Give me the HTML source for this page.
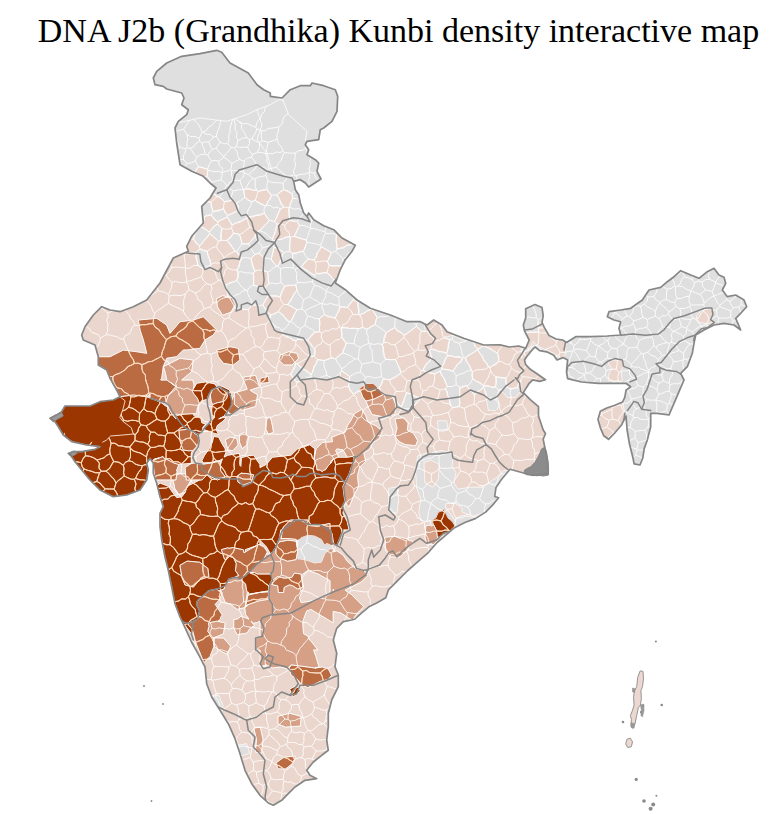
<!DOCTYPE html>
<html><head><meta charset="utf-8"><style>
html,body{margin:0;padding:0;background:#fff;}
body{width:771px;height:814px;overflow:hidden;position:relative;font-family:"Liberation Serif",serif;}
h1{position:absolute;left:13px;top:11px;width:771px;margin:0;font-weight:normal;font-size:34px;line-height:40px;text-align:center;color:#000;white-space:nowrap;}
svg{position:absolute;left:0;top:0}
</style></head><body>
<h1>DNA J2b (Grandhika) Kunbi density interactive map</h1>
<svg width="771" height="814" viewBox="0 0 771 814">
<defs><clipPath id="c"><polygon points="181.7,56.3 200.0,53.7 216.7,50.3 221.7,52.3 230.0,63.0 248.3,73.0 257.0,84.7 263.7,89.7 270.3,93.0 270.3,96.3 282.0,98.0 290.3,89.7 300.3,85.7 310.3,85.7 312.0,83.0 323.7,85.7 335.3,89.7 337.7,96.3 337.0,111.3 332.0,121.3 323.7,128.0 320.3,129.7 318.7,139.7 307.0,141.3 305.3,144.7 308.7,149.7 307.0,154.7 315.3,159.7 318.7,163.0 317.0,171.3 321.0,179.0 308.7,187.0 305.3,183.0 300.3,179.7 293.7,181.3 295.3,189.7 298.7,194.7 300.3,203.0 303.7,213.0 307.0,216.3 308.7,213.0 313.7,219.7 323.7,225.7 333.7,229.7 342.0,238.0 355.3,245.3 352.0,251.3 345.3,259.7 340.3,269.7 335.3,283.0 345.3,289.7 357.0,300.0 370.3,308.3 390.3,315.0 407.0,321.7 420.3,321.7 427.0,325.0 433.7,320.0 442.0,325.0 447.0,331.7 463.7,338.3 483.7,345.0 500.0,344.8 509.3,347.0 518.7,346.0 525.7,348.3 529.2,340.0 524.5,330.8 523.3,325.0 525.7,318.0 525.7,308.7 535.0,304.5 542.0,307.5 543.2,315.7 542.0,322.7 544.3,327.3 549.0,335.5 556.0,339.0 563.0,340.2 566.5,342.5 575.7,336.7 590.7,336.7 607.3,336.0 620.7,335.0 619.0,328.3 620.7,321.7 614.0,320.0 607.3,316.7 609.0,311.7 620.7,310.0 630.7,308.3 642.3,300.0 649.0,290.0 660.7,287.3 667.3,281.7 674.0,276.7 680.7,270.7 690.7,275.0 699.0,278.3 707.3,271.7 714.0,268.3 719.0,275.0 724.0,277.3 725.7,283.3 722.3,290.0 727.3,296.7 735.7,295.0 744.0,300.0 746.7,306.7 740.7,313.3 735.7,318.3 740.7,330.0 734.0,325.0 724.0,323.3 714.0,325.0 704.0,330.0 695.7,335.0 694.0,343.3 692.3,353.3 687.3,366.7 680.7,373.3 684.0,380.0 679.0,391.7 674.0,403.3 669.0,415.0 657.3,413.3 650.7,413.3 650.7,426.7 647.3,440.0 644.2,448.6 642.8,458.0 640.0,465.0 634.1,463.8 633.0,458.0 629.5,444.0 627.1,430.0 626.0,416.0 621.3,425.3 614.3,433.5 608.5,439.3 603.8,435.8 600.3,427.6 598.0,419.5 600.3,411.3 607.3,407.8 614.3,405.5 622.5,402.0 624.8,397.3 626.0,390.3 630.6,386.8 626.0,383.3 612.0,383.3 598.0,383.3 581.6,382.0 567.6,378.6 566.5,371.6 567.6,360.0 563.0,357.6 557.0,360.0 553.7,355.3 546.7,351.8 539.7,350.6 535.0,347.0 531.5,350.6 526.8,356.5 524.5,360.0 525.7,364.6 530.3,369.3 537.3,374.0 545.5,379.8 539.7,381.4 532.7,379.8 529.2,383.3 523.3,392.6 530.3,399.6 538.5,406.6 538.5,416.0 543.2,430.0 545.5,433.5 543.2,439.3 545.5,451.0 547.8,462.6 547.8,473.0 537.3,475.4 526.8,474.3 523.5,473.0 510.0,469.3 501.2,479.7 496.0,487.4 494.7,496.5 498.6,497.8 492.1,505.6 485.6,512.1 475.3,518.6 464.9,522.5 454.5,527.7 444.1,536.7 436.4,543.2 428.6,552.3 418.2,561.4 407.8,570.5 397.4,580.8 388.4,589.9 385.8,597.7 376.7,602.9 368.9,606.8 361.1,613.3 355.0,619.0 351.7,620.0 343.3,621.7 336.7,628.3 333.3,640.0 336.7,653.3 335.0,666.7 338.3,675.0 338.3,686.7 331.7,700.0 328.3,713.3 328.3,726.7 326.7,740.0 328.3,750.3 321.7,755.3 313.3,762.0 306.7,770.3 310.0,775.3 316.7,778.7 305.0,780.3 295.0,787.0 288.3,793.7 281.7,800.3 273.3,805.3 268.3,803.0 260.0,795.3 251.7,783.7 245.0,770.3 240.0,753.7 235.0,738.7 228.3,723.7 220.0,710.3 211.7,697.0 206.7,683.7 205.0,667.0 199.0,655.3 191.5,642.0 185.5,628.7 180.0,617.0 175.0,603.7 171.7,587.0 168.3,570.3 165.0,557.0 161.7,540.0 160.0,526.7 160.0,513.3 163.3,506.7 160.0,496.7 156.7,483.3 153.3,473.3 153.3,463.3 150.0,458.3 146.7,463.3 148.3,470.0 146.7,480.0 140.0,490.0 126.7,495.0 113.3,496.7 100.0,490.0 90.0,480.0 81.7,470.0 75.0,461.7 71.7,456.7 68.3,453.3 75.0,451.7 81.7,451.7 95.0,449.3 100.0,446.7 86.7,445.0 71.7,441.7 63.3,435.0 58.3,426.7 55.0,421.7 50.0,418.3 56.7,415.0 61.7,411.7 65.0,406.0 76.7,406.0 90.0,406.0 100.0,401.7 113.3,400.0 120.0,396.7 116.7,390.0 110.0,378.3 106.7,370.0 98.3,365.0 98.3,356.7 95.0,345.0 83.3,340.0 81.7,335.0 85.0,326.7 93.3,315.0 101.7,306.7 110.0,310.0 120.0,311.7 133.3,306.7 146.7,300.0 160.0,283.0 173.3,258.0 188.3,251.3 186.7,246.3 191.7,236.3 203.3,223.0 201.7,206.3 210.0,198.0 216.0,188.0 210.0,183.0 203.3,176.3 191.7,171.3 180.0,164.7 176.7,143.0 175.0,128.0 178.3,121.3 186.7,114.7 188.3,109.7 181.7,104.7 184.0,98.0 181.7,93.0 166.7,89.0 163.3,86.3 155.0,84.7 153.3,78.0 156.7,71.3 166.7,63.0"/></clipPath></defs>
<g clip-path="url(#c)">
<rect x="0" y="40" width="771" height="774" fill="#dfdfdf"/>
<path d="M195.7 173.0 203.3 176.3 204.3 177.3 209.3 182.3 211.7 182.7 211.7 182.4 207.1 176.4 207.8 171.1 207.9 170.3 207.6 169.3 198.4 166.7 195.1 172.2ZM223.5 208.7 227.6 215.4 238.2 211.0 236.5 203.1 233.5 201.3 233.5 201.3 231.6 200.1 224.4 201.6 218.9 196.8 216.8 196.6 215.0 194.2 211.4 195.7 210.0 198.0 206.1 201.9 210.8 202.2 213.0 211.4ZM165.0 371.7 163.3 366.7 161.7 378.3 160.8 380.0 166.7 380.0ZM170.6 382.6 175.9 386.5 175.9 386.3ZM150.0 393.9 146.7 396.7 150.0 397.9ZM168.5 408.4 167.0 403.9 165.6 402.7 157.8 400.8 155.8 400.1 160.0 401.7 166.7 406.7ZM154.0 459.2 153.6 460.0 159.3 457.9ZM177.2 470.8 176.6 475.3 178.9 473.8 185.6 473.8 185.0 468.2 185.3 468.1 185.1 467.5 191.3 463.4 178.9 464.4 176.6 470.6ZM153.3 465.7 153.3 473.3 154.9 478.1ZM191.8 480.0 187.2 486.2 193.4 483.1 199.6 480.0ZM160.2 483.1 168.5 486.2 172.6 492.4 176.8 497.6 182.0 496.6 185.1 492.4 178.9 494.5 174.7 488.3 173.1 480.0 155.6 480.0 156.7 483.3 157.2 485.3ZM222.3 593.1 220.4 590.2 219.7 592.0 221.9 594.2ZM247.5 597.3 247.3 596.4 247.8 596.3 248.1 595.0 259.0 592.5 248.9 594.2 248.5 592.3 247.3 592.3 247.1 593.7 247.2 594.2 246.6 597.5 245.3 606.8 244.9 606.6 244.7 607.7 248.9 604.3 245.5 606.0ZM257.9 191.5 256.9 190.5 245.5 188.9 243.7 189.7 244.9 197.3 250.7 201.2 251.4 201.7 255.2 200.4 265.6 205.9 266.4 205.3 271.5 195.1 267.2 189.6 261.4 190.8ZM289.0 207.6 289.6 207.2 292.8 198.3 291.8 193.7 283.5 189.7 276.8 195.0 283.8 207.1 280.5 209.1 274.6 221.5 277.2 224.0 272.6 239.0 273.3 240.9 287.3 237.5 290.0 236.9 290.3 237.1 289.9 246.2 289.7 251.2 292.6 253.3 303.4 251.5 307.0 242.3 307.0 242.1 307.0 242.1 306.0 240.0 294.0 236.4 294.7 235.0 299.5 225.4 297.2 221.6 289.6 220.5ZM277.0 266.4 277.6 266.5 283.6 252.5 273.9 247.1 271.3 259.5 276.7 266.1ZM308.5 259.0 301.6 266.6 314.7 275.4 316.3 273.4 327.1 272.8 330.9 276.9 333.6 279.8 336.7 279.3 340.3 269.7 342.1 266.0 329.2 265.5 327.5 261.3 331.4 252.4 321.8 247.0 321.8 247.0 321.1 246.7 316.1 256.1 314.0 260.1 311.9 259.7ZM264.1 258.5 262.5 256.9 259.0 253.2 254.8 254.5 251.0 258.5 253.8 267.5 254.9 271.0 253.2 273.4 253.6 285.2 265.4 287.5 268.9 283.3 267.5 272.0 262.5 270.1 262.8 267.5 263.0 266.2 263.0 266.2ZM284.9 286.2 283.6 289.2 283.2 290.2 280.1 297.1 268.1 295.9 262.8 305.1 270.0 314.5 270.0 317.8 270.6 315.3 278.5 311.6 289.6 321.8 290.3 321.6 297.1 309.7 294.7 308.5 287.5 304.6 296.9 290.3 295.7 284.9 295.5 284.9ZM222.0 443.6 225.2 448.7 225.9 452.6 224.2 457.0 227.8 455.2 235.6 453.9 239.5 453.3 240.1 457.8 239.8 463.1 240.1 465.5 240.9 466.3 240.8 465.6 241.4 457.8 242.2 457.6 243.7 457.1 250.0 455.2 250.0 455.7 253.6 455.1 257.7 461.3 260.0 464.4 260.0 467.5 266.2 464.4 272.5 457.2 282.8 456.1 291.1 455.1 297.4 448.9 309.8 444.7 315.0 448.9 314.0 459.2 316.0 448.9 322.3 442.6 324.6 442.4 325.3 441.7 326.3 442.2 332.6 441.6 331.6 437.4 338.9 434.3 345.1 432.3 347.2 426.0 351.3 419.8 354.4 413.6 361.7 409.4 365.8 415.7 367.9 421.9 376.2 426.0 382.4 431.2 379.3 438.5 373.1 442.6 370.0 448.9 363.8 453.0 365.8 461.3 359.6 467.5 357.5 475.8 358.6 486.2 353.4 496.6 349.2 507.0 345.1 502.8 343.0 513.2 347.2 521.5 349.2 530.0 343.0 530.0 339.9 538.3 336.8 545.6 333.5 543.6 333.7 545.0 331.4 545.5 331.6 545.6 334.7 550.8 333.2 551.5 333.2 551.9 336.8 550.8 343.0 554.9 347.2 561.1 355.5 568.4 363.8 570.5 367.9 575.7 361.7 581.9 353.4 586.0 345.1 590.2 351.3 594.3 357.5 600.6 363.8 606.8 357.5 613.0 352.8 619.7 355.0 619.0 361.1 613.3 368.9 606.8 376.7 602.9 385.8 597.7 388.4 589.9 397.4 580.8 407.8 570.5 418.2 561.4 428.6 552.3 436.4 543.2 444.1 536.7 447.5 533.7 446.1 534.5 445.7 534.9 438.6 538.4 433.7 545.0 431.3 543.8 427.0 545.3 424.9 537.0 425.9 525.6 430.8 524.9 430.4 522.0 420.8 520.4 418.7 512.1 420.8 499.6 416.6 487.2 415.6 470.6 417.6 456.0 427.0 452.9 432.5 453.5 432.5 452.5 440.8 450.5 451.1 452.5 451.2 453.0 451.9 452.9 452.9 459.1 451.9 466.4 456.0 472.6 454.0 483.0 458.1 489.2 470.6 487.2 483.0 487.2 491.3 480.9 497.5 476.8 503.8 470.6 508.9 470.6 510.0 469.3 523.5 473.0 526.8 474.3 537.3 475.4 547.8 473.0 547.8 462.6 545.5 451.0 543.2 439.3 545.5 433.5 543.2 430.0 538.5 416.0 538.5 406.6 530.3 399.6 525.6 394.9 521.0 392.0 523.7 392.0 529.2 383.3 532.7 379.8 539.7 381.4 545.5 379.8 542.2 377.5 531.0 370.0 530.6 369.5 530.3 369.3 525.7 364.6 524.5 360.0 526.8 356.5 531.5 350.6 533.4 348.7 532.0 349.0 524.0 352.0 521.7 358.1 521.0 348.0 521.5 346.9 518.7 346.0 509.3 347.0 502.4 345.4 500.0 344.8 483.7 345.0 472.2 341.2 477.8 349.3 483.7 345.8 497.6 353.2 498.7 361.3 489.9 367.4 488.6 367.1 482.3 357.1 477.6 349.7 465.5 357.9 466.5 360.1 471.4 370.8 471.6 370.9 472.4 371.6 472.7 378.8 483.8 385.8 483.9 386.0 495.6 387.1 495.9 376.7 505.8 378.0 506.6 382.7 507.4 387.3 511.0 388.9 516.8 387.7 519.4 382.8 519.6 383.0 520.6 391.3 515.5 397.5 507.2 397.5 502.0 391.3 502.4 389.0 498.8 390.2 496.5 398.1 497.8 398.6 499.9 405.8 497.5 408.2 497.5 409.3 496.3 409.5 494.7 411.0 491.6 410.0 488.2 410.4 487.7 405.4 486.4 399.6 488.8 398.2 487.7 397.9 483.5 387.1 474.4 395.0 467.0 385.9 464.5 386.5 461.5 388.2 460.4 387.4 460.1 387.5 459.1 406.5 452.6 407.8 451.5 406.3 445.3 388.8 447.4 386.4 443.9 378.9 443.9 378.9 440.2 371.2 434.9 373.7 426.4 371.4 425.2 371.1 422.8 370.4 431.6 357.4 430.0 351.8 429.6 350.2 430.7 349.3 441.6 352.0 446.6 353.2 447.3 350.5 449.9 339.7 443.8 337.6 443.9 337.4 453.2 335.3 461.5 339.4 465.6 340.4 467.6 339.6 463.7 338.3 447.0 331.7 443.2 326.6 443.2 326.6 442.0 325.0 433.7 320.0 430.0 322.8 428.5 323.9 427.0 325.0 424.7 323.9 425.0 331.4 421.6 331.2 416.4 326.4 404.0 335.4 400.5 332.5 394.8 327.6 386.3 332.6 383.7 342.8 382.1 344.3 385.5 359.2 395.7 359.6 400.5 371.7 400.7 372.2 400.4 373.4 389.4 379.8 383.3 378.8 380.3 385.5 379.4 387.7 380.3 389.6 380.3 390.0 380.8 390.4 380.8 390.5 381.0 390.7 382.4 392.0 384.3 394.0 385.3 395.0 389.3 395.7 392.8 397.0 392.8 397.0 393.6 399.1 395.9 405.3 394.9 414.6 382.4 416.7 372.1 414.6 368.9 408.4 365.8 401.1 362.7 397.0 360.4 390.8 353.6 394.3 348.8 387.0 349.1 381.8 348.7 381.7 338.7 376.7 327.0 380.0 317.9 378.9 314.6 380.1 312.8 378.4 304.2 379.5 296.9 382.3 290.8 374.1 295.5 363.7 296.9 363.6 302.5 368.1 311.0 375.0 317.5 359.6 324.2 360.5 331.4 357.8 335.7 358.8 342.9 353.0 346.2 342.9 341.9 336.9 341.0 328.0 341.3 327.9 353.7 328.6 358.3 328.9 360.3 328.2 362.7 327.4 363.5 327.8 367.0 329.4 368.8 328.3 375.2 324.6 377.2 317.5 371.8 309.1 364.0 312.9 359.7 315.0 358.7 314.5 357.9 302.2 353.5 299.8 347.4 307.5 340.0 307.0 335.2 318.2 324.4 314.7 319.2 318.7 319.7 331.8 315.2 332.2 307.6 340.3 314.8 349.2 314.1 356.2 309.9 356.3 309.4 356.6 310.3 355.0 308.7 346.7 304.7 340.1 297.6 339.5 296.0 340.8 282.8 334.6 282.5 333.0 277.0 331.7 274.5 330.0 274.2 329.4 275.4 325.7 269.2 321.3 269.5 319.8 266.2 313.2 258.9 315.3 257.9 307.0 257.3 305.1 252.0 305.0 248.2 309.6 241.3 308.6 241.3 309.0 236.1 311.1 236.6 308.0 235.0 307.8 234.3 306.3 230.9 312.2 222.6 315.3 217.4 307.0 216.4 298.7 222.6 295.6 231.5 297.5 227.6 296.7 226.7 289.7 225.7 288.3 223.9 283.3 226.1 285.0 236.9 280.4 237.9 272.1 236.7 270.0 242.0 258.0 236.6 251.4 234.9 251.2 226.9 240.4 228.9 238.2 233.5 233.0 239.6 234.4 241.3 240.9 242.1 243.9 248.6 243.8 255.2 236.2 255.6 231.7 260.0 230.7 269.3 220.4 264.3 213.2 247.5 217.3 247.5 217.5 243.4 219.5 240.9 220.7 232.0 225.1 227.1 216.9 217.9 222.0 211.3 215.0 204.4 216.6 203.0 220.2 203.3 223.0 201.1 225.6 201.1 225.6 200.1 226.6 200.7 226.5 209.1 232.0 212.3 229.0 215.4 226.0 217.6 224.0 219.6 226.0 221.6 228.1 222.0 228.5 221.6 233.5 221.1 240.4 218.4 241.4 212.3 235.9 209.6 233.5 199.4 246.2 198.4 244.9 193.6 239.1 196.3 231.0 191.7 236.3 190.3 239.2 187.0 245.7 186.7 246.3 188.3 251.3 186.4 252.2 183.2 253.6 183.5 253.9 180.5 254.8 173.3 258.0 160.0 283.0 146.7 300.0 133.3 306.7 120.0 311.7 110.0 310.0 101.7 306.7 93.3 315.0 85.0 326.7 81.7 335.0 83.3 340.0 95.0 345.0 98.3 356.7 98.3 356.9 98.3 356.7 110.0 356.7 123.3 350.0 136.7 351.7 146.7 353.3 143.3 340.0 140.0 330.0 138.3 320.0 156.7 318.3 166.7 325.0 170.0 333.3 180.0 321.7 193.3 320.0 203.3 316.7 210.0 323.3 216.7 330.0 213.3 335.0 205.0 340.0 200.0 348.3 186.7 350.0 183.3 350.0 176.7 356.7 166.7 358.3 163.3 366.7 180.0 358.3 193.3 360.0 191.7 371.7 181.7 380.0 192.8 380.0 194.1 385.2 193.3 389.0 196.7 383.2 205.8 381.9 214.9 383.9 217.4 387.8 222.6 386.5 229.1 389.7 231.7 394.3 231.7 400.8 233.0 396.9 234.3 396.2 234.3 392.8 247.2 389.2 242.1 377.3 255.7 375.3 259.6 387.0 250.0 390.2 257.6 394.8 255.7 406.5 242.1 410.4 239.4 408.3 235.6 411.1 230.4 415.0 227.8 411.1 223.9 416.3 218.7 418.9 222.6 417.6 226.5 417.6 222.6 421.5 217.4 425.4 216.1 429.3 218.7 434.5 213.6 433.2 208.4 431.2 204.5 429.9 203.8 428.0 208.4 424.1 211.0 420.2 214.9 417.0 212.0 415.0 211.6 409.8 212.3 404.6 211.0 400.8 210.3 394.9 212.3 389.7 209.0 394.3 207.1 399.5 201.9 400.8 199.3 403.3 197.3 408.5 196.7 413.7 192.8 413.7 194.7 416.3 200.6 416.3 201.9 422.8 205.8 424.1 203.2 426.7 201.9 431.9 198.0 434.5 197.7 434.3 197.5 434.3 192.2 431.0 190.2 430.3 191.5 431.7 192.8 431.9 198.0 435.8 199.3 441.0 197.3 446.1 192.8 450.7 192.7 450.7 191.3 453.0 191.3 463.4 195.4 463.0 195.4 463.0 201.9 464.3 211.0 463.0 211.5 462.9 220.0 461.1 220.3 464.8 222.3 458.9 220.0 460.4 211.0 462.4 203.2 463.0 201.9 460.4 204.5 455.2 208.4 450.0 212.3 442.3 213.6 436.4 218.7 437.1ZM342.5 326.5 342.5 326.5 341.3 327.9ZM401.0 406.8 406.5 392.7 420.5 398.0 420.5 398.0 411.3 408.4 410.6 408.4 408.7 411.7 397.0 406.7 396.2 401.8ZM520.6 387.2 520.2 381.4 521.0 379.8 521.0 387.6ZM521.0 373.7 521.0 374.4 520.7 373.9ZM411.0 380.4 411.9 380.3 410.3 386.7ZM205.0 268.6 204.8 267.8 203.0 268.5 197.9 265.5 196.0 252.6 198.6 250.0 199.9 248.7 207.2 251.2 207.7 253.0 208.1 254.4 210.9 264.4 210.3 265.4 212.4 269.1ZM230.0 346.7 238.3 348.3 240.0 360.0 233.3 365.0 223.3 363.3 218.3 356.7 216.7 350.0ZM407.3 430.2 413.6 433.3 417.7 440.6 415.6 445.7 405.3 444.7 399.0 441.6 394.9 436.4 397.0 428.1 394.9 418.8 403.2 417.7 408.4 421.9ZM270.4 416.7 272.5 426.0 273.5 432.3 268.3 434.3 265.8 429.1 266.2 417.7ZM269.3 382.5 260.0 383.5 260.0 378.3 268.3 376.2ZM394.9 536.2 397.6 537.0 400.0 537.2 400.0 537.0 401.3 537.3 402.0 537.3 402.1 537.5 408.3 539.0 408.3 540.1 413.6 541.4 409.4 546.6 408.3 547.2 408.3 549.4 407.0 549.9 407.0 550.0 400.3 557.0 390.3 557.0 385.3 550.0 385.3 541.8 384.5 537.3ZM283.7 365.0 278.7 360.0 280.3 355.0 288.7 351.7 297.0 353.3 298.7 358.3 292.0 365.0ZM447.9 428.7 448.1 430.1 445.1 430.4 442.8 431.8 441.5 430.8 438.4 431.1 437.4 420.8 446.7 420.8 447.8 428.1 448.0 428.7ZM397.0 486.7 398.7 500.0 397.0 513.3 388.7 511.7 388.7 493.5 388.7 493.5 388.7 493.5 388.7 488.3ZM244.7 432.5 248.6 437.1 247.3 444.9 242.1 448.7 239.5 442.3 239.5 434.5ZM225.2 439.7 230.4 437.1 236.9 438.4 238.2 444.9 233.0 450.7 227.8 450.0ZM332.0 460.0 330.8 461.8 330.6 463.4 333.2 459.4ZM297.8 541.1 298.9 540.0 297.4 540.4 296.3 540.4 296.4 541.3 297.4 541.4 297.8 545.4ZM266.3 554.3 270.4 553.9 266.2 546.6 260.0 540.4 260.0 544.5 260.0 544.9 264.1 547.0 267.4 552.0ZM271.0 554.3 273.1 551.1 270.4 553.9ZM302.9 574.0 301.2 575.6 303.7 587.4 299.5 597.6 301.2 602.6 311.3 600.9 321.4 597.6 330.0 594.2 330.0 580.7 318.0 574.0 307.9 570.6ZM333.2 590.7 333.7 590.2 333.2 589.2ZM301.5 684.6 297.4 679.4 291.1 675.3 289.1 668.0 291.1 664.9 287.0 669.0 280.8 667.0 272.5 668.0 266.2 664.9 260.0 667.0 260.0 650.0 255.6 650.0 255.6 638.0 260.0 637.4 260.0 621.3 258.3 621.8 257.3 622.9 256.1 622.6 253.6 623.4 251.6 621.4 251.1 621.3 254.6 625.5 249.8 628.7 247.2 633.0 237.1 634.7 233.7 627.9 233.7 619.5 237.9 618.8 241.1 616.1 249.0 619.1 245.5 614.4 244.7 607.7 237.1 609.4 230.4 604.3 225.3 602.6 221.9 594.2 218.5 600.9 215.2 604.3 217.9 608.4 218.3 608.9 222.4 615.1 221.3 616.2 220.2 619.5 217.7 621.3 225.3 622.9 223.6 633.0 223.6 633.0 223.5 633.8 216.2 636.9 213.1 637.9 214.1 646.2 210.0 656.6 203.8 662.8 200.6 654.5 195.5 642.1 192.3 629.6 191.3 633.8 182.1 621.5 185.5 628.7 191.5 642.0 199.0 655.3 205.0 667.0 206.7 683.7 211.7 697.0 211.9 697.3 211.7 696.9 218.7 694.9 223.4 706.6 219.4 709.3 220.0 710.3 228.3 723.7 235.0 738.7 237.3 745.5 246.7 743.6 249.8 753.3 240.9 756.0 239.7 752.8 240.0 753.7 245.0 770.3 251.7 783.7 260.0 795.3 268.3 803.0 273.3 805.3 281.7 800.3 288.3 793.7 295.0 787.0 305.0 780.3 316.7 778.7 310.0 775.3 306.7 770.3 313.3 762.0 321.7 755.3 328.3 750.3 326.7 740.0 328.3 726.7 328.3 713.3 331.7 700.0 338.3 686.7 338.3 675.0 335.0 666.7 336.7 653.3 333.3 640.0 336.7 628.3 343.3 621.7 351.7 620.0 351.8 620.0 347.2 617.2 340.9 613.0 333.2 611.5 333.2 622.9 310.8 609.4 309.8 609.9 306.7 610.9 302.9 621.2 302.9 625.0 303.6 633.8 307.7 635.8 309.8 640.0 310.0 640.4 311.3 641.4 318.0 650.0 313.6 650.0 316.0 656.6 319.1 667.0 315.0 668.0 322.3 667.0 328.5 669.0 331.6 675.3 328.5 679.4 320.2 681.5 314.0 684.6 307.7 687.7ZM214.1 637.9 223.5 637.9 230.7 646.2 227.6 654.5 219.3 650.4 214.1 646.2ZM277.9 716.3 289.5 713.2 301.2 716.3 300.4 726.1 285.6 727.2 277.9 724.1ZM277.9 768.9 275.9 763.0 283.7 757.2 295.4 756.0 293.4 763.0 285.6 768.9ZM255.3 752.1 256.5 739.7 253.7 728.0 260.4 727.2 263.1 739.7 261.5 753.3ZM297.3 685.2 300.4 691.0 293.4 696.9 289.5 689.1ZM336.5 235.2 336.8 249.3 352.6 243.8 342.0 238.0 338.2 234.2ZM698.8 322.3 706.6 323.6 713.0 322.3 710.5 319.7 713.0 314.5 711.8 308.0 701.4 310.6 696.2 315.8ZM542.0 322.7 542.1 321.8 538.4 322.5 538.6 327.6 542.9 327.0 542.6 323.9ZM563.0 340.2 556.0 339.0 552.6 337.3 548.7 336.3 544.5 328.0 542.4 328.0 538.6 328.4 538.7 332.0 525.8 332.5 524.8 331.5 525.2 332.1 529.2 340.0 526.0 347.6 525.8 348.8 530.0 347.7 533.1 341.5 538.3 346.7 546.6 349.8 554.9 354.0 559.8 358.9 562.8 357.7 565.3 354.0 566.2 342.3ZM453.0 371.2 455.8 367.4 457.8 364.6 461.8 359.2 462.5 358.2 447.6 355.7 443.2 364.6 442.8 365.2 441.8 367.2 441.9 368.9ZM622.3 359.9 614.5 359.9 608.0 362.5 611.9 368.9 609.3 372.8 608.0 380.6 622.3 381.4 621.0 370.2 623.6 366.4ZM349.3 379.1 349.5 376.5 342.0 371.2 340.1 372.6 340.6 377.3ZM622.4 402.0 618.0 403.9 615.8 405.3 610.0 406.9 607.3 407.8 605.2 408.8 600.0 412.3 598.9 416.3 598.9 422.7 600.3 427.6 600.3 427.6 603.8 435.8 603.8 435.8 608.1 439.0 608.8 439.0 614.3 433.5 621.3 425.3 623.1 421.8 623.6 420.8 624.9 413.0ZM347.2 457.2 343.0 449.9 336.8 448.9 335.7 450.7 338.7 456.7 337.7 457.2ZM431.1 460.2 423.9 462.3 424.9 483.0 433.2 487.2 438.4 478.9 439.4 464.3ZM508.9 470.6 501.7 476.8 496.5 485.1 494.4 494.4 494.9 494.9 496.0 487.4 501.2 479.7ZM454.0 502.7 445.7 503.8 445.7 508.2 446.7 508.2 455.5 521.4 456.0 518.3 462.3 515.2 472.6 517.3 481.8 514.5 485.6 512.1 492.1 505.6 498.6 497.8 497.4 497.4 497.5 497.5 491.3 505.8 483.0 513.1 472.6 516.2 462.3 512.1 461.8 511.8 462.3 507.9ZM454.5 527.7 454.5 527.7 457.7 526.1 456.1 525.2Z" fill="#ead6cc" fill-rule="evenodd" stroke="#ead6cc" stroke-width="0.4"/>
<path d="M169.5 405.9 167.0 403.9 168.5 408.4 171.6 413.6 175.7 418.8 176.7 417.5 175.9 416.3 179.8 414.4 192.8 413.7 196.7 413.7 197.3 408.5 199.3 403.3 197.3 398.2 194.1 394.3 192.2 391.0 193.3 389.0 194.1 385.2 192.8 380.0 181.7 380.0 191.7 371.7 193.3 360.0 180.0 358.3 163.3 366.7 165.0 371.7 166.7 380.0 175.9 386.3 175.9 386.5 168.2 395.6 165.6 402.7ZM178.9 473.8 176.6 475.3 175.9 480.0 173.1 480.0 174.7 488.3 178.9 494.5 185.1 492.4 187.2 486.2 191.8 480.0 186.3 480.0 185.6 473.8ZM345.1 432.3 338.9 434.3 331.6 437.4 332.6 441.6 326.3 442.2 325.3 441.7 324.6 442.4 322.3 442.6 316.0 448.9 314.0 459.2 316.5 466.0 317.0 470.0 320.1 470.0 322.3 471.7 323.9 470.0 325.3 470.0 328.1 465.8 330.6 463.4 330.8 461.8 332.0 460.0 338.7 456.7 335.7 450.7 336.8 448.9 343.0 449.9 347.2 457.2 354.4 456.1 353.4 463.4 351.3 467.5 349.2 473.8 346.1 480.0 343.0 486.2 344.0 494.5 345.1 502.8 349.2 507.0 353.4 496.6 358.6 486.2 357.5 475.8 359.6 467.5 365.8 461.3 363.8 453.0 370.0 448.9 373.1 442.6 379.3 438.5 382.4 431.2 376.2 426.0 367.9 421.9 365.8 415.7 361.7 409.4 354.4 413.6 351.3 419.8 347.2 426.0ZM385.3 395.0 384.3 394.0 374.1 399.1 365.8 401.1 368.9 408.4 372.1 414.6 382.4 416.7 394.9 414.6 395.9 405.3 392.8 397.0 389.3 395.7ZM394.9 418.8 397.0 428.1 394.9 436.4 399.0 441.6 405.3 444.7 415.6 445.7 417.7 440.6 413.6 433.3 407.3 430.2 408.4 421.9 403.2 417.7ZM270.4 416.7 266.2 417.7 265.8 429.1 268.3 434.3 273.5 432.3 272.5 426.0ZM319.1 667.0 316.0 656.6 313.6 650.0 318.0 650.0 311.3 641.4 310.0 640.4 309.8 640.0 307.7 635.8 303.6 633.8 302.9 625.0 302.9 621.2 306.7 610.9 309.8 609.9 310.8 609.4 333.2 622.9 333.2 611.5 340.9 613.0 347.2 617.2 351.8 620.0 352.8 619.7 357.5 613.0 363.8 606.8 357.5 600.6 351.3 594.3 345.1 590.2 353.4 586.0 361.7 581.9 367.9 575.7 363.8 570.5 355.5 568.4 347.2 561.1 343.0 554.9 336.8 550.8 333.2 551.9 333.2 548.7 330.0 548.7 324.8 553.7 321.4 562.2 317.0 562.7 314.7 563.0 305.2 559.8 305.2 559.8 304.5 559.6 297.8 558.8 297.8 550.4 296.1 559.6 287.7 561.3 279.2 557.9 275.9 553.7 275.9 547.0 271.0 554.3 270.4 553.9 266.3 554.3 264.1 558.8 257.3 563.8 250.6 570.6 248.8 572.4 249.4 572.5 254.5 572.5 257.3 574.0 260.0 574.0 270.8 574.0 272.5 579.0 270.0 584.1 269.1 590.8 260.0 592.3 260.0 592.4 269.1 591.7 269.1 599.2 259.0 600.9 248.9 604.3 244.7 607.7 245.5 614.4 249.0 619.1 241.1 616.1 237.9 618.8 233.7 619.5 233.7 627.9 237.1 634.7 247.2 633.0 249.8 628.7 254.6 625.5 251.1 621.3 251.6 621.4 253.6 623.4 256.1 622.6 257.3 622.9 258.3 621.8 260.0 621.3 260.0 637.4 255.6 638.0 255.6 650.0 260.0 650.0 260.0 667.0 266.2 664.9 272.5 668.0 280.8 667.0 287.0 669.0 291.1 664.9 299.4 665.9 307.7 667.0 315.0 668.0ZM333.2 590.7 333.2 589.2 333.7 590.2ZM302.9 587.4 297.8 589.1 292.7 585.8 289.4 584.9 284.3 587.4 283.5 592.5 278.4 592.5 277.6 585.8 272.5 584.9 272.5 580.7 277.6 576.5 284.3 578.2 291.9 577.3 294.4 573.1 301.2 574.0 301.4 575.5 302.9 574.0 307.9 570.6 318.0 574.0 330.0 580.7 330.0 594.2 321.4 597.6 311.3 600.9 301.2 602.6 299.5 597.6 303.7 587.4 301.7 578.0ZM280.9 538.5 282.6 530.1 279.2 538.5 275.9 547.0 279.2 541.9 287.7 540.2 296.1 541.1 297.8 550.4 296.1 539.4 287.7 538.5ZM245.3 549.7 245.3 552.0 250.6 548.7 256.1 545.9ZM228.7 579.0 225.3 585.8 224.0 589.0 220.4 590.2 222.3 593.1 221.9 594.2 225.3 602.6 230.4 604.3 237.1 609.4 244.7 607.7 244.9 606.6 245.3 606.8 246.6 597.5 247.2 594.2 247.1 593.7 247.3 592.3 246.6 590.3 245.5 584.1 240.5 579.0 235.4 577.3ZM208.4 622.9 209.2 626.7 208.6 627.0 207.9 631.7 213.1 637.9 216.2 636.9 223.5 633.8 223.6 633.0 223.6 633.0 225.3 622.9 216.9 621.2ZM223.5 637.9 214.1 637.9 214.1 646.2 219.3 650.4 227.6 654.5 230.7 646.2ZM400.0 537.2 397.6 537.0 394.9 536.2 384.5 537.3 385.3 541.8 385.3 550.0 390.3 557.0 400.3 557.0 407.0 550.0 407.0 549.9 408.3 549.4 408.3 547.2 409.4 546.6 413.6 541.4 408.3 540.1 408.3 539.0 402.1 537.5 402.0 537.3 401.3 537.3 400.0 537.0ZM288.7 351.7 280.3 355.0 278.7 360.0 283.7 365.0 292.0 365.0 298.7 358.3 297.0 353.3ZM425.9 525.6 424.9 537.0 427.0 545.3 431.3 543.8 433.7 545.0 438.6 538.4 437.4 539.0 437.2 537.7 437.1 537.7 437.4 537.3 436.4 530.2 433.8 525.1 431.0 526.2 430.8 524.9ZM277.9 724.1 285.6 727.2 300.4 726.1 301.2 716.3 289.5 713.2 277.9 716.3ZM253.7 728.0 256.5 739.7 255.3 752.1 261.5 753.3 263.1 739.7 260.4 727.2ZM232.0 297.6 222.6 295.6 216.4 298.7 217.4 307.0 222.6 315.3 230.9 312.2 235.1 304.9ZM248.6 437.1 244.7 432.5 239.5 434.5 239.5 442.3 242.1 448.7 247.3 444.9ZM238.2 444.9 236.9 438.4 230.4 437.1 225.2 439.7 227.8 450.0 233.0 450.7ZM257.6 394.8 250.0 390.2 259.6 387.0 255.7 375.3 242.1 377.3 247.2 389.2 234.3 392.8 234.3 404.5 242.1 410.4 255.7 406.5Z" fill="#d5a085" fill-rule="evenodd" stroke="#d5a085" stroke-width="0.4"/>
<path d="M133.3 395.0 146.7 396.7 150.0 393.9 150.0 398.2 157.8 400.8 165.6 402.7 168.2 395.6 175.9 386.5 170.6 382.6 166.7 380.0 160.8 380.0 161.7 378.3 163.3 366.7 166.7 358.3 176.7 356.7 183.3 350.0 186.7 350.0 200.0 348.3 205.0 340.0 213.3 335.0 216.7 330.0 210.0 323.3 203.3 316.7 193.3 320.0 180.0 321.7 170.0 333.3 166.7 325.0 156.7 318.3 138.3 320.0 140.0 330.0 143.3 340.0 146.7 353.3 136.7 351.7 123.3 350.0 110.0 356.7 98.3 356.7 98.3 356.9 98.3 365.0 106.7 370.0 110.0 378.3 116.7 390.0 120.0 396.7 120.0 396.7ZM238.3 348.3 230.0 346.7 216.7 350.0 218.3 356.7 223.3 363.3 233.3 365.0 240.0 360.0ZM197.3 446.1 199.3 441.0 198.0 435.8 192.8 431.9 191.5 431.7 190.2 430.3 189.2 429.9 187.7 429.3 178.9 430.2 179.9 440.6 183.0 449.9 187.6 450.7 187.6 450.7 187.8 450.7 189.2 450.9 189.6 450.7 192.8 450.7ZM152.6 460.4 152.9 462.7 153.3 463.3 153.3 465.7 154.9 478.1 155.6 480.0 175.9 480.0 177.2 470.8 176.6 470.6 178.9 464.4 174.7 463.4 163.4 457.7 163.0 456.5ZM191.3 463.4 185.1 467.5 185.3 468.1 185.0 468.2 186.3 480.0 201.9 480.0 207.1 474.7 217.4 480.0 225.2 476.6 220.7 470.8 220.0 461.1 211.5 462.9 211.5 462.9 211.0 463.0 201.9 464.3 195.4 463.0 195.4 463.0ZM243.2 485.2 251.5 482.1 253.6 474.8 245.8 473.4 242.1 473.4 242.0 472.8 238.4 475.0 238.2 476.0 237.0 476.2 238.0 482.1ZM384.3 394.0 381.0 390.7 373.1 383.5 365.8 383.5 359.6 388.7 362.7 397.0 365.8 401.1 374.1 399.1ZM260.0 378.3 260.0 383.5 269.3 382.5 268.3 376.2ZM296.4 541.3 297.8 550.4 297.8 545.4 297.4 541.4ZM297.4 540.4 298.9 540.0 301.2 537.7 307.9 535.2 314.7 536.0 321.4 539.4 324.1 544.2 324.2 544.1 324.8 545.3 325.9 543.8 327.4 543.5 331.4 545.5 333.7 545.0 332.0 533.3 331.0 532.5 330.6 530.0 330.0 530.0 330.0 523.4 318.0 525.9 311.3 525.1 307.9 520.0 303.7 520.0 294.4 520.0 290.3 520.0 283.7 526.7 282.0 530.0 280.8 530.0 280.3 533.3 280.3 533.3 280.3 533.3 279.9 537.0 282.6 530.1 280.9 538.5 287.7 538.5 296.1 539.4 296.3 540.4ZM208.9 576.7 207.9 568.4 199.6 562.2 187.2 561.1 179.9 565.3 182.0 577.7 185.1 585.0 193.4 587.1 199.6 579.8ZM257.3 563.8 264.1 558.8 267.4 552.0 264.1 547.0 259.0 544.4 250.6 548.7 244.0 552.8 243.2 549.7 232.8 547.6 229.0 548.3 227.8 547.8 221.9 549.5 221.9 549.6 221.4 549.7 223.1 554.8 223.6 557.1 223.9 557.3 224.5 559.1 225.9 559.9 229.5 556.3 233.7 557.9 236.3 563.8 235.4 570.6 238.8 575.6 235.2 576.8 235.4 577.3 240.5 579.0 245.5 575.6 250.6 570.6ZM193.4 621.3 187.2 623.4 192.3 629.6 195.5 642.1 200.6 654.5 203.8 662.8 210.0 656.6 214.1 646.2 213.1 637.9 207.9 631.7 208.6 627.0 209.2 626.7 208.4 622.9 216.9 621.2 217.7 621.3 220.2 619.5 221.3 616.2 222.4 615.1 218.3 608.9 217.9 608.4 215.2 604.3 218.5 600.9 221.9 594.2 219.7 592.0 220.4 590.2 218.5 590.7 216.9 589.1 208.4 590.8 200.0 599.2 200.0 599.3 197.5 600.6 196.5 604.7 199.6 610.9 197.5 619.2ZM259.0 600.9 269.1 599.2 269.1 591.7 260.0 592.4 260.0 592.3 259.5 592.4 259.3 592.5 259.0 592.5 248.1 595.0 247.8 596.3 247.3 596.4 247.5 597.3 245.5 606.0 248.9 604.3ZM315.0 668.0 307.7 667.0 299.4 665.9 291.1 664.9 289.1 668.0 291.1 675.3 297.4 679.4 301.5 684.6 307.7 687.7 314.0 684.6 320.2 681.5 328.5 679.4 331.6 675.3 328.5 669.0 322.3 667.0ZM297.8 550.4 296.1 541.1 287.7 540.2 279.2 541.9 275.9 547.0 275.9 553.7 279.2 557.9 287.7 561.3 296.1 559.6ZM301.4 575.5 301.2 574.0 294.4 573.1 291.9 577.3 284.3 578.2 277.6 576.5 272.5 580.7 272.5 584.9 277.6 585.8 278.4 592.5 283.5 592.5 284.3 587.4 289.4 584.9 292.7 585.8 297.8 589.1 302.9 587.4 301.7 578.0 301.2 575.6ZM277.9 768.9 285.6 768.9 293.4 763.0 295.4 756.0 283.7 757.2 275.9 763.0ZM222.6 394.0 218.7 390.4 217.4 387.8 212.3 389.7 210.3 394.9 211.0 400.8 212.3 404.6 217.4 402.7 223.9 401.4 226.5 398.8 227.6 394.9ZM234.3 396.2 233.0 396.9 231.7 400.8 231.7 405.9 227.8 411.1 230.4 415.0 235.6 411.1 239.4 408.3 234.3 404.5Z" fill="#bb6b42" fill-rule="evenodd" stroke="#bb6b42" stroke-width="0.4"/>
<path d="M126.7 495.0 140.0 490.0 146.7 480.0 148.3 470.0 146.7 463.3 150.0 458.3 152.7 462.4 152.8 462.1 152.6 460.4 153.6 460.0 154.0 459.2 159.3 457.9 163.0 456.5 163.4 457.7 174.7 463.4 178.9 464.4 191.3 463.4 191.3 453.0 192.7 450.7 189.6 450.7 189.2 450.9 187.8 450.7 187.6 450.7 187.6 450.7 183.0 449.9 179.9 440.6 178.9 430.2 187.7 429.3 187.6 429.3 192.2 431.0 197.5 434.3 197.7 434.3 198.0 434.5 201.9 431.9 203.2 426.7 205.8 424.1 201.9 422.8 200.6 416.3 194.7 416.3 192.8 413.7 179.8 414.4 175.9 416.3 178.5 420.2 176.7 417.5 176.2 418.2 175.7 418.8 171.6 413.6 168.5 408.4 166.7 406.7 160.0 401.7 155.8 400.1 150.0 398.2 150.0 397.9 146.7 396.7 133.3 395.0 120.0 396.7 120.0 396.7 120.0 396.7 115.5 398.9 113.3 400.0 113.3 400.0 113.3 400.0 100.0 401.7 90.0 406.0 76.7 406.0 65.0 406.0 61.7 411.7 56.7 415.0 50.0 418.3 55.0 421.7 58.3 426.7 63.3 435.0 71.7 441.7 86.7 445.0 100.0 446.7 95.0 449.3 81.7 451.7 75.0 451.7 68.3 453.3 71.7 456.7 75.0 461.7 81.7 470.0 90.0 480.0 100.0 490.0 113.3 496.7ZM220.0 460.4 222.3 458.9 220.3 464.8 220.7 470.8 225.2 476.6 217.4 480.0 207.1 474.7 201.9 480.0 199.6 480.0 193.4 483.1 187.2 486.2 185.1 492.4 182.0 496.6 176.8 497.6 172.6 492.4 168.5 486.2 160.2 483.1 157.2 485.3 160.0 496.7 163.3 506.7 160.0 513.3 160.0 526.7 161.7 540.0 165.0 557.0 168.3 570.3 171.7 587.0 175.0 603.7 180.0 617.0 182.1 621.5 191.3 633.8 192.3 629.6 187.2 623.4 193.4 621.3 197.5 619.2 199.6 610.9 196.5 604.7 197.5 600.6 200.0 599.3 200.0 599.2 208.4 590.8 216.9 589.1 218.5 590.7 220.4 590.2 224.0 589.0 225.3 585.8 228.7 579.0 235.4 577.3 235.2 576.8 238.8 575.6 235.4 570.6 236.3 563.8 233.7 557.9 229.5 556.3 225.9 559.9 224.5 559.1 223.9 557.3 223.6 557.1 223.1 554.8 221.4 549.7 221.9 549.6 221.9 549.5 227.8 547.8 229.0 548.3 232.8 547.6 243.2 549.7 244.0 552.8 245.3 552.0 245.3 549.7 256.1 545.9 259.0 544.4 259.5 544.7 260.0 544.5 260.0 540.4 266.2 546.6 270.4 553.9 273.1 551.1 275.9 547.0 279.2 538.5 279.9 537.0 280.3 533.3 280.3 533.3 280.3 533.3 280.8 530.0 282.0 530.0 283.7 526.7 290.3 520.0 294.4 520.0 303.7 520.0 307.9 520.0 311.3 525.1 318.0 525.9 330.0 523.4 330.0 530.0 330.6 530.0 331.0 532.5 332.0 533.3 333.5 543.6 336.8 545.6 339.9 538.3 343.0 530.0 349.2 530.0 347.2 521.5 343.0 513.2 345.1 502.8 344.0 494.5 343.0 486.2 346.1 480.0 349.2 473.8 351.3 467.5 353.4 463.4 354.4 456.1 347.2 457.2 337.7 457.2 333.2 459.4 330.6 463.4 328.1 465.8 325.3 470.0 323.9 470.0 322.3 471.7 320.1 470.0 317.0 470.0 316.5 466.0 314.0 459.2 315.0 448.9 309.8 444.7 297.4 448.9 291.1 455.1 282.8 456.1 272.5 457.2 266.2 464.4 260.0 467.5 260.0 464.4 257.7 461.3 253.6 455.1 250.0 455.7 250.0 455.2 243.7 457.1 242.2 457.6 241.4 457.8 240.8 465.6 240.9 466.3 240.1 465.5 239.8 463.1 240.1 457.8 239.5 453.3 235.6 453.9 227.8 455.2 224.2 457.0 225.9 452.6 225.2 448.7 222.0 443.6 218.7 437.1 213.6 436.4 212.3 442.3 208.4 450.0 204.5 455.2 201.9 460.4 203.2 463.0 211.0 462.4ZM238.0 482.1 237.0 476.2 238.2 476.0 238.4 475.0 242.0 472.8 242.1 473.4 245.8 473.4 253.6 474.8 251.5 482.1 243.2 485.2ZM193.4 587.1 185.1 585.0 182.0 577.7 179.9 565.3 187.2 561.1 199.6 562.2 207.9 568.4 208.9 576.7 199.6 579.8ZM245.5 575.6 240.5 579.0 245.5 584.1 246.6 590.3 247.3 592.3 248.5 592.3 248.9 594.2 259.0 592.5 269.1 590.8 270.0 584.1 272.5 579.0 270.8 574.0 260.0 574.0 257.3 574.0 254.5 572.5 249.4 572.5 248.8 572.4ZM437.2 537.7 437.4 539.0 445.7 534.9 446.1 534.5 438.9 538.0ZM297.3 685.2 289.5 689.1 293.4 696.9 300.4 691.0ZM446.0 513.9 444.1 509.5 442.1 510.8 438.4 512.3 435.8 518.1 431.9 520.6 433.8 525.1 436.4 530.2 437.4 537.3 440.2 536.7 445.4 533.6 450.6 530.2 455.0 525.8 451.9 521.2 448.0 518.1ZM212.3 389.7 217.4 387.8 214.9 383.9 205.8 381.9 196.7 383.2 192.2 391.0 194.1 394.3 197.3 398.2 199.3 403.3 201.9 400.8 207.1 399.5 209.0 394.3ZM218.7 434.5 216.1 429.3 217.4 425.4 222.6 421.5 226.5 417.6 222.6 417.6 218.7 418.9 223.9 416.3 227.8 411.1 231.7 405.9 231.7 400.8 231.7 394.3 229.1 389.7 222.6 386.5 217.4 387.8 218.7 390.4 222.6 394.0 227.6 394.9 226.5 398.8 223.9 401.4 217.4 402.7 212.3 404.6 211.6 409.8 212.0 415.0 214.9 417.0 211.0 420.2 208.4 424.1 203.8 428.0 204.5 429.9 208.4 431.2 213.6 433.2Z" fill="#9c3600" fill-rule="evenodd" stroke="#9c3600" stroke-width="0.4"/>
<g fill="none" stroke="#fff" stroke-opacity="0.8" stroke-width="0.9" stroke-linejoin="round">
<path d="M195.7 173.0 203.3 176.3 204.3 177.3 209.3 182.3 211.7 182.7 211.7 182.4 207.1 176.4 207.8 171.1 207.9 170.3 207.6 169.3 198.4 166.7 195.1 172.2ZM223.5 208.7 227.6 215.4 238.2 211.0 236.5 203.1 233.5 201.3 233.5 201.3 231.6 200.1 224.4 201.6 218.9 196.8 216.8 196.6 215.0 194.2 211.4 195.7 210.0 198.0 206.1 201.9 210.8 202.2 213.0 211.4ZM165.0 371.7 163.3 366.7 161.7 378.3 160.8 380.0 166.7 380.0ZM170.6 382.6 175.9 386.5 175.9 386.3ZM150.0 393.9 146.7 396.7 150.0 397.9ZM168.5 408.4 167.0 403.9 165.6 402.7 157.8 400.8 155.8 400.1 160.0 401.7 166.7 406.7ZM154.0 459.2 153.6 460.0 159.3 457.9ZM177.2 470.8 176.6 475.3 178.9 473.8 185.6 473.8 185.0 468.2 185.3 468.1 185.1 467.5 191.3 463.4 178.9 464.4 176.6 470.6ZM153.3 465.7 153.3 473.3 154.9 478.1ZM191.8 480.0 187.2 486.2 193.4 483.1 199.6 480.0ZM160.2 483.1 168.5 486.2 172.6 492.4 176.8 497.6 182.0 496.6 185.1 492.4 178.9 494.5 174.7 488.3 173.1 480.0 155.6 480.0 156.7 483.3 157.2 485.3ZM222.3 593.1 220.4 590.2 219.7 592.0 221.9 594.2ZM247.5 597.3 247.3 596.4 247.8 596.3 248.1 595.0 259.0 592.5 248.9 594.2 248.5 592.3 247.3 592.3 247.1 593.7 247.2 594.2 246.6 597.5 245.3 606.8 244.9 606.6 244.7 607.7 248.9 604.3 245.5 606.0ZM257.9 191.5 256.9 190.5 245.5 188.9 243.7 189.7 244.9 197.3 250.7 201.2 251.4 201.7 255.2 200.4 265.6 205.9 266.4 205.3 271.5 195.1 267.2 189.6 261.4 190.8ZM289.0 207.6 289.6 207.2 292.8 198.3 291.8 193.7 283.5 189.7 276.8 195.0 283.8 207.1 280.5 209.1 274.6 221.5 277.2 224.0 272.6 239.0 273.3 240.9 287.3 237.5 290.0 236.9 290.3 237.1 289.9 246.2 289.7 251.2 292.6 253.3 303.4 251.5 307.0 242.3 307.0 242.1 307.0 242.1 306.0 240.0 294.0 236.4 294.7 235.0 299.5 225.4 297.2 221.6 289.6 220.5ZM277.0 266.4 277.6 266.5 283.6 252.5 273.9 247.1 271.3 259.5 276.7 266.1ZM308.5 259.0 301.6 266.6 314.7 275.4 316.3 273.4 327.1 272.8 330.9 276.9 333.6 279.8 336.7 279.3 340.3 269.7 342.1 266.0 329.2 265.5 327.5 261.3 331.4 252.4 321.8 247.0 321.8 247.0 321.1 246.7 316.1 256.1 314.0 260.1 311.9 259.7ZM264.1 258.5 262.5 256.9 259.0 253.2 254.8 254.5 251.0 258.5 253.8 267.5 254.9 271.0 253.2 273.4 253.6 285.2 265.4 287.5 268.9 283.3 267.5 272.0 262.5 270.1 262.8 267.5 263.0 266.2 263.0 266.2ZM284.9 286.2 283.6 289.2 283.2 290.2 280.1 297.1 268.1 295.9 262.8 305.1 270.0 314.5 270.0 317.8 270.6 315.3 278.5 311.6 289.6 321.8 290.3 321.6 297.1 309.7 294.7 308.5 287.5 304.6 296.9 290.3 295.7 284.9 295.5 284.9ZM222.0 443.6 225.2 448.7 225.9 452.6 224.2 457.0 227.8 455.2 235.6 453.9 239.5 453.3 240.1 457.8 239.8 463.1 240.1 465.5 240.9 466.3 240.8 465.6 241.4 457.8 242.2 457.6 243.7 457.1 250.0 455.2 250.0 455.7 253.6 455.1 257.7 461.3 260.0 464.4 260.0 467.5 266.2 464.4 272.5 457.2 282.8 456.1 291.1 455.1 297.4 448.9 309.8 444.7 315.0 448.9 314.0 459.2 316.0 448.9 322.3 442.6 324.6 442.4 325.3 441.7 326.3 442.2 332.6 441.6 331.6 437.4 338.9 434.3 345.1 432.3 347.2 426.0 351.3 419.8 354.4 413.6 361.7 409.4 365.8 415.7 367.9 421.9 376.2 426.0 382.4 431.2 379.3 438.5 373.1 442.6 370.0 448.9 363.8 453.0 365.8 461.3 359.6 467.5 357.5 475.8 358.6 486.2 353.4 496.6 349.2 507.0 345.1 502.8 343.0 513.2 347.2 521.5 349.2 530.0 343.0 530.0 339.9 538.3 336.8 545.6 333.5 543.6 333.7 545.0 331.4 545.5 331.6 545.6 334.7 550.8 333.2 551.5 333.2 551.9 336.8 550.8 343.0 554.9 347.2 561.1 355.5 568.4 363.8 570.5 367.9 575.7 361.7 581.9 353.4 586.0 345.1 590.2 351.3 594.3 357.5 600.6 363.8 606.8 357.5 613.0 352.8 619.7 355.0 619.0 361.1 613.3 368.9 606.8 376.7 602.9 385.8 597.7 388.4 589.9 397.4 580.8 407.8 570.5 418.2 561.4 428.6 552.3 436.4 543.2 444.1 536.7 447.5 533.7 446.1 534.5 445.7 534.9 438.6 538.4 433.7 545.0 431.3 543.8 427.0 545.3 424.9 537.0 425.9 525.6 430.8 524.9 430.4 522.0 420.8 520.4 418.7 512.1 420.8 499.6 416.6 487.2 415.6 470.6 417.6 456.0 427.0 452.9 432.5 453.5 432.5 452.5 440.8 450.5 451.1 452.5 451.2 453.0 451.9 452.9 452.9 459.1 451.9 466.4 456.0 472.6 454.0 483.0 458.1 489.2 470.6 487.2 483.0 487.2 491.3 480.9 497.5 476.8 503.8 470.6 508.9 470.6 510.0 469.3 523.5 473.0 526.8 474.3 537.3 475.4 547.8 473.0 547.8 462.6 545.5 451.0 543.2 439.3 545.5 433.5 543.2 430.0 538.5 416.0 538.5 406.6 530.3 399.6 525.6 394.9 521.0 392.0 523.7 392.0 529.2 383.3 532.7 379.8 539.7 381.4 545.5 379.8 542.2 377.5 531.0 370.0 530.6 369.5 530.3 369.3 525.7 364.6 524.5 360.0 526.8 356.5 531.5 350.6 533.4 348.7 532.0 349.0 524.0 352.0 521.7 358.1 521.0 348.0 521.5 346.9 518.7 346.0 509.3 347.0 502.4 345.4 500.0 344.8 483.7 345.0 472.2 341.2 477.8 349.3 483.7 345.8 497.6 353.2 498.7 361.3 489.9 367.4 488.6 367.1 482.3 357.1 477.6 349.7 465.5 357.9 466.5 360.1 471.4 370.8 471.6 370.9 472.4 371.6 472.7 378.8 483.8 385.8 483.9 386.0 495.6 387.1 495.9 376.7 505.8 378.0 506.6 382.7 507.4 387.3 511.0 388.9 516.8 387.7 519.4 382.8 519.6 383.0 520.6 391.3 515.5 397.5 507.2 397.5 502.0 391.3 502.4 389.0 498.8 390.2 496.5 398.1 497.8 398.6 499.9 405.8 497.5 408.2 497.5 409.3 496.3 409.5 494.7 411.0 491.6 410.0 488.2 410.4 487.7 405.4 486.4 399.6 488.8 398.2 487.7 397.9 483.5 387.1 474.4 395.0 467.0 385.9 464.5 386.5 461.5 388.2 460.4 387.4 460.1 387.5 459.1 406.5 452.6 407.8 451.5 406.3 445.3 388.8 447.4 386.4 443.9 378.9 443.9 378.9 440.2 371.2 434.9 373.7 426.4 371.4 425.2 371.1 422.8 370.4 431.6 357.4 430.0 351.8 429.6 350.2 430.7 349.3 441.6 352.0 446.6 353.2 447.3 350.5 449.9 339.7 443.8 337.6 443.9 337.4 453.2 335.3 461.5 339.4 465.6 340.4 467.6 339.6 463.7 338.3 447.0 331.7 443.2 326.6 443.2 326.6 442.0 325.0 433.7 320.0 430.0 322.8 428.5 323.9 427.0 325.0 424.7 323.9 425.0 331.4 421.6 331.2 416.4 326.4 404.0 335.4 400.5 332.5 394.8 327.6 386.3 332.6 383.7 342.8 382.1 344.3 385.5 359.2 395.7 359.6 400.5 371.7 400.7 372.2 400.4 373.4 389.4 379.8 383.3 378.8 380.3 385.5 379.4 387.7 380.3 389.6 380.3 390.0 380.8 390.4 380.8 390.5 381.0 390.7 382.4 392.0 384.3 394.0 385.3 395.0 389.3 395.7 392.8 397.0 392.8 397.0 393.6 399.1 395.9 405.3 394.9 414.6 382.4 416.7 372.1 414.6 368.9 408.4 365.8 401.1 362.7 397.0 360.4 390.8 353.6 394.3 348.8 387.0 349.1 381.8 348.7 381.7 338.7 376.7 327.0 380.0 317.9 378.9 314.6 380.1 312.8 378.4 304.2 379.5 296.9 382.3 290.8 374.1 295.5 363.7 296.9 363.6 302.5 368.1 311.0 375.0 317.5 359.6 324.2 360.5 331.4 357.8 335.7 358.8 342.9 353.0 346.2 342.9 341.9 336.9 341.0 328.0 341.3 327.9 353.7 328.6 358.3 328.9 360.3 328.2 362.7 327.4 363.5 327.8 367.0 329.4 368.8 328.3 375.2 324.6 377.2 317.5 371.8 309.1 364.0 312.9 359.7 315.0 358.7 314.5 357.9 302.2 353.5 299.8 347.4 307.5 340.0 307.0 335.2 318.2 324.4 314.7 319.2 318.7 319.7 331.8 315.2 332.2 307.6 340.3 314.8 349.2 314.1 356.2 309.9 356.3 309.4 356.6 310.3 355.0 308.7 346.7 304.7 340.1 297.6 339.5 296.0 340.8 282.8 334.6 282.5 333.0 277.0 331.7 274.5 330.0 274.2 329.4 275.4 325.7 269.2 321.3 269.5 319.8 266.2 313.2 258.9 315.3 257.9 307.0 257.3 305.1 252.0 305.0 248.2 309.6 241.3 308.6 241.3 309.0 236.1 311.1 236.6 308.0 235.0 307.8 234.3 306.3 230.9 312.2 222.6 315.3 217.4 307.0 216.4 298.7 222.6 295.6 231.5 297.5 227.6 296.7 226.7 289.7 225.7 288.3 223.9 283.3 226.1 285.0 236.9 280.4 237.9 272.1 236.7 270.0 242.0 258.0 236.6 251.4 234.9 251.2 226.9 240.4 228.9 238.2 233.5 233.0 239.6 234.4 241.3 240.9 242.1 243.9 248.6 243.8 255.2 236.2 255.6 231.7 260.0 230.7 269.3 220.4 264.3 213.2 247.5 217.3 247.5 217.5 243.4 219.5 240.9 220.7 232.0 225.1 227.1 216.9 217.9 222.0 211.3 215.0 204.4 216.6 203.0 220.2 203.3 223.0 201.1 225.6 201.1 225.6 200.1 226.6 200.7 226.5 209.1 232.0 212.3 229.0 215.4 226.0 217.6 224.0 219.6 226.0 221.6 228.1 222.0 228.5 221.6 233.5 221.1 240.4 218.4 241.4 212.3 235.9 209.6 233.5 199.4 246.2 198.4 244.9 193.6 239.1 196.3 231.0 191.7 236.3 190.3 239.2 187.0 245.7 186.7 246.3 188.3 251.3 186.4 252.2 183.2 253.6 183.5 253.9 180.5 254.8 173.3 258.0 160.0 283.0 146.7 300.0 133.3 306.7 120.0 311.7 110.0 310.0 101.7 306.7 93.3 315.0 85.0 326.7 81.7 335.0 83.3 340.0 95.0 345.0 98.3 356.7 98.3 356.9 98.3 356.7 110.0 356.7 123.3 350.0 136.7 351.7 146.7 353.3 143.3 340.0 140.0 330.0 138.3 320.0 156.7 318.3 166.7 325.0 170.0 333.3 180.0 321.7 193.3 320.0 203.3 316.7 210.0 323.3 216.7 330.0 213.3 335.0 205.0 340.0 200.0 348.3 186.7 350.0 183.3 350.0 176.7 356.7 166.7 358.3 163.3 366.7 180.0 358.3 193.3 360.0 191.7 371.7 181.7 380.0 192.8 380.0 194.1 385.2 193.3 389.0 196.7 383.2 205.8 381.9 214.9 383.9 217.4 387.8 222.6 386.5 229.1 389.7 231.7 394.3 231.7 400.8 233.0 396.9 234.3 396.2 234.3 392.8 247.2 389.2 242.1 377.3 255.7 375.3 259.6 387.0 250.0 390.2 257.6 394.8 255.7 406.5 242.1 410.4 239.4 408.3 235.6 411.1 230.4 415.0 227.8 411.1 223.9 416.3 218.7 418.9 222.6 417.6 226.5 417.6 222.6 421.5 217.4 425.4 216.1 429.3 218.7 434.5 213.6 433.2 208.4 431.2 204.5 429.9 203.8 428.0 208.4 424.1 211.0 420.2 214.9 417.0 212.0 415.0 211.6 409.8 212.3 404.6 211.0 400.8 210.3 394.9 212.3 389.7 209.0 394.3 207.1 399.5 201.9 400.8 199.3 403.3 197.3 408.5 196.7 413.7 192.8 413.7 194.7 416.3 200.6 416.3 201.9 422.8 205.8 424.1 203.2 426.7 201.9 431.9 198.0 434.5 197.7 434.3 197.5 434.3 192.2 431.0 190.2 430.3 191.5 431.7 192.8 431.9 198.0 435.8 199.3 441.0 197.3 446.1 192.8 450.7 192.7 450.7 191.3 453.0 191.3 463.4 195.4 463.0 195.4 463.0 201.9 464.3 211.0 463.0 211.5 462.9 220.0 461.1 220.3 464.8 222.3 458.9 220.0 460.4 211.0 462.4 203.2 463.0 201.9 460.4 204.5 455.2 208.4 450.0 212.3 442.3 213.6 436.4 218.7 437.1ZM342.5 326.5 342.5 326.5 341.3 327.9ZM401.0 406.8 406.5 392.7 420.5 398.0 420.5 398.0 411.3 408.4 410.6 408.4 408.7 411.7 397.0 406.7 396.2 401.8ZM520.6 387.2 520.2 381.4 521.0 379.8 521.0 387.6ZM521.0 373.7 521.0 374.4 520.7 373.9ZM411.0 380.4 411.9 380.3 410.3 386.7ZM205.0 268.6 204.8 267.8 203.0 268.5 197.9 265.5 196.0 252.6 198.6 250.0 199.9 248.7 207.2 251.2 207.7 253.0 208.1 254.4 210.9 264.4 210.3 265.4 212.4 269.1ZM230.0 346.7 238.3 348.3 240.0 360.0 233.3 365.0 223.3 363.3 218.3 356.7 216.7 350.0ZM407.3 430.2 413.6 433.3 417.7 440.6 415.6 445.7 405.3 444.7 399.0 441.6 394.9 436.4 397.0 428.1 394.9 418.8 403.2 417.7 408.4 421.9ZM270.4 416.7 272.5 426.0 273.5 432.3 268.3 434.3 265.8 429.1 266.2 417.7ZM269.3 382.5 260.0 383.5 260.0 378.3 268.3 376.2ZM394.9 536.2 397.6 537.0 400.0 537.2 400.0 537.0 401.3 537.3 402.0 537.3 402.1 537.5 408.3 539.0 408.3 540.1 413.6 541.4 409.4 546.6 408.3 547.2 408.3 549.4 407.0 549.9 407.0 550.0 400.3 557.0 390.3 557.0 385.3 550.0 385.3 541.8 384.5 537.3ZM283.7 365.0 278.7 360.0 280.3 355.0 288.7 351.7 297.0 353.3 298.7 358.3 292.0 365.0ZM447.9 428.7 448.1 430.1 445.1 430.4 442.8 431.8 441.5 430.8 438.4 431.1 437.4 420.8 446.7 420.8 447.8 428.1 448.0 428.7ZM397.0 486.7 398.7 500.0 397.0 513.3 388.7 511.7 388.7 493.5 388.7 493.5 388.7 493.5 388.7 488.3ZM244.7 432.5 248.6 437.1 247.3 444.9 242.1 448.7 239.5 442.3 239.5 434.5ZM225.2 439.7 230.4 437.1 236.9 438.4 238.2 444.9 233.0 450.7 227.8 450.0ZM332.0 460.0 330.8 461.8 330.6 463.4 333.2 459.4ZM297.8 541.1 298.9 540.0 297.4 540.4 296.3 540.4 296.4 541.3 297.4 541.4 297.8 545.4ZM266.3 554.3 270.4 553.9 266.2 546.6 260.0 540.4 260.0 544.5 260.0 544.9 264.1 547.0 267.4 552.0ZM271.0 554.3 273.1 551.1 270.4 553.9ZM302.9 574.0 301.2 575.6 303.7 587.4 299.5 597.6 301.2 602.6 311.3 600.9 321.4 597.6 330.0 594.2 330.0 580.7 318.0 574.0 307.9 570.6ZM333.2 590.7 333.7 590.2 333.2 589.2ZM301.5 684.6 297.4 679.4 291.1 675.3 289.1 668.0 291.1 664.9 287.0 669.0 280.8 667.0 272.5 668.0 266.2 664.9 260.0 667.0 260.0 650.0 255.6 650.0 255.6 638.0 260.0 637.4 260.0 621.3 258.3 621.8 257.3 622.9 256.1 622.6 253.6 623.4 251.6 621.4 251.1 621.3 254.6 625.5 249.8 628.7 247.2 633.0 237.1 634.7 233.7 627.9 233.7 619.5 237.9 618.8 241.1 616.1 249.0 619.1 245.5 614.4 244.7 607.7 237.1 609.4 230.4 604.3 225.3 602.6 221.9 594.2 218.5 600.9 215.2 604.3 217.9 608.4 218.3 608.9 222.4 615.1 221.3 616.2 220.2 619.5 217.7 621.3 225.3 622.9 223.6 633.0 223.6 633.0 223.5 633.8 216.2 636.9 213.1 637.9 214.1 646.2 210.0 656.6 203.8 662.8 200.6 654.5 195.5 642.1 192.3 629.6 191.3 633.8 182.1 621.5 185.5 628.7 191.5 642.0 199.0 655.3 205.0 667.0 206.7 683.7 211.7 697.0 211.9 697.3 211.7 696.9 218.7 694.9 223.4 706.6 219.4 709.3 220.0 710.3 228.3 723.7 235.0 738.7 237.3 745.5 246.7 743.6 249.8 753.3 240.9 756.0 239.7 752.8 240.0 753.7 245.0 770.3 251.7 783.7 260.0 795.3 268.3 803.0 273.3 805.3 281.7 800.3 288.3 793.7 295.0 787.0 305.0 780.3 316.7 778.7 310.0 775.3 306.7 770.3 313.3 762.0 321.7 755.3 328.3 750.3 326.7 740.0 328.3 726.7 328.3 713.3 331.7 700.0 338.3 686.7 338.3 675.0 335.0 666.7 336.7 653.3 333.3 640.0 336.7 628.3 343.3 621.7 351.7 620.0 351.8 620.0 347.2 617.2 340.9 613.0 333.2 611.5 333.2 622.9 310.8 609.4 309.8 609.9 306.7 610.9 302.9 621.2 302.9 625.0 303.6 633.8 307.7 635.8 309.8 640.0 310.0 640.4 311.3 641.4 318.0 650.0 313.6 650.0 316.0 656.6 319.1 667.0 315.0 668.0 322.3 667.0 328.5 669.0 331.6 675.3 328.5 679.4 320.2 681.5 314.0 684.6 307.7 687.7ZM214.1 637.9 223.5 637.9 230.7 646.2 227.6 654.5 219.3 650.4 214.1 646.2ZM277.9 716.3 289.5 713.2 301.2 716.3 300.4 726.1 285.6 727.2 277.9 724.1ZM277.9 768.9 275.9 763.0 283.7 757.2 295.4 756.0 293.4 763.0 285.6 768.9ZM255.3 752.1 256.5 739.7 253.7 728.0 260.4 727.2 263.1 739.7 261.5 753.3ZM297.3 685.2 300.4 691.0 293.4 696.9 289.5 689.1ZM336.5 235.2 336.8 249.3 352.6 243.8 342.0 238.0 338.2 234.2ZM698.8 322.3 706.6 323.6 713.0 322.3 710.5 319.7 713.0 314.5 711.8 308.0 701.4 310.6 696.2 315.8ZM542.0 322.7 542.1 321.8 538.4 322.5 538.6 327.6 542.9 327.0 542.6 323.9ZM563.0 340.2 556.0 339.0 552.6 337.3 548.7 336.3 544.5 328.0 542.4 328.0 538.6 328.4 538.7 332.0 525.8 332.5 524.8 331.5 525.2 332.1 529.2 340.0 526.0 347.6 525.8 348.8 530.0 347.7 533.1 341.5 538.3 346.7 546.6 349.8 554.9 354.0 559.8 358.9 562.8 357.7 565.3 354.0 566.2 342.3ZM453.0 371.2 455.8 367.4 457.8 364.6 461.8 359.2 462.5 358.2 447.6 355.7 443.2 364.6 442.8 365.2 441.8 367.2 441.9 368.9ZM622.3 359.9 614.5 359.9 608.0 362.5 611.9 368.9 609.3 372.8 608.0 380.6 622.3 381.4 621.0 370.2 623.6 366.4ZM349.3 379.1 349.5 376.5 342.0 371.2 340.1 372.6 340.6 377.3ZM622.4 402.0 618.0 403.9 615.8 405.3 610.0 406.9 607.3 407.8 605.2 408.8 600.0 412.3 598.9 416.3 598.9 422.7 600.3 427.6 600.3 427.6 603.8 435.8 603.8 435.8 608.1 439.0 608.8 439.0 614.3 433.5 621.3 425.3 623.1 421.8 623.6 420.8 624.9 413.0ZM347.2 457.2 343.0 449.9 336.8 448.9 335.7 450.7 338.7 456.7 337.7 457.2ZM431.1 460.2 423.9 462.3 424.9 483.0 433.2 487.2 438.4 478.9 439.4 464.3ZM508.9 470.6 501.7 476.8 496.5 485.1 494.4 494.4 494.9 494.9 496.0 487.4 501.2 479.7ZM454.0 502.7 445.7 503.8 445.7 508.2 446.7 508.2 455.5 521.4 456.0 518.3 462.3 515.2 472.6 517.3 481.8 514.5 485.6 512.1 492.1 505.6 498.6 497.8 497.4 497.4 497.5 497.5 491.3 505.8 483.0 513.1 472.6 516.2 462.3 512.1 461.8 511.8 462.3 507.9ZM454.5 527.7 454.5 527.7 457.7 526.1 456.1 525.2Z"/>
<path d="M169.5 405.9 167.0 403.9 168.5 408.4 171.6 413.6 175.7 418.8 176.7 417.5 175.9 416.3 179.8 414.4 192.8 413.7 196.7 413.7 197.3 408.5 199.3 403.3 197.3 398.2 194.1 394.3 192.2 391.0 193.3 389.0 194.1 385.2 192.8 380.0 181.7 380.0 191.7 371.7 193.3 360.0 180.0 358.3 163.3 366.7 165.0 371.7 166.7 380.0 175.9 386.3 175.9 386.5 168.2 395.6 165.6 402.7ZM178.9 473.8 176.6 475.3 175.9 480.0 173.1 480.0 174.7 488.3 178.9 494.5 185.1 492.4 187.2 486.2 191.8 480.0 186.3 480.0 185.6 473.8ZM345.1 432.3 338.9 434.3 331.6 437.4 332.6 441.6 326.3 442.2 325.3 441.7 324.6 442.4 322.3 442.6 316.0 448.9 314.0 459.2 316.5 466.0 317.0 470.0 320.1 470.0 322.3 471.7 323.9 470.0 325.3 470.0 328.1 465.8 330.6 463.4 330.8 461.8 332.0 460.0 338.7 456.7 335.7 450.7 336.8 448.9 343.0 449.9 347.2 457.2 354.4 456.1 353.4 463.4 351.3 467.5 349.2 473.8 346.1 480.0 343.0 486.2 344.0 494.5 345.1 502.8 349.2 507.0 353.4 496.6 358.6 486.2 357.5 475.8 359.6 467.5 365.8 461.3 363.8 453.0 370.0 448.9 373.1 442.6 379.3 438.5 382.4 431.2 376.2 426.0 367.9 421.9 365.8 415.7 361.7 409.4 354.4 413.6 351.3 419.8 347.2 426.0ZM385.3 395.0 384.3 394.0 374.1 399.1 365.8 401.1 368.9 408.4 372.1 414.6 382.4 416.7 394.9 414.6 395.9 405.3 392.8 397.0 389.3 395.7ZM394.9 418.8 397.0 428.1 394.9 436.4 399.0 441.6 405.3 444.7 415.6 445.7 417.7 440.6 413.6 433.3 407.3 430.2 408.4 421.9 403.2 417.7ZM270.4 416.7 266.2 417.7 265.8 429.1 268.3 434.3 273.5 432.3 272.5 426.0ZM319.1 667.0 316.0 656.6 313.6 650.0 318.0 650.0 311.3 641.4 310.0 640.4 309.8 640.0 307.7 635.8 303.6 633.8 302.9 625.0 302.9 621.2 306.7 610.9 309.8 609.9 310.8 609.4 333.2 622.9 333.2 611.5 340.9 613.0 347.2 617.2 351.8 620.0 352.8 619.7 357.5 613.0 363.8 606.8 357.5 600.6 351.3 594.3 345.1 590.2 353.4 586.0 361.7 581.9 367.9 575.7 363.8 570.5 355.5 568.4 347.2 561.1 343.0 554.9 336.8 550.8 333.2 551.9 333.2 548.7 330.0 548.7 324.8 553.7 321.4 562.2 317.0 562.7 314.7 563.0 305.2 559.8 305.2 559.8 304.5 559.6 297.8 558.8 297.8 550.4 296.1 559.6 287.7 561.3 279.2 557.9 275.9 553.7 275.9 547.0 271.0 554.3 270.4 553.9 266.3 554.3 264.1 558.8 257.3 563.8 250.6 570.6 248.8 572.4 249.4 572.5 254.5 572.5 257.3 574.0 260.0 574.0 270.8 574.0 272.5 579.0 270.0 584.1 269.1 590.8 260.0 592.3 260.0 592.4 269.1 591.7 269.1 599.2 259.0 600.9 248.9 604.3 244.7 607.7 245.5 614.4 249.0 619.1 241.1 616.1 237.9 618.8 233.7 619.5 233.7 627.9 237.1 634.7 247.2 633.0 249.8 628.7 254.6 625.5 251.1 621.3 251.6 621.4 253.6 623.4 256.1 622.6 257.3 622.9 258.3 621.8 260.0 621.3 260.0 637.4 255.6 638.0 255.6 650.0 260.0 650.0 260.0 667.0 266.2 664.9 272.5 668.0 280.8 667.0 287.0 669.0 291.1 664.9 299.4 665.9 307.7 667.0 315.0 668.0ZM333.2 590.7 333.2 589.2 333.7 590.2ZM302.9 587.4 297.8 589.1 292.7 585.8 289.4 584.9 284.3 587.4 283.5 592.5 278.4 592.5 277.6 585.8 272.5 584.9 272.5 580.7 277.6 576.5 284.3 578.2 291.9 577.3 294.4 573.1 301.2 574.0 301.4 575.5 302.9 574.0 307.9 570.6 318.0 574.0 330.0 580.7 330.0 594.2 321.4 597.6 311.3 600.9 301.2 602.6 299.5 597.6 303.7 587.4 301.7 578.0ZM280.9 538.5 282.6 530.1 279.2 538.5 275.9 547.0 279.2 541.9 287.7 540.2 296.1 541.1 297.8 550.4 296.1 539.4 287.7 538.5ZM245.3 549.7 245.3 552.0 250.6 548.7 256.1 545.9ZM228.7 579.0 225.3 585.8 224.0 589.0 220.4 590.2 222.3 593.1 221.9 594.2 225.3 602.6 230.4 604.3 237.1 609.4 244.7 607.7 244.9 606.6 245.3 606.8 246.6 597.5 247.2 594.2 247.1 593.7 247.3 592.3 246.6 590.3 245.5 584.1 240.5 579.0 235.4 577.3ZM208.4 622.9 209.2 626.7 208.6 627.0 207.9 631.7 213.1 637.9 216.2 636.9 223.5 633.8 223.6 633.0 223.6 633.0 225.3 622.9 216.9 621.2ZM223.5 637.9 214.1 637.9 214.1 646.2 219.3 650.4 227.6 654.5 230.7 646.2ZM400.0 537.2 397.6 537.0 394.9 536.2 384.5 537.3 385.3 541.8 385.3 550.0 390.3 557.0 400.3 557.0 407.0 550.0 407.0 549.9 408.3 549.4 408.3 547.2 409.4 546.6 413.6 541.4 408.3 540.1 408.3 539.0 402.1 537.5 402.0 537.3 401.3 537.3 400.0 537.0ZM288.7 351.7 280.3 355.0 278.7 360.0 283.7 365.0 292.0 365.0 298.7 358.3 297.0 353.3ZM425.9 525.6 424.9 537.0 427.0 545.3 431.3 543.8 433.7 545.0 438.6 538.4 437.4 539.0 437.2 537.7 437.1 537.7 437.4 537.3 436.4 530.2 433.8 525.1 431.0 526.2 430.8 524.9ZM277.9 724.1 285.6 727.2 300.4 726.1 301.2 716.3 289.5 713.2 277.9 716.3ZM253.7 728.0 256.5 739.7 255.3 752.1 261.5 753.3 263.1 739.7 260.4 727.2ZM232.0 297.6 222.6 295.6 216.4 298.7 217.4 307.0 222.6 315.3 230.9 312.2 235.1 304.9ZM248.6 437.1 244.7 432.5 239.5 434.5 239.5 442.3 242.1 448.7 247.3 444.9ZM238.2 444.9 236.9 438.4 230.4 437.1 225.2 439.7 227.8 450.0 233.0 450.7ZM257.6 394.8 250.0 390.2 259.6 387.0 255.7 375.3 242.1 377.3 247.2 389.2 234.3 392.8 234.3 404.5 242.1 410.4 255.7 406.5Z"/>
<path d="M133.3 395.0 146.7 396.7 150.0 393.9 150.0 398.2 157.8 400.8 165.6 402.7 168.2 395.6 175.9 386.5 170.6 382.6 166.7 380.0 160.8 380.0 161.7 378.3 163.3 366.7 166.7 358.3 176.7 356.7 183.3 350.0 186.7 350.0 200.0 348.3 205.0 340.0 213.3 335.0 216.7 330.0 210.0 323.3 203.3 316.7 193.3 320.0 180.0 321.7 170.0 333.3 166.7 325.0 156.7 318.3 138.3 320.0 140.0 330.0 143.3 340.0 146.7 353.3 136.7 351.7 123.3 350.0 110.0 356.7 98.3 356.7 98.3 356.9 98.3 365.0 106.7 370.0 110.0 378.3 116.7 390.0 120.0 396.7 120.0 396.7ZM238.3 348.3 230.0 346.7 216.7 350.0 218.3 356.7 223.3 363.3 233.3 365.0 240.0 360.0ZM197.3 446.1 199.3 441.0 198.0 435.8 192.8 431.9 191.5 431.7 190.2 430.3 189.2 429.9 187.7 429.3 178.9 430.2 179.9 440.6 183.0 449.9 187.6 450.7 187.6 450.7 187.8 450.7 189.2 450.9 189.6 450.7 192.8 450.7ZM152.6 460.4 152.9 462.7 153.3 463.3 153.3 465.7 154.9 478.1 155.6 480.0 175.9 480.0 177.2 470.8 176.6 470.6 178.9 464.4 174.7 463.4 163.4 457.7 163.0 456.5ZM191.3 463.4 185.1 467.5 185.3 468.1 185.0 468.2 186.3 480.0 201.9 480.0 207.1 474.7 217.4 480.0 225.2 476.6 220.7 470.8 220.0 461.1 211.5 462.9 211.5 462.9 211.0 463.0 201.9 464.3 195.4 463.0 195.4 463.0ZM243.2 485.2 251.5 482.1 253.6 474.8 245.8 473.4 242.1 473.4 242.0 472.8 238.4 475.0 238.2 476.0 237.0 476.2 238.0 482.1ZM384.3 394.0 381.0 390.7 373.1 383.5 365.8 383.5 359.6 388.7 362.7 397.0 365.8 401.1 374.1 399.1ZM260.0 378.3 260.0 383.5 269.3 382.5 268.3 376.2ZM296.4 541.3 297.8 550.4 297.8 545.4 297.4 541.4ZM297.4 540.4 298.9 540.0 301.2 537.7 307.9 535.2 314.7 536.0 321.4 539.4 324.1 544.2 324.2 544.1 324.8 545.3 325.9 543.8 327.4 543.5 331.4 545.5 333.7 545.0 332.0 533.3 331.0 532.5 330.6 530.0 330.0 530.0 330.0 523.4 318.0 525.9 311.3 525.1 307.9 520.0 303.7 520.0 294.4 520.0 290.3 520.0 283.7 526.7 282.0 530.0 280.8 530.0 280.3 533.3 280.3 533.3 280.3 533.3 279.9 537.0 282.6 530.1 280.9 538.5 287.7 538.5 296.1 539.4 296.3 540.4ZM208.9 576.7 207.9 568.4 199.6 562.2 187.2 561.1 179.9 565.3 182.0 577.7 185.1 585.0 193.4 587.1 199.6 579.8ZM257.3 563.8 264.1 558.8 267.4 552.0 264.1 547.0 259.0 544.4 250.6 548.7 244.0 552.8 243.2 549.7 232.8 547.6 229.0 548.3 227.8 547.8 221.9 549.5 221.9 549.6 221.4 549.7 223.1 554.8 223.6 557.1 223.9 557.3 224.5 559.1 225.9 559.9 229.5 556.3 233.7 557.9 236.3 563.8 235.4 570.6 238.8 575.6 235.2 576.8 235.4 577.3 240.5 579.0 245.5 575.6 250.6 570.6ZM193.4 621.3 187.2 623.4 192.3 629.6 195.5 642.1 200.6 654.5 203.8 662.8 210.0 656.6 214.1 646.2 213.1 637.9 207.9 631.7 208.6 627.0 209.2 626.7 208.4 622.9 216.9 621.2 217.7 621.3 220.2 619.5 221.3 616.2 222.4 615.1 218.3 608.9 217.9 608.4 215.2 604.3 218.5 600.9 221.9 594.2 219.7 592.0 220.4 590.2 218.5 590.7 216.9 589.1 208.4 590.8 200.0 599.2 200.0 599.3 197.5 600.6 196.5 604.7 199.6 610.9 197.5 619.2ZM259.0 600.9 269.1 599.2 269.1 591.7 260.0 592.4 260.0 592.3 259.5 592.4 259.3 592.5 259.0 592.5 248.1 595.0 247.8 596.3 247.3 596.4 247.5 597.3 245.5 606.0 248.9 604.3ZM315.0 668.0 307.7 667.0 299.4 665.9 291.1 664.9 289.1 668.0 291.1 675.3 297.4 679.4 301.5 684.6 307.7 687.7 314.0 684.6 320.2 681.5 328.5 679.4 331.6 675.3 328.5 669.0 322.3 667.0ZM297.8 550.4 296.1 541.1 287.7 540.2 279.2 541.9 275.9 547.0 275.9 553.7 279.2 557.9 287.7 561.3 296.1 559.6ZM301.4 575.5 301.2 574.0 294.4 573.1 291.9 577.3 284.3 578.2 277.6 576.5 272.5 580.7 272.5 584.9 277.6 585.8 278.4 592.5 283.5 592.5 284.3 587.4 289.4 584.9 292.7 585.8 297.8 589.1 302.9 587.4 301.7 578.0 301.2 575.6ZM277.9 768.9 285.6 768.9 293.4 763.0 295.4 756.0 283.7 757.2 275.9 763.0ZM222.6 394.0 218.7 390.4 217.4 387.8 212.3 389.7 210.3 394.9 211.0 400.8 212.3 404.6 217.4 402.7 223.9 401.4 226.5 398.8 227.6 394.9ZM234.3 396.2 233.0 396.9 231.7 400.8 231.7 405.9 227.8 411.1 230.4 415.0 235.6 411.1 239.4 408.3 234.3 404.5Z"/>
<path d="M126.7 495.0 140.0 490.0 146.7 480.0 148.3 470.0 146.7 463.3 150.0 458.3 152.7 462.4 152.8 462.1 152.6 460.4 153.6 460.0 154.0 459.2 159.3 457.9 163.0 456.5 163.4 457.7 174.7 463.4 178.9 464.4 191.3 463.4 191.3 453.0 192.7 450.7 189.6 450.7 189.2 450.9 187.8 450.7 187.6 450.7 187.6 450.7 183.0 449.9 179.9 440.6 178.9 430.2 187.7 429.3 187.6 429.3 192.2 431.0 197.5 434.3 197.7 434.3 198.0 434.5 201.9 431.9 203.2 426.7 205.8 424.1 201.9 422.8 200.6 416.3 194.7 416.3 192.8 413.7 179.8 414.4 175.9 416.3 178.5 420.2 176.7 417.5 176.2 418.2 175.7 418.8 171.6 413.6 168.5 408.4 166.7 406.7 160.0 401.7 155.8 400.1 150.0 398.2 150.0 397.9 146.7 396.7 133.3 395.0 120.0 396.7 120.0 396.7 120.0 396.7 115.5 398.9 113.3 400.0 113.3 400.0 113.3 400.0 100.0 401.7 90.0 406.0 76.7 406.0 65.0 406.0 61.7 411.7 56.7 415.0 50.0 418.3 55.0 421.7 58.3 426.7 63.3 435.0 71.7 441.7 86.7 445.0 100.0 446.7 95.0 449.3 81.7 451.7 75.0 451.7 68.3 453.3 71.7 456.7 75.0 461.7 81.7 470.0 90.0 480.0 100.0 490.0 113.3 496.7ZM220.0 460.4 222.3 458.9 220.3 464.8 220.7 470.8 225.2 476.6 217.4 480.0 207.1 474.7 201.9 480.0 199.6 480.0 193.4 483.1 187.2 486.2 185.1 492.4 182.0 496.6 176.8 497.6 172.6 492.4 168.5 486.2 160.2 483.1 157.2 485.3 160.0 496.7 163.3 506.7 160.0 513.3 160.0 526.7 161.7 540.0 165.0 557.0 168.3 570.3 171.7 587.0 175.0 603.7 180.0 617.0 182.1 621.5 191.3 633.8 192.3 629.6 187.2 623.4 193.4 621.3 197.5 619.2 199.6 610.9 196.5 604.7 197.5 600.6 200.0 599.3 200.0 599.2 208.4 590.8 216.9 589.1 218.5 590.7 220.4 590.2 224.0 589.0 225.3 585.8 228.7 579.0 235.4 577.3 235.2 576.8 238.8 575.6 235.4 570.6 236.3 563.8 233.7 557.9 229.5 556.3 225.9 559.9 224.5 559.1 223.9 557.3 223.6 557.1 223.1 554.8 221.4 549.7 221.9 549.6 221.9 549.5 227.8 547.8 229.0 548.3 232.8 547.6 243.2 549.7 244.0 552.8 245.3 552.0 245.3 549.7 256.1 545.9 259.0 544.4 259.5 544.7 260.0 544.5 260.0 540.4 266.2 546.6 270.4 553.9 273.1 551.1 275.9 547.0 279.2 538.5 279.9 537.0 280.3 533.3 280.3 533.3 280.3 533.3 280.8 530.0 282.0 530.0 283.7 526.7 290.3 520.0 294.4 520.0 303.7 520.0 307.9 520.0 311.3 525.1 318.0 525.9 330.0 523.4 330.0 530.0 330.6 530.0 331.0 532.5 332.0 533.3 333.5 543.6 336.8 545.6 339.9 538.3 343.0 530.0 349.2 530.0 347.2 521.5 343.0 513.2 345.1 502.8 344.0 494.5 343.0 486.2 346.1 480.0 349.2 473.8 351.3 467.5 353.4 463.4 354.4 456.1 347.2 457.2 337.7 457.2 333.2 459.4 330.6 463.4 328.1 465.8 325.3 470.0 323.9 470.0 322.3 471.7 320.1 470.0 317.0 470.0 316.5 466.0 314.0 459.2 315.0 448.9 309.8 444.7 297.4 448.9 291.1 455.1 282.8 456.1 272.5 457.2 266.2 464.4 260.0 467.5 260.0 464.4 257.7 461.3 253.6 455.1 250.0 455.7 250.0 455.2 243.7 457.1 242.2 457.6 241.4 457.8 240.8 465.6 240.9 466.3 240.1 465.5 239.8 463.1 240.1 457.8 239.5 453.3 235.6 453.9 227.8 455.2 224.2 457.0 225.9 452.6 225.2 448.7 222.0 443.6 218.7 437.1 213.6 436.4 212.3 442.3 208.4 450.0 204.5 455.2 201.9 460.4 203.2 463.0 211.0 462.4ZM238.0 482.1 237.0 476.2 238.2 476.0 238.4 475.0 242.0 472.8 242.1 473.4 245.8 473.4 253.6 474.8 251.5 482.1 243.2 485.2ZM193.4 587.1 185.1 585.0 182.0 577.7 179.9 565.3 187.2 561.1 199.6 562.2 207.9 568.4 208.9 576.7 199.6 579.8ZM245.5 575.6 240.5 579.0 245.5 584.1 246.6 590.3 247.3 592.3 248.5 592.3 248.9 594.2 259.0 592.5 269.1 590.8 270.0 584.1 272.5 579.0 270.8 574.0 260.0 574.0 257.3 574.0 254.5 572.5 249.4 572.5 248.8 572.4ZM437.2 537.7 437.4 539.0 445.7 534.9 446.1 534.5 438.9 538.0ZM297.3 685.2 289.5 689.1 293.4 696.9 300.4 691.0ZM446.0 513.9 444.1 509.5 442.1 510.8 438.4 512.3 435.8 518.1 431.9 520.6 433.8 525.1 436.4 530.2 437.4 537.3 440.2 536.7 445.4 533.6 450.6 530.2 455.0 525.8 451.9 521.2 448.0 518.1ZM212.3 389.7 217.4 387.8 214.9 383.9 205.8 381.9 196.7 383.2 192.2 391.0 194.1 394.3 197.3 398.2 199.3 403.3 201.9 400.8 207.1 399.5 209.0 394.3ZM218.7 434.5 216.1 429.3 217.4 425.4 222.6 421.5 226.5 417.6 222.6 417.6 218.7 418.9 223.9 416.3 227.8 411.1 231.7 405.9 231.7 400.8 231.7 394.3 229.1 389.7 222.6 386.5 217.4 387.8 218.7 390.4 222.6 394.0 227.6 394.9 226.5 398.8 223.9 401.4 217.4 402.7 212.3 404.6 211.6 409.8 212.0 415.0 214.9 417.0 211.0 420.2 208.4 424.1 203.8 428.0 204.5 429.9 208.4 431.2 213.6 433.2Z"/>
</g>
<defs><path id="mesh" d="M261.4 798.9L265.3 799.0M273.7 804.4L269.2 802.2 265.3 799.0M771.3 319.4L767.7 320.3 764.2 321.7 760.4 322.1 756.7 323.1 753.4 325.3 749.5 325.3M771.3 319.4L767.4 319.2 764.5 316.1 760.5 316.0 756.9 314.8 753.9 311.8 749.9 311.6M749.5 325.3L746.2 322.5 742.9 319.6M742.9 319.6L745.8 317.4 747.6 314.2 749.9 311.6M64.3 462.6L64.9 458.6 64.0 454.6 65.3 450.7 66.1 446.7 65.6 442.7 65.7 438.8M64.3 462.6L68.5 463.2 72.8 463.1 77.1 461.7 81.3 462.8M85.5 455.7L82.9 458.9 81.3 462.8M85.5 455.7L85.1 449.2M85.1 449.2L82.0 447.3 78.5 446.1 74.9 444.9 72.6 441.5 69.0 440.6 65.7 438.8M74.4 371.9L74.3 375.5 74.3 379.0 75.1 382.5 75.1 386.1 76.7 389.5 76.2 393.2 77.4 396.6 76.7 400.3 77.2 403.8 79.4 407.2 78.9 410.8M70.7 417.0L74.3 413.2 78.9 410.8M70.7 417.0L70.0 421.1 67.0 424.4 66.8 428.7 65.0 432.4 64.0 436.4M74.4 371.9L78.1 370.3 82.2 369.6 86.1 368.5M86.1 368.5L87.4 365.0 89.0 361.5 91.1 358.4 92.7 355.0 95.0 351.9 96.1 348.3 98.3 345.1 99.7 341.6 100.6 337.9M100.6 337.9L98.4 334.9 95.0 333.4 91.4 332.2 89.4 328.8 86.6 326.5 83.6 324.5 80.2 323.0 77.5 320.6 73.9 319.5 71.8 316.2 68.5 314.6 65.2 313.0 62.0 311.3 60.1 307.7 56.7 306.3M383.7 623.6L381.3 619.8 376.7 618.4 374.2 614.7M383.7 623.6L385.2 620.3 385.2 616.7 385.4 613.1 386.6 609.7 388.5 606.5 389.6 603.1 388.6 599.2 390.7 596.0 390.3 592.3 392.6 589.2 393.0 585.6M372.4 586.2L376.5 585.7 380.6 586.9 384.8 587.0 388.9 585.8 393.0 585.6M372.4 586.2L368.1 591.8M374.2 614.7L374.3 610.6 371.7 607.2 370.2 603.5 370.4 599.4 368.1 595.9 368.1 591.8M411.0 671.5L407.5 671.1 404.2 669.7 401.0 668.2 397.3 668.2 393.8 667.4 391.0 664.6 387.2 664.8 384.3 662.4 380.9 661.5 377.1 661.6 373.8 660.4 370.5 659.3 367.2 658.0 363.8 657.1 360.3 656.1 357.0 655.0 353.8 653.3 350.2 653.2M411.0 671.5L409.2 668.3 407.3 665.2 406.0 661.7 403.2 659.0 401.5 655.8 401.1 651.8 398.3 649.1 396.6 645.9 393.7 643.3 392.6 639.7 391.1 636.3 388.2 633.7 387.6 629.9 385.8 626.7 383.7 623.6M350.2 653.2L347.2 651.0 346.0 647.4 343.5 644.8 341.4 642.0M341.4 642.0L342.5 638.3 342.5 634.5 344.0 631.0 344.8 627.3 343.9 623.3 344.7 619.6 346.9 616.2 347.2 612.4M374.2 614.7L370.4 613.3 366.4 614.6 362.6 613.8 358.8 613.2 354.9 613.5 351.0 613.0 347.2 612.4M368.1 591.8L363.9 591.9 359.7 591.4 355.6 590.6 351.3 590.5M347.2 612.4L344.4 609.1 342.1 605.4 339.8 601.7M351.3 590.5L348.0 592.9 346.3 596.9 342.6 598.8 339.8 601.7M308.5 570.0L312.3 571.0 316.3 570.4 320.1 570.7 323.8 572.4 327.8 572.1M308.5 570.0L306.7 566.7 305.4 563.3 304.7 559.6 304.1 555.9 301.6 552.9 301.2 549.1M301.2 549.1L303.6 545.8 306.6 542.9M306.6 542.9L310.2 544.1 313.3 546.6 317.1 547.2 320.3 549.5 324.4 549.6 327.7 551.4 331.1 553.2M331.1 553.2L331.7 557.6 332.1 562.0 333.8 566.1M333.8 566.1L330.9 569.2 327.8 572.1M347.6 569.8L348.9 573.1 349.7 576.6 349.4 580.2 350.8 583.5 350.0 587.2 351.3 590.5M347.6 569.8L344.4 568.1 340.5 568.6 337.2 567.5 333.8 566.1M339.8 601.7L335.3 600.4 330.7 600.1 326.0 599.8M326.0 599.8L325.4 599.0M325.4 599.0L326.5 595.2 325.7 591.3 325.6 587.4 326.3 583.6 327.8 579.9 326.9 575.9 327.8 572.1M716.3 266.5L712.8 267.4 709.2 267.6M709.2 267.6L707.7 264.3 706.4 260.9 705.0 257.5 704.8 253.6 701.8 250.9 700.1 247.6 700.8 243.4 699.3 240.0 698.2 236.5 695.7 233.6 695.5 229.8 694.1 226.4 691.2 223.6 690.5 219.9M33.4 152.9L36.9 152.1 40.3 151.0 43.4 149.3 46.6 147.7 49.7 145.9 53.0 144.7 56.2 143.1 59.4 141.5 63.1 141.3 66.1 139.3 69.9 139.1 72.5 136.2 76.6 136.7 79.7 134.9 83.2 134.1 86.4 132.7 89.7 131.4 92.8 129.4 95.6 126.9 99.5 127.1 102.3 124.6 105.7 123.6 109.3 123.0 112.5 121.4 115.7 119.9 119.4 119.7 122.4 117.7 125.5 115.8 128.7 114.3 132.5 114.3 135.5 112.1 139.1 111.5 142.1 109.5M178.6 81.6L176.0 84.0 173.4 86.5 170.1 88.0 166.9 89.6 165.0 93.0 161.3 94.0 158.3 95.9 155.7 98.2 152.9 100.4 151.2 104.0 147.5 105.0 144.4 106.7 142.1 109.5M99.6 472.7L95.3 472.7 91.4 471.2 87.4 470.2 83.6 468.7M99.6 472.7L98.1 477.0 96.8 481.4M96.8 481.4L93.1 482.6 89.3 483.6 85.5 484.6M83.6 468.7L83.4 472.7 85.7 476.5 86.0 480.5 85.5 484.6M85.5 455.7L89.6 456.3 93.5 457.7 97.0 460.0M82.0 466.1L83.6 468.7M82.0 466.1L81.3 462.8M97.0 460.0L99.4 463.4 98.9 467.9 101.3 471.3M101.3 471.3L99.6 472.7M41.4 549.4L44.1 546.9 44.6 543.0 47.4 540.6 49.1 537.4 51.1 534.4 53.2 531.5 55.7 529.0 57.6 525.9 59.2 522.7 60.9 519.5 63.1 516.8 64.7 513.5 67.6 511.2 69.9 508.4 71.2 505.0 72.7 501.7 74.9 498.9 77.2 496.2 79.7 493.5 82.0 490.8 83.3 487.3 85.5 484.6M41.4 549.4L44.4 547.5 46.7 544.8 48.9 542.0 51.4 539.5 54.1 537.3 57.0 535.2 59.1 532.3 62.1 530.3 64.3 527.5 66.5 524.7 69.5 522.8 72.3 520.6 73.8 517.2 76.9 515.3 79.5 512.9 82.7 511.2 85.4 508.9 87.0 505.5 90.4 504.0 92.8 501.4 94.5 498.1 97.3 496.0 99.3 493.0 103.0 491.7 105.0 488.8M105.0 488.8L102.5 486.1 100.1 483.2 96.8 481.4M124.4 308.3L120.0 308.9 115.9 310.3 111.7 311.4 107.7 313.1M124.4 308.3L126.3 311.8 129.3 314.7 130.5 318.6 133.7 321.3 134.8 325.3M107.7 313.1L108.3 316.8 106.6 320.3 108.0 324.0 107.7 327.6 107.5 331.3 106.3 334.8M134.8 325.3L131.9 327.5 130.9 331.2 128.9 334.1 125.2 335.6 123.5 338.9M123.5 338.9L119.9 338.9 116.8 336.5 113.3 336.0 110.0 334.9 106.3 334.8M100.6 337.9L106.3 334.8M56.7 306.3L60.2 307.5 63.8 306.8 67.3 307.5 71.0 306.0 74.4 307.8 78.0 307.4 81.5 308.1 85.1 306.9 88.6 308.6 92.1 309.2 95.8 307.4 99.3 308.2 102.8 308.7M102.8 308.7L107.7 313.1M134.4 363.5L131.2 365.2 127.8 366.6 125.4 369.6 122.4 371.6 119.2 373.4 115.7 374.5 112.8 376.6M134.4 363.5L133.4 359.7 131.1 356.6 129.4 353.1 128.0 349.5 126.3 346.0 124.9 342.4 123.5 338.9M112.8 376.6L108.7 376.4 105.1 374.3 101.6 372.1 97.4 372.1 93.9 370.2 89.6 370.4 86.1 368.5M273.7 804.4L277.3 803.7 280.7 802.1M265.3 799.0L268.1 796.7 270.4 793.9 272.4 790.9M272.4 790.9L276.8 791.8 281.3 792.5M281.3 792.5L281.8 793.6M280.7 802.1L281.2 797.9 281.8 793.6M156.1 516.4L152.7 517.8 149.2 518.9 146.7 522.0 143.1 522.9M156.1 516.4L160.7 516.6 164.6 519.2 169.0 519.7M169.0 519.7L168.2 523.3 169.2 526.8 169.5 530.4 169.0 534.0 170.4 537.5 170.3 541.0 169.9 544.6M169.9 544.6L166.3 544.7 163.0 543.3 159.4 543.3 155.9 542.9 152.6 541.3 149.2 540.2 145.5 541.1 142.1 539.6 138.5 539.7 135.2 538.1 131.6 538.2 128.1 537.8M143.1 522.9L140.9 525.8 138.5 528.3 136.4 531.1 133.1 532.9 130.8 535.5 128.1 537.8M105.8 551.1L108.6 548.6 112.0 547.0 115.1 545.1 118.9 544.1 121.3 540.9 125.5 540.7 128.1 537.8M105.8 551.1L106.6 547.6 107.7 544.0 108.2 540.4 109.9 537.0 110.7 533.5 111.0 529.7 111.6 526.1 113.0 522.7 114.2 519.2 114.0 515.4 115.6 512.0 116.9 508.5 116.6 504.7 117.0 501.0 118.4 497.6M118.4 497.6L122.6 496.1 127.1 496.4 131.3 495.4 135.5 494.1M135.5 494.1L135.4 498.0 136.6 501.6 138.9 504.8 140.0 508.4 140.8 512.0 141.9 515.6 141.7 519.5 143.1 522.9M105.8 551.1L102.7 553.1 100.2 555.6 98.9 559.1 95.4 560.7 93.9 564.1 91.3 566.5 88.3 568.5 86.9 572.1 84.5 574.6 80.8 576.0 79.3 579.4 76.7 581.8 73.9 584.0 71.3 586.4 70.0 590.0 67.0 592.0 64.4 594.4 61.9 596.8 59.9 599.8 56.8 601.7 53.8 603.7 52.3 607.1 49.6 609.5M49.6 609.5L53.1 608.4 56.1 606.3 59.6 605.5 63.3 605.2 66.3 602.8 70.3 603.3 73.7 602.2 76.5 599.3 80.5 600.0 83.5 597.6 87.2 597.3 90.5 596.1 93.6 593.9 97.3 593.6 100.6 592.3 104.2 591.5 107.1 589.2 110.9 589.1 114.4 588.4 117.6 586.6 120.9 585.1 124.0 583.0 127.7 582.7 131.0 581.2 134.6 580.8 138.0 579.6 141.3 578.2 144.4 576.2 148.1 576.0 151.5 574.8 154.6 572.7 158.5 573.1 161.7 571.4 164.7 569.1 168.7 569.7 171.8 567.5M169.9 544.6L173.4 547.3 176.0 550.9 178.5 554.5M178.5 554.5L176.4 557.5 175.0 560.9 173.4 564.2 171.8 567.5M278.9 523.4L276.8 527.2 275.5 531.3 274.0 535.4 271.9 539.1M278.9 523.4L282.8 521.9 286.8 520.8 291.1 521.4 295.2 520.6 299.1 519.2M299.1 519.2L302.7 521.2 306.3 523.0M306.3 523.0L307.6 525.3M307.6 525.3L306.8 528.8 307.5 532.4 307.5 535.9 307.0 539.4 306.6 542.9M301.2 549.1L297.5 549.2 294.6 552.0 290.8 551.9 287.5 553.4 283.9 553.7M283.9 553.7L282.0 550.4 278.8 548.1 276.4 545.2 274.1 542.2 271.9 539.1M308.5 570.0L305.9 573.4 303.0 576.5 301.3 580.5 298.5 583.7M283.9 553.7L281.4 557.3 280.4 561.4M280.4 561.4L281.6 566.0 281.6 570.6 281.4 575.2M281.4 575.2L285.2 576.1 288.6 577.8 291.4 580.9 294.9 582.5 298.5 583.7M325.4 599.0L321.7 598.4 318.2 597.2 314.8 595.5 311.6 593.6 308.1 592.3 304.6 591.2 300.9 590.6M300.9 590.6L299.9 587.1 298.5 583.7M503.1 594.1L500.2 591.8 498.5 588.5 495.9 585.9 494.2 582.6 492.1 579.7 489.2 577.3 487.0 574.4 485.7 570.8 482.1 569.0 481.3 565.0 479.2 562.0 477.1 559.0 473.8 557.0 471.9 553.9 469.7 551.0 467.6 548.0 466.0 544.7 463.2 542.2 460.2 539.9 459.0 536.2 456.1 533.9 453.9 531.0M503.1 594.1L502.0 590.7 501.0 587.3 498.1 584.6 498.5 580.6 496.9 577.4 495.3 574.2 494.0 570.8 492.6 567.6 490.7 564.5 490.1 560.9 487.7 558.0 487.4 554.2 486.4 550.8 484.7 547.6 483.6 544.2 483.2 540.6 481.7 537.3 478.8 534.6 478.9 530.7 477.2 527.5 474.7 524.7 474.3 521.0M474.3 521.0L471.1 523.0 467.8 524.9 464.5 526.9 460.7 527.6 456.9 528.4 453.9 531.0M491.5 637.6L488.8 635.3 487.3 631.9 484.6 629.6 481.2 627.9 480.0 624.2 477.2 622.1 475.3 619.0 472.6 616.8 470.2 614.2 467.1 612.3 465.5 609.0 463.3 606.2 460.8 603.8 457.6 601.9 455.8 598.8 452.9 596.7 449.9 594.7 447.3 592.3 445.0 589.7 442.8 586.9 440.3 584.4 438.5 581.3 436.0 578.8M491.5 637.6L488.5 635.5 485.2 634.2 481.9 632.7 478.9 630.6 475.4 629.6 472.4 627.6 469.5 625.3 466.0 624.4 462.6 623.1 460.2 620.0 456.8 618.7 453.2 617.7 450.1 616.0 447.1 614.0 444.0 612.2 440.4 611.3 437.0 610.1 434.0 608.0 431.5 605.1 427.6 604.7 424.8 602.4 421.3 601.3 418.2 599.6 414.9 598.0 412.0 595.8 408.6 594.6 405.3 593.2 402.2 591.4 399.1 589.6 396.2 587.2 393.1 585.5M436.0 578.8L432.2 578.2 428.7 576.7 425.6 574.3 422.1 572.9 419.0 570.7 414.9 570.6 411.9 568.1M393.1 585.5L393.9 580.4 395.2 575.4M411.9 568.1L408.6 569.8 405.6 572.0 401.5 571.5 398.8 574.5 395.2 575.4M436.0 578.8L434.2 575.5 434.1 571.8 432.5 568.5 432.6 564.8 431.1 561.5 429.7 558.1 428.6 554.7 429.2 550.8 427.7 547.5M406.8 551.5L408.5 555.5 408.7 560.0 410.7 563.9 411.9 568.1M406.8 551.5L407.7 549.9M407.7 549.9L411.8 550.4 415.6 548.5 419.6 547.9 423.6 547.4 427.7 547.5M525.4 666.6L524.0 663.2 521.6 660.5 519.0 657.9 516.6 655.2 515.7 651.5 514.2 648.2 511.5 645.7 508.4 643.5 506.4 640.5 504.5 637.5 502.7 634.4 500.4 631.6 498.4 628.6 497.6 624.9 496.0 621.6 492.7 619.6 492.2 615.6 489.2 613.3 487.8 609.9 486.0 606.8 484.1 603.8 480.3 602.0 478.8 598.7 477.4 595.4 476.1 592.0 472.4 590.1 470.8 586.9 469.9 583.2 466.4 581.2 465.0 577.9 462.9 575.0 461.5 571.6 460.0 568.3 456.5 566.3 455.6 562.6 453.6 559.7 451.8 556.6 449.2 554.0 447.9 550.5 444.9 548.3 442.9 545.3 441.1 542.2M525.4 666.6L522.1 664.6 520.1 661.2 516.9 659.4 513.7 657.3 510.8 655.1 508.8 651.7 505.8 649.5 503.1 646.9 499.8 645.0 497.1 642.5 493.8 640.6 491.5 637.6M441.1 542.2L437.0 542.5 433.2 544.8 429.0 544.5M429.0 544.5L427.7 547.5M383.3 545.5L382.1 545.1M383.3 545.5L385.8 548.5 387.8 552.0 390.7 554.7M382.1 545.1L378.4 545.5 375.1 547.6 371.4 548.1 367.5 547.5 364.0 549.0M390.7 554.7L389.5 558.3 388.2 561.8 388.2 565.7M388.2 565.7L384.3 565.3 380.5 566.7 376.6 566.1 372.7 566.9 368.9 567.9M364.0 549.0L363.9 553.5 363.3 557.9 362.5 562.2M362.5 562.2L366.4 564.3 368.9 567.9M406.8 551.5L402.8 552.5 398.5 552.1 394.9 554.8 390.7 554.7M395.2 575.4L393.0 572.0 389.8 569.4 388.2 565.7M372.4 586.2L370.8 582.8 371.4 578.9 369.7 575.4 368.6 571.8 368.9 567.9M347.6 569.8L351.0 567.2 355.2 566.3 358.9 564.3 362.5 562.2M407.7 549.9L405.8 545.7 406.3 541.1M383.3 545.5L385.7 542.7 389.6 541.6 391.3 537.9 394.5 536.0M394.5 536.0L398.4 537.8 402.4 539.3 406.3 541.1M425.8 534.3L422.2 534.4 418.7 535.6 415.1 535.9 411.7 537.2 408.1 538.1M425.8 534.3L427.6 537.5 428.7 540.8 429.0 544.5M406.3 541.1L408.1 538.1M382.1 545.1L380.6 541.6 381.8 537.7 379.7 534.3 378.9 530.6 379.5 526.8M394.5 536.0L395.1 530.7 393.5 525.7M393.5 525.7L390.1 526.7 386.4 525.3 383.1 527.5 379.5 526.8M645.1 463.8L642.3 466.3 639.8 469.2 636.5 471.3M636.5 471.3L636.1 474.8 637.0 478.3 637.3 481.8 637.4 485.3 637.6 488.8 639.1 492.2 638.9 495.7 639.7 499.2 640.8 502.6 639.6 506.2 640.5 509.7 640.4 513.2 642.2 516.5 641.8 520.1 642.3 523.6 642.1 527.1 644.0 530.5 643.8 534.0 643.8 537.5 645.2 540.9 644.5 544.5 644.4 548.1 645.5 551.5 645.4 555.0 645.9 558.5 647.2 561.9 647.2 565.4 646.1 569.1 648.0 572.4 648.2 575.9 649.4 579.3 649.5 582.8 650.0 586.3 648.6 590.0 649.5 593.4 649.5 597.0 649.6 600.5 650.9 603.9 650.5 607.4 651.8 610.8 652.5 614.3 651.6 617.9 652.1 621.4 652.4 624.9 653.9 628.3 653.6 631.8 654.8 635.2 653.8 638.9 654.4 642.3 656.2 645.7 655.1 649.3 657.2 652.6 657.8 656.1 656.8 659.7 658.1 663.1 658.0 666.6 658.1 670.2 659.9 673.5 658.7 677.2 660.1 680.5 660.1 684.1 660.7 687.5 660.2 691.1 660.6 694.6 662.0 698.0 662.8 701.4 662.8 705.0 662.9 708.5 664.0 711.9 664.3 715.4 663.2 719.0 663.8 722.5 663.5 726.1 663.9 729.6 664.5 733.0 666.1 736.4 666.9 739.8 667.0 743.3 667.0 746.9 667.3 750.4 667.6 753.9 668.4 757.3 667.7 760.9 669.3 764.3 669.3 767.8 668.7 771.4 669.3 774.9 670.9 778.2 671.4 781.7 670.5 785.3 672.7 788.6 672.8 792.1 672.3 795.7 672.6 799.2 673.9 802.6 674.5 806.1 674.5 809.6 674.3 813.2M674.3 813.2L676.2 816.3 679.1 818.6 680.7 822.2 683.4 824.6 685.5 827.7 689.5 829.0 691.1 832.5M411.0 671.5L414.5 673.1 417.7 674.9 420.2 677.9 423.3 679.9 426.7 681.5 429.0 684.6 432.6 685.9 435.4 688.5 438.5 690.5 440.7 693.7 444.2 695.2 447.5 697.1 450.8 698.8 453.2 701.9M350.2 653.2L347.3 655.3 344.1 656.9 341.0 658.8 337.8 660.3 334.9 662.5 332.7 665.5 329.8 667.7 326.1 668.5 323.0 670.4 320.4 672.9M320.4 672.9L322.1 676.2 323.1 679.9 325.3 683.0 327.1 686.3M327.1 686.3L330.9 687.3 334.6 688.5 338.4 689.6 341.5 692.4 345.3 693.5M345.3 693.5L348.8 694.7 352.4 695.0 356.1 694.3 359.6 695.0 363.2 695.9 366.8 695.9 370.4 695.7 374.0 695.5 377.6 696.1 381.3 695.5 384.9 695.8 388.4 697.3 391.9 698.3 395.6 697.5 399.2 697.5 402.8 697.6 406.4 698.1 409.9 699.2 413.6 698.7 417.1 700.1 420.8 698.6 424.4 699.2 428.0 700.0 431.6 700.0 435.1 701.3 438.7 701.5 442.3 702.0 445.9 701.6 449.6 700.5 453.2 701.9M571.7 709.5L569.2 706.9 566.6 704.6 564.0 702.3 561.1 700.3 559.2 697.2 556.9 694.5 553.1 693.4 551.4 690.1 548.3 688.2 546.0 685.6 544.0 682.6 541.5 680.1 538.5 678.2 535.2 676.6 533.7 673.0 530.0 671.9 527.8 669.1 525.4 666.6M571.7 709.5L573.5 712.7 576.8 714.6 579.3 717.2 580.5 721.0 582.9 723.7 586.3 725.4 588.6 728.2 591.2 730.8 593.8 733.2 596.0 736.1 597.1 740.0 601.1 741.3 603.2 744.2 605.6 746.9 608.2 749.4 609.9 752.8 611.9 755.8 614.1 758.7 616.8 761.1 618.9 764.1 622.7 765.5 624.6 768.7 625.8 772.4 629.7 773.7 631.8 776.7 633.8 779.8 636.6 782.2 638.6 785.2M638.6 785.2L635.3 783.7 631.7 783.4 628.6 781.6 626.0 778.7 622.0 779.1 619.4 776.1 615.5 776.2 613.0 773.1 609.5 772.4 606.2 771.1 602.5 770.8 599.2 769.6 596.6 766.7 592.8 766.6 589.6 765.2 586.9 762.4 583.7 761.0 579.7 761.3 577.3 758.0 573.7 757.5 570.3 756.5 566.8 755.7 563.8 753.7 561.1 751.1 557.2 751.2 553.8 750.1 550.6 748.7 547.3 747.4 544.3 745.5 541.6 742.9 537.6 743.3 534.4 741.7 531.9 738.7 528.7 737.2 525.4 735.9 521.5 736.1 518.3 734.4 515.6 731.8 512.0 731.4 508.9 729.6 505.3 729.0 501.8 728.3 498.9 726.2 496.0 724.0 492.8 722.5 489.3 721.6 486.0 720.4 482.8 719.0M453.2 701.9L456.4 703.8 459.8 705.5 463.0 707.6 465.9 710.1 470.0 710.8 472.8 713.4 475.7 716.0 479.1 717.8 482.8 719.0M691.1 832.5L687.5 832.3 684.5 829.8 681.0 829.2 677.3 829.9 673.9 828.8 670.4 828.1 666.9 827.6 664.0 824.7 660.3 825.2 657.1 823.3 653.3 824.2 649.8 823.6 646.9 820.8 643.4 820.2 640.1 818.9 636.5 818.8 633.0 818.3 629.7 816.9 625.9 817.6 622.7 815.8 619.3 815.2 615.7 815.0 612.5 813.2 608.9 812.9 605.6 811.7 602.1 811.2 598.7 810.5 595.3 809.5 592.0 808.2 588.8 806.5 585.3 805.8 581.9 805.1 578.4 804.3 574.7 804.7 571.7 802.4 567.9 803.1 564.4 802.6 561.1 800.9 557.8 799.6 554.2 799.6 551.0 798.1 547.3 798.1 544.3 795.7 540.6 796.1 537.2 795.2 533.8 794.2 530.6 792.6 527.2 791.6 523.5 791.7 520.1 791.1 516.7 789.9 513.0 790.3 509.8 788.7 506.6 786.9 503.1 786.2 499.3 787.0 496.3 784.4 492.7 784.6 489.6 782.4 485.8 783.0 482.3 782.5 479.1 780.9 475.8 779.3 472.2 779.5 469.0 777.7 465.5 777.2 461.9 777.2 458.4 776.5 455.1 775.2 451.6 774.6 448.2 773.9 444.9 772.4 441.6 771.1 438.0 770.9 434.4 771.0 431.0 770.0 427.7 768.9 424.4 767.5 420.7 767.7 417.2 767.0 414.0 765.7 410.5 764.9 407.0 764.7 403.8 762.7 400.6 761.0 397.0 761.0 393.7 759.8 390.3 758.7 386.9 757.9 383.5 756.9 379.8 757.1 376.5 755.7 372.8 756.2 369.8 753.6 366.1 753.9 362.7 752.9 359.5 751.1 355.8 751.6 352.3 751.0 349.2 748.8 345.7 748.5 342.0 748.8 338.5 748.1 335.3 746.5 331.7 746.5 328.5 744.5M328.2 761.7L328.2 757.7 326.0 754.2 325.9 750.2M325.9 750.2L328.5 744.5M283.8 495.5L280.1 494.5 276.8 492.7 273.4 490.9 269.9 489.6 266.6 487.6 263.2 486.0 259.5 484.9M283.8 495.5L281.5 498.5 279.7 501.9 275.8 503.5 273.9 506.8 272.6 510.6 269.4 512.9M269.4 512.9L266.0 512.1 262.7 510.4 259.4 509.0 255.7 509.1M258.5 485.3L259.5 484.9M258.5 485.3L258.3 489.2 257.3 492.9 255.1 496.3 254.1 500.0 252.7 503.6M255.7 509.1L252.7 503.6M278.9 523.4L277.2 520.2 274.7 517.7 271.5 515.8 269.4 512.9M299.1 519.2L297.7 515.7 296.9 512.1 296.3 508.3 293.6 505.3 292.8 501.7 290.9 498.4 290.6 494.5M290.6 494.5L283.8 495.5M176.3 370.9L176.1 375.0 177.6 379.1 175.7 383.4 176.8 387.5M176.3 370.9L180.3 370.0 184.4 369.1 188.5 368.0M209.2 382.3L205.7 381.1 202.9 378.7 200.3 376.2 197.8 373.5 194.4 372.0 191.1 370.5 188.5 368.0M209.2 382.3L205.7 384.5 203.7 387.9 201.4 391.0M201.4 391.0L197.9 390.5 194.3 390.7 190.8 390.0 187.5 388.1 183.7 389.3 180.3 387.9 176.8 387.5M165.0 396.4L165.7 400.2 167.4 403.8 167.5 407.7 168.2 411.5 170.2 415.0M165.0 396.4L169.2 394.6 172.7 391.8 176.1 388.8M170.2 415.0L173.9 414.4 177.7 414.2 181.4 415.4M181.4 415.4L182.5 411.9 183.5 408.3 185.1 405.0M185.1 405.0L182.7 402.1 182.3 398.1 179.1 395.6 178.6 391.7 176.1 388.8M161.4 356.1L163.6 359.8 167.9 361.4 169.6 365.7 173.5 367.8 176.3 370.9M161.4 356.1L158.4 358.1 155.2 359.6 152.1 361.3 148.4 361.8 145.2 363.5 141.9 364.6M141.9 364.6L141.9 368.4 142.8 371.9 145.4 375.0 145.5 378.8 146.4 382.3 147.7 385.7 148.4 389.3 148.7 393.0M148.7 393.0L153.2 393.6 157.3 395.8 161.7 396.5M161.7 396.5L165.0 396.4M176.1 388.8L176.8 387.5M201.4 391.0L201.9 394.8 202.6 398.6 201.9 402.5M185.1 405.0L189.7 404.5 194.3 405.1 198.9 405.3M201.9 402.5L198.9 405.3M749.5 256.3L746.9 258.9 745.0 262.2 741.7 264.3 740.0 267.8 736.7 269.9 734.3 272.7 732.5 276.2 729.5 278.5M749.5 256.3L746.0 257.1 743.0 259.2 739.5 260.2 736.1 261.4 732.8 262.7 729.6 264.5 726.6 266.6 722.6 266.4 719.5 268.4M729.5 278.5L725.2 275.6 720.2 274.2M719.5 268.4L720.2 274.2M716.3 266.5L719.5 268.4M749.9 311.6L748.6 308.5M752.2 302.9L748.6 308.5M730.4 331.6L734.7 332.9 739.0 334.2M730.4 331.6L729.2 329.7M729.2 329.7L731.4 325.4 733.3 320.9M741.2 332.0L739.0 334.2M741.2 332.0L739.8 328.4 740.4 324.4 738.7 320.9M738.7 320.9L733.3 320.9M749.5 325.3L747.9 330.5M747.9 330.5L741.2 332.0M742.9 319.6L742.1 319.5M742.1 319.5L738.7 320.9M708.4 268.5L709.2 267.6M708.4 268.5L704.3 268.8 700.3 269.9M690.5 219.9L691.0 223.5 689.4 227.0 688.9 230.6 690.2 234.2 688.6 237.7 689.6 241.3M689.6 241.3L690.5 244.9 692.0 248.4 691.7 252.3 693.4 255.7 693.3 259.5 694.5 263.0 695.6 266.6M700.3 269.9L695.6 266.6M162.9 148.5L164.6 145.1 167.7 142.8 170.7 140.4 172.4 136.9 174.9 134.1M162.9 148.5L167.0 150.6 171.2 152.5M171.2 152.5L176.1 150.8 180.1 147.6M174.9 134.1L176.3 137.4 177.5 140.8 178.6 144.3 180.1 147.6M33.4 152.9L36.9 153.5 40.4 152.0 43.9 151.6 47.4 153.0 50.9 152.4 54.4 151.7 57.9 153.0 61.4 152.8 64.9 151.9 68.4 152.8 71.9 152.4 75.4 152.0 78.9 150.9 82.4 150.1 85.9 151.5 89.4 151.5 92.9 150.5 96.4 150.7 99.9 150.8 103.4 150.0 106.9 150.9 110.4 150.4 113.9 149.9 117.4 149.2 120.9 150.1 124.4 149.4 127.9 150.2 131.4 148.8 134.9 149.2 138.4 148.6 141.9 149.0 145.4 149.3 148.9 148.1 152.4 147.9 155.9 148.7 159.4 148.0 162.9 148.5M175.4 131.8L172.4 129.8 168.9 128.4 165.8 126.5 163.3 123.6 160.8 120.9 157.7 119.0 154.2 117.6 151.1 115.8 147.6 114.4 144.9 112.0 142.1 109.5M175.4 131.8L174.9 134.1M102.8 308.7L103.0 305.1 105.1 301.8 103.9 297.9 106.4 294.6 105.9 290.8 106.5 287.2 106.7 283.6 108.9 280.3 107.8 276.4 109.3 273.0 109.8 269.4 109.8 265.7 110.4 262.1 112.8 258.8 112.3 255.0M131.6 290.6L131.1 286.2 129.3 282.1M131.6 290.6L129.7 294.0 127.9 297.4 128.1 301.6 125.4 304.6 124.4 308.3M129.3 282.1L127.9 278.8 125.0 276.4 123.6 273.1 122.7 269.5 119.6 267.3 118.5 263.7 115.5 261.5 114.6 257.8 112.3 255.0M161.4 356.1L162.2 351.9 164.0 347.9 165.0 343.7 166.5 339.7M141.9 364.6L138.3 363.2 134.4 363.5M134.8 325.3L138.6 325.5 142.2 324.6 145.9 324.7 149.5 323.8 153.2 323.6M153.2 323.6L155.3 327.3 159.0 329.7 161.1 333.3 163.7 336.6 166.5 339.7M188.5 368.0L190.8 365.1 192.7 361.9 195.4 359.4 198.7 357.5 200.9 354.6M200.9 354.6L197.4 352.8 195.0 349.5 191.5 347.6 189.0 344.4 185.7 342.3 182.4 340.2 178.8 338.5 175.8 335.9M166.5 339.7L170.8 336.8 175.8 335.9M326.9 168.9L322.5 170.2 318.1 171.3 313.9 173.3M326.9 168.9L330.3 170.5M330.3 170.5L327.8 173.4 327.6 177.4 326.1 180.8 322.7 183.3 322.1 187.2M313.9 173.3L315.5 177.0 318.0 180.2 319.6 184.0 322.1 187.2M369.9 135.3L366.9 137.6 363.2 138.3 359.8 139.6 356.5 141.3 353.6 143.8 350.4 145.4 346.6 145.9 343.0 146.9 340.4 150.0 337.3 151.9 333.9 153.3 329.9 153.3 327.0 155.7 323.6 157.1 320.2 158.6M369.9 135.3L366.9 133.1 363.2 132.8 359.6 132.4 356.5 130.3 352.6 130.7 349.4 128.9 346.4 126.9 342.6 126.9 339.1 126.1 336.1 123.9 332.6 123.1 329.7 120.6 325.7 121.3 322.8 118.7 319.1 118.4 315.8 117.1M315.8 117.1L314.1 120.3 313.7 123.9 312.1 127.2 311.7 130.9 310.8 134.3 309.2 137.6 307.3 140.8 307.1 144.5 305.7 147.8M320.2 158.6L316.5 157.7 313.3 155.8 309.9 154.1M309.9 154.1L307.0 151.5 305.7 147.8M448.5 153.6L444.9 153.2 441.7 151.9 438.2 151.1 434.8 150.2 431.3 150.1 427.7 149.9 424.3 149.1 421.0 147.6 417.5 147.1 414.3 145.5 410.7 145.4 407.6 143.5 404.1 143.0 400.7 142.1 397.3 141.1 393.8 140.8 390.3 140.2 386.8 139.7 383.3 139.5 380.3 137.0 376.7 136.9 373.1 137.0 369.9 135.3M448.5 153.6L445.2 155.1M326.9 168.9L325.5 164.9 322.6 161.9 320.2 158.6M330.3 170.5L333.8 170.3 337.3 169.4 340.6 168.2 344.4 169.7 347.6 167.4 351.2 167.4 354.8 168.3 358.0 165.9 361.6 166.3 365.1 165.7 368.5 164.8 372.2 165.8 375.5 164.2 378.9 162.8 382.5 163.4 385.9 161.9 389.5 163.0 393.1 162.9 396.6 162.5 399.8 160.1 403.5 161.1 406.8 159.7 410.4 159.7 413.8 158.8 417.3 158.3 420.7 157.5 424.3 158.1 427.6 156.5 431.4 158.0 434.6 155.4 438.4 157.0 441.6 154.8 445.2 155.1M313.9 173.3L309.9 171.9M309.9 171.9L309.0 168.3 310.5 164.7 310.0 161.2 310.5 157.6 309.9 154.1M301.6 99.2L294.9 101.1M240.3 68.8L242.6 71.6 244.8 74.6 248.2 76.5 249.5 80.2 252.2 82.7 253.8 86.1 257.9 87.5 260.1 90.3 261.5 94.0 264.2 96.5M264.2 96.5L270.7 98.5M270.7 98.5L274.6 100.0 278.8 99.2 282.7 100.3 286.8 100.4 290.9 100.5 294.9 101.1M85.1 449.2L87.7 446.5 90.6 444.1 92.3 440.5 95.4 438.4 98.7 436.4 101.0 433.4M78.9 410.8L83.1 412.0 86.9 414.2 90.8 416.0M64.0 436.4L65.7 438.8M101.0 433.4L99.0 430.4 97.7 427.1 96.9 423.5 95.1 420.4M90.8 416.0L95.1 420.4M97.0 460.0L100.5 458.9 104.0 457.8 106.8 455.2 110.1 453.7M101.0 433.4L106.6 436.2M110.1 453.7L109.7 450.1 110.4 446.6 111.1 443.1M106.6 436.2L109.7 439.1 111.1 443.1M142.4 465.7L141.2 469.1 138.8 472.0 137.0 475.1 135.6 478.4M142.4 465.7L146.4 464.3M146.4 464.3L148.9 467.1 150.9 470.2 153.0 473.2 154.1 476.9M154.1 476.9L152.7 481.3M152.7 481.3L148.3 481.3 144.1 479.9 139.8 479.7 135.6 478.4M312.2 793.2L308.5 791.0 304.4 790.4 300.4 789.2M300.4 789.2L296.2 794.3M296.2 794.3L296.3 797.8 295.9 801.3 296.5 804.9 294.7 808.2 294.4 811.7 294.7 815.3M280.7 802.1L283.7 804.5 286.0 807.7 289.5 809.6 292.3 812.2 294.7 815.3M281.8 793.6L285.4 793.2 289.0 793.3 292.6 794.4 296.2 794.3M198.6 671.0L194.7 670.7 190.8 670.6 186.9 672.1 183.0 670.7 179.1 671.4 175.2 671.7 171.3 671.5M198.6 671.0L199.9 667.2 200.9 663.3 202.3 659.6M202.3 659.6L198.2 656.8 195.0 652.9M195.0 652.9L192.2 655.4 188.8 657.3 185.8 659.5 182.5 661.5 180.6 665.1 176.6 666.1 173.8 668.6 171.3 671.5M198.6 671.0L201.1 674.2 203.4 677.5 207.0 679.6M199.8 686.6L202.8 682.5 207.0 679.6M199.8 686.6L196.2 686.6 192.6 687.0 189.4 689.4 185.7 689.0 182.1 688.8 178.9 690.9 175.1 690.3 171.6 690.8 168.3 692.5 164.9 693.8 161.4 694.3 157.6 693.6 154.3 695.1 150.8 696.0 147.3 696.4 143.6 695.9 140.4 698.1 137.0 699.3 133.1 697.8 129.8 699.9 126.3 700.3 122.6 699.7 119.4 701.9 115.9 702.9 112.1 701.8 108.9 703.9 105.4 704.6 101.6 703.6 98.4 705.8 94.6 705.0 91.3 706.9 87.8 707.6 84.4 708.4 80.7 708.3 77.2 708.9 73.8 709.9 70.3 710.3 66.8 711.4 63.1 710.9 59.6 711.3 56.1 712.3 52.6 712.8 49.4 715.2 45.9 715.4 42.3 715.5M171.3 671.5L168.1 673.3 164.7 674.6 160.7 673.9 157.4 675.2 154.0 676.4 150.9 678.3 147.8 680.4 144.2 680.9 141.0 682.9 137.0 682.2 134.1 684.7 130.7 685.8 126.8 685.6 124.0 688.3 120.0 687.9 117.1 690.4 113.4 690.8 110.5 693.2 106.5 692.6 103.4 694.9 100.1 696.1 96.5 696.6 93.1 697.9 90.0 699.8 86.7 701.2 82.9 701.4 80.0 703.8 75.9 703.1 72.9 705.4 69.7 706.9 66.1 707.8 62.9 709.4 59.4 710.1 55.8 710.8 52.5 712.2 49.2 713.5 45.8 714.8 42.3 715.5M105.0 488.8L109.6 488.9 114.1 489.1M118.4 497.6L116.8 493.1 114.1 489.1M280.4 561.4L276.9 561.7 273.3 561.0 269.7 561.7 266.2 562.7 262.6 562.6 259.0 561.2 255.5 562.1 251.9 562.2M271.9 539.1L267.7 539.6 263.5 539.4 259.3 539.7M259.3 539.7L257.3 543.2 257.1 547.2 255.9 551.0 254.7 554.8 254.2 558.8 251.9 562.2M255.7 509.1L254.3 512.7 253.2 516.4 252.0 520.0 250.8 523.7 249.6 527.3 248.3 530.9M259.3 539.7L256.8 537.1 253.3 535.8 251.7 532.2 248.3 530.9M292.5 615.7L292.0 619.3 289.1 622.0 289.3 625.8 286.7 628.5 286.6 632.3 285.7 635.7 283.4 638.5 281.4 641.6 280.9 645.1M292.5 615.7L295.6 618.4 299.0 620.4 302.4 622.5 306.9 622.6 310.1 625.2 313.4 627.4M313.4 627.4L314.3 630.3M314.3 630.3L312.7 634.0 309.3 636.3 307.6 639.9 304.7 642.7 302.4 645.8 299.7 648.7 298.1 652.3 296.1 655.7M296.1 655.7L293.6 652.9 290.1 651.4 286.4 650.1 284.4 646.5 280.9 645.1M267.8 641.0L265.2 637.8 263.5 634.2 262.6 630.1M267.8 641.0L271.9 643.1 276.7 643.3 280.9 645.1M262.6 630.1L264.8 627.4 265.5 623.6 267.8 620.9 270.6 618.6 271.2 614.7 274.0 612.4 275.9 609.4M287.3 610.1L283.6 608.9 279.7 610.3 275.9 609.4M287.3 610.1L289.6 613.2 292.5 615.7M326.0 599.8L323.9 603.0 322.6 606.6 320.7 609.9 319.3 613.4 319.2 617.5 317.2 620.8 314.9 623.9 313.4 627.4M287.3 610.1L290.5 607.5 291.3 603.2 294.3 600.4 295.7 596.6 299.3 594.3 300.9 590.6M341.4 642.0L337.9 640.6 334.6 639.0 331.4 637.2 327.5 636.9 324.6 634.2 321.3 632.6 318.0 631.0 314.3 630.3M320.4 672.9L316.8 673.0 313.2 672.7 309.6 672.5 306.3 670.4 302.6 671.0M302.6 671.0L297.8 666.8M297.8 666.8L297.1 663.2 296.4 659.5 296.1 655.7M281.4 575.2L278.2 577.8 274.8 580.2 272.3 583.5 268.9 585.9M275.9 609.4L273.6 606.8 272.3 603.4 270.3 600.5 267.7 598.0M268.9 585.9L268.9 590.0 269.1 594.1 267.7 598.0M262.6 630.1L259.0 628.3 255.1 627.8 251.2 627.2 247.2 626.7 243.5 625.6M239.5 606.2L239.3 610.3 241.3 614.0 242.5 617.7 243.6 621.6 243.5 625.6M239.5 606.2L243.5 601.9M267.7 598.0L264.3 598.9 260.8 598.9 257.4 600.0 253.7 599.2 250.4 600.4 247.0 601.4 243.5 601.9M239.5 606.2L235.9 605.0 232.2 604.3 228.5 603.5 224.8 602.9 221.1 602.1M221.1 602.1L219.1 605.3 217.2 608.6 214.6 611.5 213.9 615.5 210.8 618.1 209.4 621.7M240.1 628.5L243.5 625.6M240.1 628.5L236.6 629.0 233.1 627.7 229.5 629.4 226.0 628.4 222.5 628.5 218.9 627.8 215.4 629.0 211.9 628.3M209.4 621.7L211.2 624.8 211.9 628.3M268.7 734.3L269.1 729.7M268.7 734.3L266.6 738.2 263.2 740.9 260.6 744.4M260.6 744.4L258.3 745.6M254.8 727.8L252.2 730.8 249.9 733.9M254.8 727.8L259.2 726.9 263.6 727.6 268.0 728.5M249.9 733.9L252.1 737.5 252.0 742.1 254.6 745.6M268.0 728.5L269.1 729.7M258.3 745.6L254.6 745.6M231.6 703.4L228.1 706.2 224.4 708.6 220.9 711.4M231.6 703.4L230.0 698.5 229.3 693.3M220.9 711.4L220.3 707.8 219.7 704.3 218.4 700.9 215.9 697.8 216.0 694.1M229.3 693.3L224.9 693.5 220.6 693.5 216.3 693.6M216.0 694.1L216.3 693.6M201.3 707.8L205.4 707.7 208.8 710.2 212.9 710.0 216.8 710.9 220.5 712.2M201.3 707.8L203.2 704.3 204.6 700.6M204.6 700.6L208.5 698.6 212.2 696.2 216.0 694.1M220.5 712.2L220.9 711.4M232.3 688.5L231.3 684.5M232.3 688.5L229.3 693.3M231.3 684.5L228.2 680.7 224.0 678.2M224.0 678.2L219.9 678.8 215.9 679.8 211.8 680.1M211.8 680.1L213.8 683.1 213.9 686.9 215.4 690.1 216.3 693.6M204.6 700.6L203.5 697.1 201.9 693.7 199.9 690.5 199.8 686.6M207.0 679.6L211.0 679.6M211.0 679.6L211.8 680.1M236.4 705.0L238.1 708.5 238.5 712.3 239.2 716.0 238.9 719.9M236.4 705.0L231.6 703.4M220.5 712.2L221.6 717.3M237.1 722.1L238.9 719.9M237.1 722.1L233.4 721.3 229.8 722.1M229.8 722.1L225.8 719.5 221.6 717.3M241.6 732.2L239.5 729.1 239.0 725.2 237.1 722.1M241.6 732.2L238.6 735.2 236.1 738.6M236.1 738.6L231.0 739.4 225.9 738.2M229.8 722.1L228.2 726.0 228.4 730.3 225.7 733.9 225.9 738.2M571.7 709.5L569.2 706.8 567.7 703.6 565.8 700.6 565.2 696.9 563.3 693.9 561.0 691.2 558.4 688.6 557.1 685.3 555.9 681.9 552.8 679.6 552.7 675.6 550.7 672.6 549.1 669.5 546.8 666.7 544.9 663.8 543.8 660.3 540.6 658.1 538.8 655.1 536.7 652.2 535.0 649.1 534.4 645.4 531.2 643.2 530.7 639.4 528.2 636.7 527.3 633.1 525.3 630.2 523.3 627.3 521.9 624.1 518.5 622.0 517.1 618.7 515.5 615.5 513.8 612.4 512.5 609.1 511.1 605.8 509.0 602.9 507.6 599.7 505.3 596.9 503.1 594.1M441.1 542.2L443.0 539.2 445.5 536.6 448.1 534.2 449.8 531.1M453.8 530.9L449.8 531.1M426.1 532.1L425.8 534.3M426.1 532.1L429.9 532.5 433.6 531.2 437.4 530.9 441.3 531.2 445.0 530.0 448.8 530.4M449.8 531.1L448.8 530.4M423.2 522.6L421.4 519.3 417.5 517.9 416.2 514.1 413.5 511.6 411.1 508.8M423.2 522.6L419.7 524.2 415.8 524.2 412.1 525.4 408.4 526.2M408.4 526.2L405.8 522.9 402.4 520.7 398.6 519.0M411.1 508.8L407.8 510.8 404.3 512.4 401.1 514.5 398.5 517.4M398.5 517.4L398.6 519.0M426.1 532.1L424.5 527.6 424.4 522.9M424.4 522.9L423.2 522.6M408.1 538.1L409.0 534.1 409.1 530.2 408.4 526.2M393.5 525.7L396.9 523.0 398.6 519.0M379.5 526.8L376.3 523.7 372.3 521.5M372.3 521.5L374.1 518.5 375.6 515.3 378.4 513.0 379.5 509.5 382.0 507.0M387.9 505.1L382.0 507.0M387.9 505.1L390.1 508.6 393.1 511.4 395.3 514.8 398.5 517.4M370.2 522.0L366.8 519.5 363.5 516.9 360.6 513.8M370.2 522.0L367.4 524.5 365.8 527.9 364.3 531.4 361.9 534.2 360.1 537.4 358.0 540.4M360.6 513.8L356.8 514.2 353.2 515.1 349.5 516.3 345.5 515.4 342.0 517.2M358.0 540.4L354.8 538.5 351.3 537.7 347.5 537.7 344.3 536.2M344.3 536.2L342.0 533.0 341.4 529.0 339.3 525.8M339.3 525.8L341.4 521.7 342.0 517.2M364.0 549.0L362.3 546.0 359.4 543.7 358.0 540.4M372.3 521.5L370.2 522.0M331.1 553.2L333.7 550.7 335.5 547.5 337.5 544.5 340.0 542.0 342.0 538.9 344.3 536.2M307.6 525.3L311.1 525.7 314.6 526.0 318.1 526.6 321.7 524.6 325.2 525.7 328.7 526.6 332.2 526.0 335.7 525.9 339.3 525.8M306.3 523.0L308.9 520.4 309.2 516.3 312.7 514.2 314.3 510.9 316.1 507.8 317.5 504.4 319.8 501.5M319.8 501.5L323.7 501.6 327.4 500.2 331.3 500.8M331.3 500.8L334.2 503.6 337.5 506.0 340.0 509.2M340.0 509.2L340.1 513.5 342.0 517.2M636.5 471.3L633.8 467.3 630.1 464.3M664.9 803.0L668.0 806.4 670.7 810.2 674.3 813.2M664.9 803.0L663.4 799.8 662.5 796.3 660.5 793.3 660.9 789.4 659.5 786.1 658.3 782.8 655.6 779.9 656.0 776.0 653.1 773.3 653.1 769.5 651.7 766.2 649.6 763.2 649.2 759.6 649.0 755.9 647.2 752.7 645.3 749.6 645.2 745.9 643.0 742.9 643.0 739.1 640.8 736.2 638.9 733.1 639.6 729.0 636.5 726.4 635.7 722.9 635.6 719.2 633.0 716.3 632.7 712.6 632.2 709.1 630.4 705.9 628.7 702.8 628.4 699.1 627.4 695.7 625.6 692.5 624.5 689.2 622.7 686.0 621.7 682.6 621.7 678.8 620.5 675.5 617.2 672.9 616.4 669.4 615.3 666.0 615.3 662.3 612.9 659.4 611.6 656.0 611.7 652.2 609.2 649.4 609.8 645.4 607.4 642.4 607.2 638.7 605.8 635.5 603.3 632.6 603.4 628.8 601.4 625.7 599.8 622.5 598.2 619.3 598.4 615.5 596.8 612.3M596.8 612.3L596.1 608.6 594.7 605.1 595.1 601.2 592.9 597.8 592.7 594.1 591.0 590.6 590.8 586.8 591.2 582.9 589.6 579.5 588.0 576.0 587.4 572.3 587.1 568.5M587.1 568.5L587.7 565.0 587.0 561.4 588.6 557.9 586.8 554.3 588.9 550.8 588.5 547.3 589.1 543.7 588.2 540.1 587.7 536.6 588.1 533.0 589.3 529.5 588.1 525.9 588.5 522.4 590.2 518.9 590.6 515.4 590.7 511.8 590.9 508.3 590.4 504.7 591.3 501.2 591.1 497.6 590.9 494.0 590.8 490.5 590.0 486.9 590.3 483.3 591.5 479.8M630.1 464.3L627.0 466.1 623.5 466.8 620.4 468.8 616.4 468.1 613.4 470.2 610.0 471.1 606.5 471.9 603.7 474.6 599.9 474.4 596.5 475.4 593.5 477.6M591.5 479.8L593.5 477.6M291.4 705.2L295.1 704.3 298.9 704.5M291.4 705.2L291.4 708.9 289.0 712.1 288.0 715.6 288.1 719.4M288.1 719.4L290.4 721.0M290.4 721.0L294.8 720.5 298.8 718.6 303.0 717.7M303.0 717.7L301.9 713.2 299.4 709.2 298.9 704.5M285.3 699.8L287.6 696.7 290.6 694.2 293.9 692.0 295.6 688.1 299.7 686.7 301.7 683.3M285.3 699.8L289.0 701.7 291.4 705.2M301.7 683.3L301.6 686.9 304.1 689.9 303.7 693.6 305.2 696.9M305.2 696.9L301.5 700.2 298.9 704.5M281.3 792.5L283.2 789.0 283.1 784.9 284.1 781.1M300.4 789.2L298.3 784.0M284.1 781.1L287.5 782.3 291.3 782.1 294.6 784.0 298.3 784.0M323.7 723.9L322.4 723.8M323.7 723.9L327.5 727.6 329.8 732.3M322.4 723.8L318.7 724.8 315.8 727.1 313.1 730.0 309.3 730.8M329.8 732.3L327.6 735.5 327.3 739.5M327.3 739.5L323.3 739.7 319.4 740.1 315.6 738.9M309.3 730.8L312.9 734.5 315.6 738.9M308.3 730.6L305.7 726.7 304.6 722.3 303.5 717.8M308.3 730.6L309.3 730.8M303.5 717.8L307.8 716.3 311.6 713.8M311.6 713.8L313.5 717.2 316.8 719.0 319.2 721.9 322.4 723.8M638.6 785.2L641.1 787.8 644.1 789.6 647.5 790.9 650.6 792.7 653.6 794.5 656.0 797.2 659.4 798.5 661.6 801.5 664.9 803.0M375.9 721.4L379.4 720.9 383.0 721.4 386.6 721.3 390.2 721.4 393.7 720.2 397.3 720.4 400.8 721.3 404.4 720.1 408.0 721.1 411.5 721.7 415.1 720.3 418.7 721.5 422.2 720.6 425.8 721.3 429.3 720.2 432.9 720.7 436.5 720.4 440.0 719.2 443.6 719.9 447.2 720.0 450.7 719.6 454.3 720.0 457.9 720.5 461.4 720.1 465.0 720.1 468.5 718.5 472.1 719.7 475.7 719.4 479.2 720.0 482.8 719.0M375.9 721.4L372.6 723.4 369.0 723.8 365.0 722.9 361.8 725.0 358.1 725.1 354.6 726.2 351.1 727.5 347.6 728.2 343.9 728.8 340.2 728.7 336.9 730.5 333.2 730.8 329.8 732.3M328.5 744.5L327.3 739.5M325.9 750.2L321.1 751.0 316.2 750.9M311.4 746.2L316.2 750.9M311.4 746.2L313.9 742.8 315.6 738.9M240.1 675.2L237.0 678.1 233.8 681.0 231.3 684.5M240.1 675.2L242.9 678.6 246.8 680.7M232.3 688.5L237.2 688.3 241.8 690.1M246.8 680.7L244.2 683.3 243.2 686.8 241.8 690.1M241.6 732.2L245.8 732.5 249.9 733.9M254.8 727.8L253.7 724.4 251.9 721.1 251.8 717.3M238.9 719.9L242.5 718.1 246.6 718.3 250.1 716.4M251.8 717.3L250.1 716.4M250.3 479.0L254.1 482.5 258.5 485.3M250.3 479.0L251.2 475.1 249.7 471.0 249.7 467.0 250.4 463.1 250.8 459.1M259.5 484.9L261.9 482.1 264.6 479.7 266.2 476.3 268.8 473.8M250.8 459.1L254.7 458.9 258.5 457.9 262.2 456.5 266.1 456.3M268.8 473.8L269.0 470.2 266.8 467.0 267.4 463.3 265.9 459.9 266.1 456.3M261.9 436.9L257.5 437.8 253.1 436.7 248.6 436.5M261.9 436.9L263.6 440.6 265.1 444.5 267.3 448.0 268.8 451.9M248.6 436.5L247.0 440.0 246.7 443.8 247.4 447.7 247.1 451.4 245.3 454.9M245.3 454.9L250.8 459.1M268.8 451.9L266.1 456.3M266.9 418.1L263.4 416.8 259.8 417.8 256.2 418.3 252.7 417.8 249.3 416.4 245.7 416.6M266.9 418.1L264.6 414.6 263.4 410.7 262.5 406.7 260.2 403.2 259.0 399.4M259.0 399.4L254.8 400.5 250.4 401.4 246.7 403.8M246.7 403.8L244.7 408.7 244.0 413.9M245.7 416.6L244.0 413.9M246.4 434.8L248.6 436.5M246.4 434.8L246.5 431.1 246.4 427.5 245.5 423.9 246.2 420.2 245.7 416.6M264.1 434.2L265.2 430.3 265.9 426.3 266.4 422.3 267.2 418.4M264.1 434.2L261.9 436.9M246.4 434.8L242.6 434.5 238.9 436.0 235.1 435.6M235.1 435.6L231.3 432.2 226.9 429.5M226.9 429.5L229.2 426.2 228.4 421.9 230.0 418.5 231.8 415.0M231.8 415.0L236.0 415.8 239.8 413.3 244.0 413.9M181.4 415.4L183.8 419.5 187.4 422.7M198.9 405.3L198.3 409.2 199.0 413.2 197.5 416.9M187.4 422.7L190.9 421.0 193.6 417.8 197.5 416.9M216.8 409.0L214.6 412.7 214.4 417.1 211.7 420.5 211.2 424.8M216.8 409.0L213.4 406.6 209.0 406.5 205.5 404.3 201.9 402.5M197.5 416.9L201.3 418.2 204.1 421.4 208.3 422.0 211.2 424.8M216.8 409.0L221.6 406.7M226.9 429.5L223.4 430.7 219.8 430.9 216.1 429.5 212.6 430.6M231.8 415.0L228.0 412.7 224.7 409.8 221.6 406.7M211.2 424.8L212.6 430.6M139.2 421.7L139.3 417.5 139.7 413.4M139.2 421.7L140.9 424.8M140.9 424.8L146.2 425.8M146.2 425.8L149.9 423.7 153.4 421.2 157.1 419.2M143.7 408.7L139.7 413.4M143.7 408.7L147.0 411.3 151.3 411.7 154.9 413.7M154.9 413.7L157.1 419.2M123.5 420.0L121.6 424.1 119.6 428.2M123.5 420.0L127.3 421.3 131.4 420.3 135.4 420.5 139.2 421.7M135.1 434.8L131.5 432.5 127.2 431.9 123.8 429.1 119.6 428.2M135.1 434.8L137.7 431.9 138.7 428.0 140.9 424.8M165.4 435.9L161.7 435.3 157.9 434.9 154.7 432.2 150.9 432.0M165.4 435.9L167.7 432.8M167.7 432.8L166.7 428.9 165.7 425.1 165.2 421.1M165.2 421.1L161.0 420.9 157.1 419.2M150.9 432.0L148.0 429.3 146.2 425.8M148.7 393.0L146.6 394.9M161.7 396.5L159.5 399.6 159.8 403.7 157.5 406.8 156.0 410.1 154.9 413.7M146.6 394.9L145.9 398.4 145.2 401.8 144.7 405.3 143.7 408.7M170.2 415.0L168.2 418.5 165.2 421.1M689.6 241.3L687.6 244.8 686.2 248.5 685.6 252.5 685.1 256.5 682.4 259.8 682.7 264.1 680.7 267.6M680.7 267.6L675.8 268.4 670.8 267.6M670.8 267.6L668.3 265.2 665.9 262.6 662.8 260.8 659.4 259.4 657.9 255.7 654.0 254.9 651.5 252.4 649.0 249.9M649.0 249.9L648.3 246.2 646.1 243.3 644.3 240.2 641.2 237.9 641.0 233.9 638.4 231.3 635.8 228.6 635.7 224.7 634.2 221.4 630.7 219.3 629.8 215.7 628.9 212.1 626.1 209.6 624.3 206.5 623.5 202.9 621.0 200.2 620.4 196.4 618.4 193.5 616.7 190.4 614.6 187.4 611.9 184.9 611.1 181.2 609.1 178.2 607.2 175.2 605.6 172.0 603.4 169.2 601.4 166.2 601.1 162.3 598.3 159.8 596.0 157.0 596.0 152.9 593.3 150.3 591.9 147.0 589.5 144.3 587.4 141.4 586.0 138.1 585.3 134.4 582.4 131.9 582.0 128.1 579.0 125.6 578.5 121.9 575.3 119.6 574.1 116.1 571.7 113.4 570.0 110.3 569.0 106.7 566.9 103.8 565.6 100.5 563.2 97.7 561.6 94.5 559.9 91.4 559.3 87.6 556.8 85.0M491.5 147.7L493.4 144.6 496.6 142.7 499.8 140.9 502.0 138.0 504.1 135.0 507.8 133.7 509.0 129.8 511.6 127.4 514.0 124.7 517.3 123.0 520.5 121.2 522.2 117.8 524.8 115.3 528.2 113.7 529.6 110.0 532.1 107.4 535.7 106.0 537.4 102.6 540.7 100.9 542.6 97.8 546.0 96.1 548.9 94.0 550.9 90.9 553.2 88.1 556.1 86.0M491.5 147.7L487.9 147.9 484.3 148.3 480.9 150.2 477.2 150.3 473.6 150.5 470.0 150.7 466.5 151.7 462.8 151.3 459.3 152.7 455.5 151.7 452.1 153.5 448.5 153.6M301.6 99.2L304.5 101.8 307.1 104.6 309.4 107.6 311.6 110.7 312.8 114.6 315.8 117.1M556.8 85.0L556.1 86.0M668.0 448.0L664.2 448.7 660.3 449.1 656.3 448.4 652.5 448.9 648.8 450.5M668.0 448.0L665.0 444.4 660.9 442.1 657.9 438.6M648.8 450.5L647.9 445.8 647.8 441.0M657.9 438.6L652.8 439.8 647.8 441.0M755.4 398.6L753.9 395.2 753.2 391.6 752.0 388.1 751.1 384.5 751.4 380.6 750.1 377.1 748.9 373.6 748.0 370.0 747.4 366.4 746.7 362.8 744.3 359.5 745.2 355.5 743.4 352.1 742.3 348.6 742.7 344.7 741.4 341.2 739.6 337.9 739.0 334.2M645.1 463.8L645.6 461.3M645.6 461.3L648.5 458.6M700.3 269.9L700.9 273.8 699.4 277.4 698.7 281.1M695.6 266.6L692.1 270.1M698.7 281.1L694.5 282.6M694.5 282.6L692.3 280.1M692.1 270.1L692.3 275.1 692.3 280.1M319.8 501.5L317.7 498.6 315.3 495.9 314.3 492.3 311.8 489.6 310.4 486.2M290.6 494.5L294.2 488.8M310.4 486.2L306.3 486.3 302.3 487.5 298.3 488.6 294.2 488.8M331.3 500.8L333.5 497.2 334.0 493.0 334.7 488.8 336.5 485.1 338.4 481.4M338.4 481.4L334.8 477.8M310.4 486.2L312.3 481.5 315.9 477.9M334.8 477.8L331.0 478.0 327.2 476.9 323.4 476.9 319.6 477.6 315.9 477.9M346.9 447.4L350.4 449.3M346.9 447.4L343.5 450.3 339.7 452.2 335.9 454.4 331.8 455.9M350.4 449.3L352.7 453.3 354.1 457.6 356.3 461.5M356.3 461.5L352.4 463.2 348.1 462.8 344.0 463.6 339.7 463.7 335.7 464.7M335.7 464.7L334.4 460.0 331.8 455.9M338.4 481.4L342.1 481.5 345.7 482.0M345.7 482.0L348.2 484.6 351.4 486.4 353.7 489.2M340.0 509.2L342.8 506.5 346.0 504.1 348.0 500.5 351.5 498.6 354.4 495.9M353.7 489.2L354.4 495.9M360.6 513.8L361.1 510.0 360.9 506.1 362.1 502.4M354.4 495.9L358.6 498.7 362.1 502.4M382.0 507.0L378.7 504.0 374.3 502.6 370.7 499.9M362.1 502.4L366.2 500.5 370.7 499.9M391.3 497.1L388.7 494.3 387.0 490.9 384.5 487.9 382.6 484.6M391.3 497.1L389.9 501.2 387.9 505.1M370.7 499.9L370.7 495.5 370.9 491.1 371.9 486.8 372.3 482.5M382.6 484.6L377.5 483.3 372.3 482.5M374.4 436.7L378.0 435.3 381.9 436.0 385.6 434.8 389.5 435.9 393.1 434.3M374.4 436.7L371.0 442.1M371.0 442.1L370.9 446.3 373.6 449.8 373.6 454.0M373.6 454.0L377.2 454.3 380.8 453.4 384.3 452.7 387.9 454.4 391.5 453.4M391.5 453.4L394.0 450.1 395.3 446.3 396.4 442.4M396.4 442.4L395.3 436.1M393.1 434.3L395.3 436.1M172.2 163.9L173.6 158.8M172.2 163.9L169.1 165.8 165.9 167.2 163.6 170.1 160.6 172.0 157.8 174.1 154.7 175.8 151.9 177.9 149.8 181.0 147.1 183.3 143.9 184.7 141.0 186.7 138.5 189.3 135.0 190.4 132.1 192.5 129.5 194.9 126.9 197.3 123.9 199.1 121.7 202.1 118.1 203.0 115.7 205.7M173.6 158.8L171.2 152.5M115.7 205.7L111.9 206.7 107.9 205.0 104.1 205.8 100.3 206.7 96.4 207.0 92.6 206.2 88.7 206.6M112.3 255.0L111.0 251.7 110.2 248.1 107.6 245.2 108.0 241.1 105.7 238.1 104.4 234.7 103.8 231.1 102.2 227.8 100.7 224.5M88.7 206.6L90.8 209.5 93.1 212.3 94.8 215.5 97.6 217.9 99.1 221.2 100.7 224.5M120.5 411.6L119.7 411.2M120.5 411.6L125.0 410.1 128.8 407.2M119.7 411.2L117.4 408.2 115.9 404.8 116.0 400.7 113.5 397.7 112.3 394.1M128.8 407.2L129.6 403.8 130.4 400.3 130.9 396.8M130.9 396.8L127.9 393.9 124.1 392.1 121.5 388.8 117.1 387.8 114.6 384.4M114.6 384.4L112.7 389.1 112.3 394.1M123.5 420.0L121.6 415.9 120.5 411.6M95.1 420.4L98.7 419.4 101.9 417.4 105.8 417.0 109.0 414.9 112.7 414.1 116.0 412.2 119.7 411.2M119.6 428.2L115.9 429.6 112.7 431.7 110.2 434.8 106.6 436.2M139.7 413.4L136.4 410.8 132.9 408.4 128.8 407.2M90.8 416.0L93.1 412.9 95.7 410.1 99.6 408.5 102.3 405.8 103.6 401.7 107.4 400.1 110.3 397.6 112.3 394.1M146.6 394.9L142.8 395.9 138.7 395.2 134.9 396.8 130.9 396.8M112.8 376.6L113.0 380.6 114.6 384.4M135.0 440.6L132.4 443.7 129.9 446.8M135.0 440.6L139.3 441.8 143.7 442.2 147.7 444.3M146.5 456.9L143.4 454.9 140.2 453.0 136.5 452.0 133.0 450.7 130.2 448.0M146.5 456.9L147.7 451.8 150.6 447.4M130.2 448.0L129.9 446.8M150.6 447.4L147.7 444.3M135.1 434.8L135.0 440.6M111.1 443.1L115.0 443.3 118.4 445.7 122.3 445.9 125.9 446.9 129.9 446.8M150.9 432.0L149.3 436.0 149.6 440.4 147.7 444.3M128.9 460.7L132.4 461.7 135.3 464.1 138.7 465.2 142.4 465.7M128.9 460.7L130.5 456.6 130.5 452.3 130.2 448.0M146.8 463.7L146.4 464.3M146.8 463.7L146.5 456.9M163.7 446.3L164.7 442.9 165.4 439.5 165.4 435.9M163.7 446.3L159.2 445.7 155.0 447.2 150.6 447.4M113.7 461.4L118.9 462.3 123.3 465.2M113.7 461.4L111.5 464.9 109.5 468.5 106.0 471.1M123.3 465.2L124.1 468.8 123.6 472.4 124.2 475.9M106.0 471.1L108.9 473.7 111.4 476.6 114.2 479.4 116.0 483.0M116.0 483.0L118.5 480.4 121.4 478.3 124.2 475.9M110.1 453.7L111.7 457.6 113.7 461.4M128.9 460.7L125.5 462.2 123.3 465.2M101.3 471.3L106.0 471.1M134.3 479.3L135.6 478.4M134.3 479.3L130.6 479.1 127.4 477.6 124.2 475.9M114.1 489.1L116.0 483.0M135.5 494.1L136.4 493.1M136.4 493.1L134.8 488.7 136.0 483.8 134.3 479.3M227.1 651.9L228.1 656.2 229.4 660.5 231.1 664.7M227.1 651.9L222.8 650.1 218.1 649.7M218.1 649.7L216.8 653.3 212.9 655.0 211.5 658.5M229.1 666.6L225.4 666.9 221.6 666.2 217.8 666.7 214.1 666.4M229.1 666.6L231.1 664.7M211.5 658.5L212.2 662.6 214.1 666.4M240.1 628.5L239.7 632.7 238.9 636.8 238.1 640.9 236.6 644.9M236.6 644.9L233.2 646.8 230.3 649.6 227.1 651.9M209.8 635.2L210.1 631.5 211.9 628.3M209.8 635.2L212.2 638.7 213.8 642.5 216.3 645.9 218.1 649.7M202.3 659.6L206.9 659.2 211.5 658.5M195.0 652.9L195.7 647.8 194.9 642.7M194.9 642.7L198.8 641.1 202.7 639.6 205.9 636.7 209.8 635.2M224.0 678.2L226.5 674.7 228.4 670.9 229.1 666.6M211.0 679.6L212.1 675.2 212.0 670.6 214.1 666.4M297.8 666.8L294.7 669.3 290.6 669.5 287.0 670.9 283.6 672.8 280.4 674.8 276.9 676.4M276.9 676.4L273.0 674.8M267.8 641.0L266.5 642.9M273.0 674.8L270.7 671.8 267.5 669.6 265.7 666.1M266.5 642.9L266.1 646.7 265.1 650.6 266.8 654.5 265.7 658.3 265.0 662.2 265.7 666.1M200.6 514.4L197.6 517.1 195.4 520.5 193.0 523.6 189.8 526.1M200.6 514.4L204.8 515.3 209.1 516.2 213.4 516.4 217.7 515.9M213.5 536.1L210.0 536.1 206.5 535.0 203.0 534.5 199.4 535.3 196.0 534.1 192.4 534.4M213.5 536.1L215.3 532.2 217.0 528.1 218.7 524.1 221.7 520.8M189.8 526.1L190.6 530.4 192.4 534.4M217.7 515.9L221.2 518.7M221.7 520.8L221.2 518.7M169.0 519.7L173.7 518.6M178.5 554.5L182.4 553.4 185.7 551.3M173.7 518.6L177.3 519.1 180.6 520.6 183.5 522.7 186.9 524.0 189.8 526.1M185.7 551.3L187.5 548.1 187.7 544.3 189.9 541.2 191.2 537.8 192.4 534.4M238.5 503.3L235.6 500.1 234.0 496.0 230.7 493.1 228.2 489.6M238.5 503.3L235.6 505.8 232.4 508.2 230.0 511.2 227.4 514.1 223.3 515.4 221.2 518.7M228.2 489.6L224.7 491.1 221.7 493.4 218.5 495.5 215.3 497.4M215.3 497.4L215.5 501.2 216.7 504.8 217.7 508.4 217.1 512.3 217.7 515.9M238.5 503.3L242.0 504.3 245.6 502.5 249.1 504.6 252.7 503.6M248.3 530.9L241.5 532.3M241.5 532.3L238.1 530.7 235.5 527.5 231.9 526.0 228.1 525.1 224.7 523.3 221.7 520.8M185.7 551.3L188.7 553.5 192.0 555.2 195.6 556.2 199.1 557.2 202.6 558.4M213.5 536.1L214.4 539.8 214.8 543.6 215.7 547.3 217.4 550.8M202.6 558.4L206.6 557.2 209.8 554.2 214.0 553.3 217.4 550.8M171.8 567.5L173.6 571.0 176.9 573.1 180.4 575.0 182.7 578.0 184.6 581.5 187.6 583.9 190.0 586.7M190.0 586.7L193.5 585.4 196.0 582.8 199.0 580.9 201.2 577.8 204.6 576.4M202.6 558.4L202.9 562.0 202.9 565.6 202.8 569.3 203.3 572.9 204.6 576.4M103.1 635.9L106.7 635.2 110.4 635.6 114.1 636.6 117.7 634.4 121.4 634.2 125.1 634.3 128.8 635.5 132.4 634.4 136.1 635.1 139.8 635.3 143.4 635.1 147.0 633.2 150.8 634.6 154.4 634.7 158.1 634.3 161.8 634.6 165.4 634.3 169.1 633.7 172.7 633.3M103.1 635.9L106.7 635.1 109.7 632.9 112.5 630.5 116.0 629.4 119.9 629.2 122.6 626.5 126.0 625.2 129.7 624.6 132.8 622.7 136.2 621.4 139.1 619.2 142.5 617.8 145.3 615.4 148.7 614.1 152.0 612.5 155.6 611.8 158.9 610.3 161.7 607.8 165.6 607.5 168.3 604.9 171.9 604.0 174.8 601.7 178.5 601.1 181.5 598.9 185.5 599.1 188.4 596.7M172.7 633.3L175.6 630.9 179.3 629.7 181.8 626.8 184.7 624.5 188.5 623.3 190.8 620.1 194.1 618.5 197.2 616.3M188.4 596.7L189.6 600.1 190.3 603.7 192.3 606.7 195.2 609.3 195.8 613.0 197.2 616.3M194.9 642.7L191.6 640.2 187.8 638.8 183.7 638.3 179.8 637.3 176.2 635.4 172.7 633.3M189.8 593.9L190.5 590.3 190.0 586.7M189.8 593.9L188.4 596.7M209.4 621.7L205.0 620.5 201.6 617.3 197.2 616.3M221.1 602.1L220.3 600.5M189.8 593.9L193.7 594.2 197.3 596.0 201.1 596.8 205.1 596.6 208.8 598.1 212.6 599.2 216.6 599.2 220.3 600.5M236.1 738.6L237.6 742.7 239.2 746.7M254.6 745.6L252.3 747.7M252.3 747.7L248.0 747.1 243.7 746.0 239.2 746.7M258.3 745.6L260.7 748.6 262.9 751.7 264.3 755.3 266.3 758.5M252.3 747.7L251.1 752.5 250.3 757.4M250.3 757.4L253.1 762.1M253.1 762.1L257.5 760.9 262.2 760.6 266.3 758.5M260.7 798.3L257.1 797.9 253.9 796.3 250.4 795.4 247.0 794.3M260.7 798.3L261.4 798.9M414.8 485.9L412.3 489.8 408.9 492.8 405.9 496.1M414.8 485.9L418.6 487.6 422.4 489.4M422.4 489.4L423.6 493.0 423.7 496.9 425.3 500.5M425.3 500.5L420.6 500.8 416.4 502.2 412.4 504.5M412.4 504.5L409.7 502.1 407.8 499.1 405.9 496.1M391.3 497.1L397.2 494.7M397.2 494.7L401.4 496.4 405.9 496.1M411.1 508.8L412.4 504.5M474.3 521.0L474.7 518.1M524.4 537.9L527.6 539.8 530.1 542.4 532.6 544.9 533.7 548.9 536.9 550.8 539.5 553.2 542.6 555.2 543.8 559.1 546.1 561.8 549.1 563.9 551.2 566.8 554.3 568.8 557.2 571.0 559.9 573.3 562.2 576.1 564.9 578.4 567.1 581.3 570.1 583.4 572.6 585.9 573.7 589.8 576.3 592.3 578.8 594.8 582.1 596.7 584.4 599.4 586.7 602.1 588.8 605.1 592.1 606.8 594.3 609.7 596.8 612.3M524.4 537.9L521.4 535.9 518.6 533.5 514.9 532.5 511.4 531.3 508.7 528.7 506.2 525.8 502.2 525.3 499.6 522.5 495.9 521.6 493.0 519.4 490.3 516.9 486.5 516.0 483.9 513.3M483.9 513.3L479.3 515.8 474.7 518.1M456.1 518.3L455.2 522.5 454.8 526.8 453.8 530.9M456.1 518.3L459.9 517.9 463.6 517.0 466.8 514.8 470.6 514.2M474.7 518.1L470.6 514.2M439.2 467.7L443.2 468.3 447.2 468.3 451.2 467.9 455.2 467.9 459.3 467.7M439.2 467.7L438.4 469.1M438.4 469.1L440.9 472.0 443.3 475.1 446.1 477.9 449.4 480.0 451.7 483.2M451.7 483.2L454.2 480.4 456.5 477.4 458.3 474.0 460.6 471.0M459.3 467.7L460.6 471.0M623.5 344.2L628.7 347.9M628.7 347.9L626.8 351.5 627.0 355.6 625.5 359.3M618.3 359.7L618.0 356.0 617.6 352.4 616.9 348.8M618.3 359.7L621.9 359.7 625.5 359.3M616.9 348.8L619.7 345.9 623.4 344.2M606.2 370.6L604.1 366.1 601.3 362.1M606.2 370.6L611.1 369.1 616.2 369.3M616.2 369.3L617.0 364.8 617.7 360.1M617.7 360.1L614.1 359.6 610.7 358.3 607.1 358.1M607.1 358.1L601.3 362.1M645.6 461.3L642.7 458.6 639.4 456.4 635.5 455.4M630.1 464.3L630.6 459.6M630.6 459.6L635.5 455.4M648.5 458.6L648.0 454.6 648.7 450.6M648.7 450.6L644.9 449.4 640.9 450.1 637.1 449.8M635.5 455.4L637.1 449.8M638.2 442.6L642.3 441.3 646.4 439.9M638.2 442.6L636.8 449.1M647.8 441.0L646.4 439.9M636.8 449.1L637.1 449.8M577.1 457.5L575.5 454.1 576.9 450.3 575.6 446.9M577.1 457.5L573.0 458.5 568.8 458.8 564.6 459.1 560.5 459.7 556.2 459.5M549.2 449.6L551.9 452.6 554.3 455.9 556.2 459.5M549.2 449.6L551.2 444.8 553.0 439.9M553.0 439.9L556.9 439.5 560.8 440.3 564.7 440.6 568.6 440.5 572.4 439.4M575.6 446.9L573.7 443.2 572.4 439.4M515.5 476.0L514.4 479.7 513.7 483.4 513.6 487.3M515.5 476.0L519.4 476.2 523.3 475.2 527.1 474.5 531.1 474.9M513.6 487.3L515.9 490.1 518.8 492.4 521.9 494.3 524.2 497.3 527.8 498.7 529.4 502.3 531.9 504.9 534.5 507.5 538.6 508.5 540.4 511.9 543.0 514.5 546.7 515.8 548.7 519.0 552.0 520.7 554.7 523.2 557.7 525.3 560.0 528.2 561.8 531.6 565.1 533.4M531.1 474.9L532.8 478.2 534.2 481.6 535.7 485.0 539.2 487.2 539.7 491.2 541.4 494.4 543.8 497.3 546.2 500.1 548.4 503.1 549.7 506.5 551.7 509.6 553.8 512.7 554.8 516.3 556.8 519.4 559.4 522.1 561.4 525.2 562.6 528.8 564.4 531.9M564.4 531.9L565.1 533.4M535.1 461.0L539.2 462.8 543.5 464.1 547.9 465.2M535.1 461.0L533.8 464.4 532.2 467.7 531.5 471.3 531.1 474.9M547.9 465.2L548.9 468.6 549.1 472.3 550.1 475.8 551.7 479.1 553.0 482.5 553.4 486.2 553.5 489.9 554.3 493.4 556.2 496.7 556.5 500.3 558.4 503.6 558.1 507.4 559.3 510.8 559.5 514.5 560.1 518.1 562.8 521.1 561.7 525.2 564.3 528.2 564.4 531.9M587.1 568.5L586.0 564.8 584.1 561.6 580.6 559.3 578.7 556.0 576.4 553.0 575.9 548.9 573.6 545.9 572.0 542.4 569.7 539.4 566.8 536.8 565.1 533.4M577.1 457.5L578.6 461.0 581.5 463.7 583.6 466.8 585.4 470.2 587.0 473.7 589.8 476.4 591.5 479.8M556.2 459.5L552.0 462.2 547.9 465.2M375.9 721.4L372.1 720.5 368.5 719.2 364.5 719.1 360.7 718.5 357.0 717.4 353.2 716.8 349.5 715.4 345.5 716.1 341.9 714.4M323.7 723.9L324.6 722.3M341.9 714.4L338.7 716.7 335.4 718.5 331.6 719.3 327.7 720.0 324.6 722.3M311.4 746.2L307.7 746.3 304.1 747.0M316.2 750.9L313.9 754.9 312.3 759.2M312.3 759.2L308.5 758.3 304.8 759.4M304.8 759.4L301.9 757.6M301.9 757.6L303.4 754.2 302.9 750.4 304.1 747.0M322.9 764.1L322.9 768.6 321.5 772.9 321.0 777.4M322.9 764.1L317.9 763.8M317.9 763.8L315.8 767.6 312.5 770.6 310.1 774.1M321.0 777.4L314.7 778.3M314.7 778.3L310.1 774.1M328.2 761.7L322.9 764.1M312.3 759.2L315.7 760.8 317.9 763.8M304.8 759.4L305.5 762.9 305.3 766.6 306.9 770.0 306.8 773.6M306.8 773.6L310.1 774.1M312.2 793.2L312.0 789.3 314.0 785.8 313.4 781.9 314.7 778.3M298.3 784.0L300.8 780.5 301.5 776.2M301.5 776.2L306.8 773.6M264.0 706.2L264.7 709.7 265.9 713.0M264.0 706.2L266.7 703.1 268.0 699.2 270.0 695.6 272.0 692.1M277.1 711.9L273.7 713.0 270.3 714.1 266.7 713.6M277.1 711.9L279.4 708.1 279.1 703.5 281.0 699.5M266.7 713.6L265.9 713.0M281.0 699.5L277.7 697.5 276.5 693.5 273.1 691.5M273.1 691.5L272.0 692.1M274.7 728.7L269.1 729.7M274.7 728.7L278.1 725.5 281.6 722.4 284.9 719.0M284.9 719.0L281.6 714.8 277.1 711.9M268.0 728.5L268.2 724.8 266.8 721.1 266.5 717.4 266.7 713.6M285.3 699.8L281.0 699.5M288.1 719.4L284.9 719.0M251.8 717.3L255.4 716.6 258.9 715.6 262.1 713.5 265.9 713.0M302.6 671.0L302.9 675.1 302.0 679.2 301.7 683.3M276.9 676.4L276.9 680.5 274.3 683.8 273.7 687.6 273.1 691.5M273.0 674.8L269.5 676.5 265.5 676.5 261.8 677.4 258.3 679.4 254.4 679.4M254.4 679.4L253.9 680.0M253.9 680.0L254.8 683.7 254.8 687.7 256.3 691.3M256.3 691.3L260.2 691.4 264.1 692.2 268.1 691.3 272.0 692.1M243.9 702.5L248.9 705.9M243.9 702.5L245.6 698.4 245.0 694.1M248.9 705.9L252.6 704.7 256.1 702.8M256.1 702.8L256.2 699.0 255.0 695.2 256.2 691.4M245.0 694.1L248.7 692.8 252.2 691.2 256.2 691.4M236.4 705.0L240.1 703.6 243.9 702.5M250.1 716.4L248.9 713.0 248.7 709.5 248.9 705.9M241.8 690.1L245.0 694.1M264.0 706.2L259.8 704.9 256.1 702.8M253.9 680.0L250.4 681.2 246.8 680.7M170.4 485.8L173.3 488.3 175.5 491.5 178.0 494.4M170.4 485.8L166.5 487.9 162.0 488.2 157.6 488.6 153.7 490.9M178.0 494.4L174.4 495.2 170.7 496.0 167.9 499.1 163.9 499.2 160.8 501.4 157.1 502.1M157.1 502.1L156.8 498.3 154.6 495.1 153.4 491.6M153.7 490.9L153.4 491.6M156.1 516.4L156.9 512.9 157.2 509.3 156.0 505.6 157.1 502.1M136.4 493.1L140.6 491.8 145.0 493.1 149.2 492.7 153.4 491.6M152.7 481.3L153.3 486.1 153.7 490.9M146.8 463.7L150.3 461.8 153.9 461.1 158.0 462.1 161.6 461.1 165.2 459.9M154.1 476.9L157.9 475.2 162.1 474.4 165.9 472.6M165.9 472.6L166.3 468.3 164.3 464.2 165.2 459.9M170.4 485.8L171.2 481.1 170.9 476.3M165.9 472.6L170.9 476.3M236.7 392.7L231.4 391.9 226.3 393.2M236.7 392.7L239.6 390.0 241.9 386.8 243.3 383.0 245.6 379.8M232.9 368.5L235.9 371.5 239.9 373.5 242.0 377.5 245.6 379.8M232.9 368.5L229.5 370.9 226.7 374.1 224.1 377.5 220.7 380.0 217.0 382.1M217.0 382.1L219.5 384.8 220.9 388.3 224.0 390.4 226.3 393.2M221.6 406.7L223.5 403.6 223.2 399.8 224.5 396.4 226.3 393.2M246.7 403.8L243.8 401.5 241.3 398.6 239.7 395.1 236.7 392.7M213.0 381.0L209.2 382.3M213.0 381.0L217.0 382.1M191.5 431.3L189.1 427.9 187.3 424.1M191.5 431.3L190.4 437.9M187.3 424.1L184.1 426.6 180.3 428.1 177.2 430.8 173.8 432.9M190.4 437.9L186.0 438.7 182.3 441.2M173.8 432.9L176.3 436.0 178.9 439.0 182.3 441.2M187.4 422.7L187.3 424.1M212.3 431.2L212.6 430.6M212.3 431.2L208.1 431.4 204.0 431.5 199.8 431.4 195.6 430.2 191.5 431.3M167.7 432.8L173.8 432.9M576.4 274.7L575.2 278.4 575.9 282.1 575.9 285.8 576.8 289.5 574.8 293.2 575.5 296.9M576.4 274.7L578.6 277.5 581.4 279.8 584.2 282.1 586.1 285.2 588.1 288.1 591.3 290.1 593.7 292.7 595.7 295.7 598.2 298.3 601.4 300.2 603.8 302.9 605.5 306.2M575.5 296.9L578.0 299.7 579.7 303.2 582.5 305.8 584.6 309.0M584.6 309.0L588.3 308.6 591.8 309.8 595.3 310.4 598.6 312.4 602.2 312.5M602.2 312.5L603.3 309.1 605.5 306.2M618.7 291.7L619.1 295.7 622.0 298.7 623.0 302.5M618.7 291.7L617.2 295.3 615.4 298.8 612.3 301.5 610.2 304.8M623.0 302.5L621.9 307.4M621.9 307.4L618.7 310.1 615.6 312.9M610.2 304.8L611.9 309.2 614.7 313.0M615.6 312.9L614.7 313.0M627.4 316.1L622.5 318.5M627.4 316.1L625.0 311.5 621.9 307.4M622.5 318.5L619.1 315.6 615.6 312.9M602.2 312.5L605.0 315.4 606.1 319.4M606.1 319.4L607.7 320.0M605.5 306.2L610.2 304.8M608.3 319.8L612.2 317.1 614.7 313.0M608.3 319.8L607.7 320.0M619.9 324.2L622.5 318.5M619.9 324.2L615.8 323.3 611.9 321.8 608.3 319.8M650.5 283.0L650.1 279.4 651.4 276.0 651.8 272.5 651.4 268.9 651.6 265.4 652.5 261.9M650.5 283.0L654.6 284.2 657.6 287.3M657.6 287.3L659.3 286.6M659.3 286.6L660.7 281.8 661.6 277.0M661.6 277.0L660.2 273.7 657.2 271.4 655.6 268.3 654.8 264.6 652.5 261.9M670.8 267.6L670.4 272.8 670.9 277.9M670.9 277.9L666.2 278.3 661.6 277.0M649.0 249.9L649.1 254.2 650.8 258.0 652.5 261.9M634.6 296.5L631.7 294.1 628.0 293.0 625.7 289.8 621.9 288.8 618.8 286.8M634.6 296.5L639.3 294.7 643.7 292.3M643.7 292.3L642.6 285.8M642.6 285.8L640.2 282.7 637.0 280.8 633.0 279.9 630.0 277.8 627.0 275.5 623.9 273.5 621.9 269.9 618.4 268.4 615.3 266.3 612.3 264.1M618.8 286.8L617.4 283.1 616.6 279.2 615.4 275.5 615.0 271.5 613.2 267.9 612.3 264.1M648.1 297.1L653.8 296.4M648.1 297.1L643.7 292.3M653.8 296.4L656.5 292.2 657.6 287.3M650.5 283.0L646.3 283.6 642.6 285.8M575.3 195.2L576.3 198.8 578.2 201.8 581.0 204.3 582.2 207.7 583.0 211.3 585.7 213.9 587.0 217.2 589.4 220.0 589.8 223.8 592.5 226.4 594.1 229.5 594.9 233.1 598.0 235.5 599.9 238.5 600.7 242.1 602.3 245.3 604.7 248.0 605.8 251.5 606.7 255.0 608.2 258.3 609.8 261.4 612.3 264.1M575.3 195.2L575.4 191.6 573.1 188.4 573.2 184.7 572.7 181.2 571.2 177.8 572.3 174.0 570.5 170.7 571.0 166.9 570.2 163.5 568.6 160.1 568.2 156.6 567.8 153.0 566.6 149.6 565.6 146.1 565.9 142.4 564.8 139.0 564.2 135.5 564.8 131.7 564.1 128.2 562.7 124.8 561.2 121.5 562.3 117.6 560.5 114.3 559.6 110.9 560.4 107.1 560.1 103.5 558.1 100.2 558.1 96.6 558.2 92.9 556.8 89.6 556.1 86.0M573.8 236.9L574.4 240.6 575.1 244.4 575.7 248.1 573.9 252.1 574.4 255.8 576.1 259.5 575.3 263.4 576.6 267.1 575.6 271.0 576.4 274.7M573.8 236.9L573.7 233.1 574.5 229.3 574.3 225.5 573.4 221.7 574.7 217.9 575.0 214.2 573.7 210.3 573.9 206.6 574.5 202.8 575.7 199.0 575.3 195.2M618.7 291.7L618.8 286.8M752.2 302.9L750.3 299.2 746.7 297.0M759.2 275.1L757.5 278.3 754.9 280.9 753.4 284.2 752.5 287.9 750.4 290.8 747.8 293.5 746.7 297.0M730.4 331.6L729.9 335.4 729.3 339.2 728.2 343.0 729.0 347.0 727.7 350.7 727.0 354.5 726.3 358.3 725.9 362.1M729.2 329.7L722.7 329.7M722.7 329.7L720.8 332.7 720.2 336.4 718.3 339.4 716.9 342.6 715.3 345.8M715.3 345.8L716.9 349.2 716.8 353.0M716.8 353.0L719.4 356.5 722.1 359.8 725.9 362.1M755.4 398.6L752.3 395.6 748.9 393.0 745.6 390.2 742.6 387.0M725.9 362.1L728.1 365.2 730.4 368.2 732.6 371.2 733.4 375.2 736.6 377.5 739.0 380.4 740.2 384.1 742.6 387.0M644.7 430.2L646.7 434.9 646.4 439.9M644.7 430.2L647.9 426.8M657.9 438.6L656.8 431.9M647.9 426.8L652.5 429.1 656.8 431.9M668.0 448.0L671.2 449.4 674.3 451.3 678.1 451.6 681.6 452.4 684.1 455.7 688.2 455.0 691.2 457.2 694.4 458.7 697.3 461.1 701.1 461.0 704.5 462.1 707.8 463.6 711.0 465.1 714.5 465.9 717.2 468.9 720.8 469.4 723.9 471.2 727.6 471.6 730.6 473.7 733.7 475.6 737.6 475.5 740.3 478.4 744.1 478.3 747.1 480.5 750.2 482.4 753.9 482.7 756.8 485.0 760.6 485.2 763.8 486.6 766.7 489.0 770.3 489.6 773.7 490.8M661.4 428.3L656.8 431.9M661.4 428.3L665.9 427.8 670.2 428.5 674.4 429.8M674.4 429.8L677.4 431.8 680.6 433.2 684.0 434.5 686.1 437.8 689.7 438.7 692.0 441.7 695.6 442.5 698.9 444.0 701.6 446.3 704.1 448.9 707.0 450.9 710.4 452.1 713.8 453.4 716.5 455.7 719.8 457.1 722.7 459.1 726.2 460.3 729.1 462.1 731.1 465.8 734.3 467.3 737.9 468.1 740.5 470.7 744.2 471.4 746.2 474.8 749.5 476.2 752.4 478.3 755.7 479.6 758.7 481.4 761.3 484.0 764.9 484.9 768.2 486.2 771.1 488.2 773.7 490.8M773.7 490.8L774.8 491.3M684.5 276.9L682.4 271.1M684.5 276.9L681.6 279.4 680.6 283.3 678.1 286.1M672.2 279.1L674.9 275.6 679.0 273.8 682.2 271.0M672.2 279.1L674.1 282.3 674.4 286.0M678.1 286.1L675.5 286.4M674.4 286.0L675.5 286.4M692.1 270.1L687.2 270.8 682.4 271.1M692.3 280.1L688.6 277.9 684.5 276.9M694.5 282.6L693.3 287.0 690.9 290.8M690.9 290.8L686.6 289.4 682.7 286.7 678.1 286.1M680.7 267.6L682.2 271.0M670.9 277.9L672.2 279.1M667.2 289.2L663.5 287.1 659.3 286.6M667.2 289.2L671.2 288.4 674.4 286.0M673.5 320.0L670.2 317.3 668.5 313.4M673.5 320.0L670.5 323.4 669.4 327.8M662.6 326.8L669.4 327.8M662.6 326.8L661.0 322.7 659.2 318.6M668.5 313.4L665.8 315.8 661.7 315.9 659.2 318.6M563.9 320.4L563.0 320.6M563.9 320.4L564.4 315.9 567.7 312.3 568.0 307.8M563.0 320.6L558.8 321.0 554.8 320.2 550.9 318.6 546.9 317.6 542.8 317.1M568.0 307.8L563.9 307.9 559.8 307.7 555.8 309.6 551.6 308.5 547.6 309.3M547.6 309.3L545.5 313.4 542.8 317.1M573.8 236.9L571.4 239.6 570.6 243.1 568.9 246.3 568.6 250.0 565.5 252.5 565.3 256.3 564.0 259.6 562.0 262.6 559.8 265.4 559.3 269.1 557.5 272.2 555.7 275.2 554.9 278.8 553.7 282.1 551.6 285.1 549.5 288.0 548.1 291.2 547.6 294.9 545.1 297.6 544.0 301.0M575.5 296.9L572.4 300.1 570.1 303.9 568.0 307.8M544.0 301.0L546.4 304.9 547.6 309.3M233.5 355.0L238.0 353.8 242.6 354.7M233.5 355.0L232.2 359.5 232.6 364.0 232.9 368.5M245.6 379.8L249.7 379.1M242.6 354.7L245.3 357.2 246.7 360.7 249.3 363.3 251.5 366.2 254.0 368.8M249.7 379.1L250.9 375.5 252.9 372.4 254.0 368.8M314.1 356.2L317.5 359.6M314.1 356.2L309.9 356.3M309.9 356.3L306.8 358.4 303.5 360.2 300.4 362.1 296.9 363.6M296.9 363.6L299.4 366.3 302.0 368.8 305.7 370.0 308.8 371.9 311.0 375.0M317.5 359.6L316.4 363.6 313.7 367.0 312.9 371.2 311.0 375.0M296.4 385.6L299.2 388.5 299.3 392.8 301.8 395.9M296.4 385.6L292.9 387.4 289.6 389.8 285.4 390.0 282.1 392.2M301.8 395.9L299.6 398.8 296.8 401.3 294.6 404.2 292.5 407.1 290.2 409.9 288.8 413.4M282.1 392.2L281.8 397.0 281.0 401.6M281.0 401.6L282.2 405.5 284.6 408.7 286.4 412.3M286.4 412.3L288.8 413.4M267.2 418.4L271.2 417.5 274.7 415.3 278.8 415.0 282.3 412.5 286.4 412.3M259.0 399.4L260.8 396.8M260.8 396.8L264.7 398.6 269.1 398.0 272.9 399.8 276.8 401.4 281.0 401.6M308.4 419.4L309.6 418.8M308.4 419.4L303.7 419.3 299.1 419.9 294.6 421.4M294.6 421.4L291.5 417.5 288.8 413.4M306.4 396.1L301.8 395.9M306.4 396.1L309.4 398.9 309.7 403.3 313.1 405.8 314.9 409.4M314.9 409.4L312.4 412.1 311.6 415.8 309.6 418.8M264.1 434.2L267.8 433.9 271.6 434.1 275.3 434.0 279.1 434.4 282.8 433.8 286.5 432.7 290.2 433.4M268.8 451.9L272.9 451.9 277.1 451.7M277.1 451.7L278.5 448.1 282.1 446.1 283.1 442.1 285.6 439.3 288.2 436.6 290.2 433.4M294.6 421.4L294.3 425.0 292.5 428.3 292.7 432.0M290.2 433.4L292.7 432.0M334.8 477.8L335.8 473.5 335.0 469.0 335.7 464.7M315.9 477.9L314.3 473.4 313.0 468.8M331.8 455.9L329.3 454.6M329.3 454.6L325.6 455.6 322.3 457.6 318.7 458.8 315.4 460.5M315.4 460.5L314.6 464.8 313.0 468.8M325.0 439.8L321.1 439.6 317.2 439.8M325.0 439.8L325.9 443.6 326.2 447.5 328.5 450.8 329.3 454.6M317.2 439.8L313.4 440.8 310.5 443.6 307.0 445.1 303.3 446.3M315.4 460.5L312.5 458.1 311.3 454.2 307.4 452.6 305.3 449.4 303.3 446.3M317.2 439.8L315.6 436.4 314.7 432.8 313.1 429.4 310.5 426.5 309.6 422.9 308.4 419.4M292.7 432.0L294.8 435.8 298.3 438.6 300.8 442.1 302.6 446.1M303.3 446.3L302.6 446.1M371.9 482.3L370.3 479.1 366.6 477.5 364.5 474.6 362.5 471.7 361.5 468.1 358.7 465.8M372.2 482.4L373.4 478.4 375.1 474.7 376.9 471.0 378.3 467.1M378.3 467.1L377.2 463.1 373.5 460.4 372.4 456.2M372.4 456.2L369.4 458.7 365.7 460.1 362.0 461.4 358.8 463.5M358.7 465.8L358.8 463.5M353.7 489.2L357.0 487.0 360.9 486.3 364.7 485.2 367.9 482.7 371.9 482.3M345.7 482.0L348.0 478.5 350.1 474.9 354.2 472.9 355.2 468.3 358.7 465.8M382.6 484.6L384.6 481.1 388.1 478.8 390.5 475.6M390.5 475.6L389.4 468.8M389.4 468.8L385.6 468.9 382.1 467.5 378.3 467.1M373.6 454.0L372.4 456.2M389.4 468.8L391.7 464.5 394.6 460.7M391.5 453.4L392.0 457.5 394.6 460.7M371.0 442.1L367.4 441.5 363.7 441.3M363.7 441.3L360.6 443.6 357.4 445.9 353.8 447.4 350.4 449.3M356.3 461.5L358.8 463.5M346.9 447.4L346.6 443.5 345.6 439.8 344.7 436.1 343.3 432.5M363.7 441.3L361.4 438.6 359.7 435.2 356.4 433.4 354.2 430.4 351.7 427.8M351.7 427.8L347.0 429.2 343.3 432.5M325.0 439.8L328.0 436.7 329.9 432.8 332.4 429.4M343.3 432.5L339.9 430.8 336.2 429.8 332.4 429.4M309.6 418.8L313.4 419.6 316.9 421.2 320.2 423.2 324.1 423.7 327.7 424.9 331.2 426.5M332.4 429.4L331.2 426.5M397.2 494.7L398.2 491.0 398.1 487.1 399.4 483.5 400.9 479.9M414.8 485.9L412.8 480.8M412.8 480.8L408.9 479.4 404.8 480.8 400.9 479.9M390.5 475.6L395.0 477.8 400.0 478.7M400.9 479.9L400.0 478.7M449.0 452.5L448.3 448.7 449.4 445.0 450.2 441.3M449.0 452.5L452.7 454.5 456.6 456.1 460.0 458.4M469.7 439.2L468.3 436.8M469.7 439.2L467.5 442.7 466.2 446.6 466.5 450.9 464.8 454.6M468.3 436.8L464.7 437.7 461.1 435.9 457.5 436.3 453.9 437.0M450.2 441.3L453.9 437.0M460.0 458.4L464.8 454.6M439.3 455.7L444.2 454.2 449.0 452.5M439.3 455.7L438.8 455.3M438.8 455.3L435.2 451.4 433.3 446.4M433.3 446.4L435.6 442.4 439.5 439.9M439.5 439.9L443.0 440.8 446.6 441.2 450.2 441.3M439.2 467.7L439.2 463.7 438.9 459.7 439.3 455.7M459.3 467.7L459.1 463.0 460.0 458.4M448.6 429.2L451.5 433.0 453.9 437.0M448.6 429.2L443.5 429.9 438.3 430.1M438.3 430.1L438.6 435.0 439.5 439.9M553.0 439.9L549.5 438.0 546.1 435.7M546.1 435.7L546.8 431.5 547.6 427.4 549.3 423.6M572.4 439.4L572.9 435.5M572.9 435.5L572.3 431.2 571.9 426.8 569.3 423.0 569.0 418.6M549.3 423.6L553.4 423.2 557.3 421.9 561.0 420.0 564.8 418.8 569.0 418.6M448.6 429.2L450.4 422.8M469.8 428.3L468.3 432.4 468.3 436.8M469.8 428.3L468.9 426.7M468.9 426.7L465.0 426.7 461.3 426.0 457.6 425.3 454.3 422.9 450.4 422.8M468.9 426.7L467.7 423.1 465.9 419.6 465.6 415.8 465.2 412.0 464.2 408.3M464.2 408.3L459.1 406.5M448.5 412.2L449.2 415.7 450.6 419.1 450.4 422.8M448.5 412.2L452.6 407.8M452.6 407.8L459.1 406.5M131.6 290.6L134.8 293.7 138.6 295.8 142.8 297.4 146.1 300.2M153.2 323.6L153.5 318.4 154.7 313.4M146.1 300.2L148.8 303.2 151.3 306.2 152.4 310.2 154.7 313.4M248.5 327.6L246.0 328.1M248.5 327.6L249.1 326.9M249.1 326.9L248.3 322.6 249.0 318.2 249.2 313.9 248.2 309.6M246.0 328.1L242.4 326.4 238.9 324.4 235.5 322.2 232.2 320.0 228.8 317.9M228.8 317.9L230.0 314.0 232.8 311.0 235.0 307.8M248.2 309.6L243.8 309.4 239.3 309.3 235.0 307.8M216.4 246.5L218.4 241.4M216.4 246.5L211.5 248.2 207.2 251.2M218.4 241.4L215.8 238.5 212.5 236.1 209.6 233.5M207.2 251.2L203.3 250.9 199.9 248.7M199.9 248.7L199.4 246.2M199.4 246.2L202.4 243.3 204.3 239.6 207.7 237.2 209.6 233.5M115.7 205.7L119.3 206.3 123.1 205.6 126.7 207.0 130.4 206.8 134.1 206.5 137.7 207.8 141.5 207.0 145.1 207.6M133.9 245.0L130.5 243.8 127.3 242.2 125.0 239.2 121.6 238.0 118.4 236.3 115.2 234.7 113.1 231.4 109.5 230.5 107.1 227.5 104.2 225.6 100.7 224.5M133.9 245.0L137.3 246.9 141.3 246.8 144.4 249.5 148.3 250.0 151.7 251.7 155.3 253.0 159.4 252.9 162.9 254.2 166.2 256.6 170.1 256.9M170.1 256.9L173.4 254.3 177.2 252.5M177.2 252.5L174.4 250.0 172.1 247.1 170.9 243.4 168.3 240.8 167.4 236.9 163.5 235.2 162.1 231.7 160.5 228.3 158.2 225.4 156.4 222.1 154.0 219.4 152.2 216.1 150.3 213.0 147.9 210.1 145.1 207.6M172.2 163.9L175.7 166.9 179.7 169.3 183.2 172.2M183.2 172.2L180.5 174.7 178.3 177.7 175.6 180.2 172.5 182.3 170.0 184.9 167.4 187.5 165.2 190.6 161.1 191.6 159.4 195.2 156.5 197.5 154.0 200.2 151.0 202.4 148.0 204.6 145.8 207.6M145.8 207.6L145.1 207.6M196.0 252.6L195.7 257.0 197.0 261.2 197.9 265.5M196.0 252.6L191.9 252.1 188.1 254.0 184.0 254.2M184.0 254.2L184.5 258.8 185.2 263.3 185.3 267.9M197.9 265.5L193.6 265.3 189.9 268.1 185.6 268.2M203.0 268.5L206.4 266.4 210.3 265.4M203.0 268.5L197.9 265.5M207.2 251.2L207.9 255.8 210.3 259.9 210.9 264.4M199.9 248.7L196.0 252.6M210.9 264.4L210.3 265.4M171.4 267.9L176.0 266.9 180.7 267.6 185.3 267.9M171.4 267.9L170.9 264.2 170.4 260.6 170.1 256.9M181.0 252.0L177.2 252.5M181.0 252.0L184.0 254.2M203.0 268.5L202.8 272.7 201.5 276.6M201.5 276.6L197.9 278.1 194.2 279.4 190.6 280.9 186.7 281.3M186.7 281.3L186.3 277.0 185.3 272.6 185.6 268.2M210.9 284.9L206.7 283.6M210.9 284.9L212.0 288.5 210.7 292.3 211.2 295.9 212.8 299.4 212.9 303.1M206.7 283.6L203.7 285.9 201.5 289.0 198.7 291.5 195.1 292.9M195.1 292.9L197.0 296.1 198.0 299.8 201.6 301.9 202.7 305.5 204.4 308.7M204.4 308.7L209.9 307.0M212.9 303.1L209.9 307.0M210.3 265.4L211.8 269.4 215.4 272.2 216.4 276.6 218.6 280.2M218.6 280.2L215.0 283.0 210.9 284.9M201.5 276.6L203.6 280.5 206.7 283.6M188.9 289.8L188.4 285.6 186.4 281.9M188.9 289.8L195.1 292.9M186.7 281.3L186.4 281.9M227.7 297.3L230.0 298.3M227.7 297.3L223.7 297.9 220.1 299.6 216.9 302.5 212.9 303.1M228.8 317.9L224.4 319.3M224.4 319.3L221.8 316.6 218.7 314.3 215.4 312.3 212.4 310.0 209.9 307.0M235.0 307.8L233.3 304.6 231.5 301.5 230.0 298.3M202.5 329.5L206.3 329.6 210.0 331.1 213.9 329.7 217.6 331.4 221.4 330.9M202.5 329.5L204.1 333.3 203.8 337.5 205.2 341.3 206.1 345.3 206.8 349.3 207.6 353.2M221.4 330.9L224.4 334.4 226.4 338.4 228.1 342.7M210.5 354.2L207.6 353.2M210.5 354.2L213.8 353.0 217.0 351.6 220.8 352.0 224.0 350.7 227.3 349.3M227.3 349.3L228.1 342.7M193.1 321.1L196.1 324.1 199.1 327.1 202.5 329.5M193.1 321.1L195.4 317.5 197.9 314.1 200.9 311.2 204.4 308.7M224.4 319.3L222.6 323.0 222.4 327.0 221.4 330.9M200.9 354.6L207.6 353.2M193.1 321.1L191.2 321.4M191.2 321.4L187.9 323.0 186.4 326.5 183.7 328.9 180.7 330.8 177.8 332.9 175.8 335.9M246.0 328.1L243.1 330.7 240.1 333.0 237.2 335.7 234.4 338.3 230.5 339.5 228.1 342.7M213.0 381.0L213.6 377.1 212.2 373.4 211.1 369.6 212.4 365.6 211.1 361.9 211.4 358.0 210.5 354.2M233.5 355.0L230.2 352.3 227.3 349.3M248.5 327.6L251.0 331.0 251.2 335.4 254.1 338.6 253.9 343.1 256.4 346.5M242.6 354.7L245.6 352.0 249.3 350.3 252.3 347.6 256.4 346.5M296.0 340.8L292.4 339.9 289.6 337.4 285.7 337.0 282.8 334.6M296.0 340.8L297.6 339.5M289.6 321.8L290.3 321.6M289.6 321.8L287.8 325.3 285.3 328.2 282.0 330.4M282.0 330.4L282.8 334.6M297.6 339.5L297.4 335.6 299.5 332.1 300.4 328.4M290.3 321.6L294.0 323.4 296.7 326.6 300.4 328.4M277.2 350.6L272.8 350.6 268.5 351.3 264.2 351.7M277.2 350.6L279.0 346.6 280.0 342.3 279.8 337.9M279.8 337.9L275.7 338.2 271.7 337.1 267.7 337.6M267.7 337.6L264.9 340.7 263.3 344.7 260.3 347.6M260.3 347.6L264.2 351.7M282.0 330.4L279.2 327.6 275.0 326.7 272.6 323.2 269.2 321.3M282.8 334.6L279.8 337.9M265.9 323.9L269.2 321.3M265.9 323.9L265.6 328.6 266.8 333.1 267.7 337.6M249.1 326.9L253.4 326.6 257.6 325.7 261.7 324.4 265.9 323.9M256.4 346.5L260.3 347.6M264.1 358.7L263.3 355.2 264.2 351.7M264.1 358.7L261.9 362.7 259.2 366.3M259.2 366.3L254.0 368.8M264.1 358.7L267.5 360.8 269.8 364.1 272.8 366.7 276.4 368.4M277.2 350.6L279.5 353.7 283.2 355.1M283.2 355.1L281.8 358.6 279.0 361.3 277.3 364.6 276.4 368.4M296.0 340.8L295.7 344.3M295.7 344.3L294.4 348.4 291.1 351.4 289.0 355.1M283.2 355.1L289.0 355.1M309.9 356.3L306.5 354.6 303.6 352.2 301.3 349.2 298.8 346.3 295.7 344.3M296.9 363.6L295.5 363.7M289.0 355.1L291.7 357.5 293.6 360.6 295.5 363.7M296.9 382.3L300.4 380.9 304.0 379.7 307.2 377.4 311.1 376.9M296.9 382.3L293.2 378.7 290.8 374.1M311.0 375.0L311.1 376.9M295.5 363.7L294.9 367.6 292.7 370.8 290.8 374.1M348.8 387.0L350.3 391.3 353.6 394.3M348.8 387.0L348.3 383.4 349.8 380.0 349.5 376.5M365.3 377.3L364.7 381.1 363.9 384.8 364.5 388.7M365.3 377.3L363.2 374.2 360.2 372.2M353.6 394.3L356.8 391.5 360.7 390.2 364.5 388.7M360.2 372.2L356.3 372.9 352.9 374.7 349.5 376.5M303.4 251.5L299.6 251.3 296.4 253.8 292.6 253.3M303.4 251.5L305.3 255.7 308.5 259.0M295.1 269.4L293.3 268.0M295.1 269.4L298.3 267.8 301.6 266.6M308.5 259.0L304.6 262.3 301.6 266.6M293.3 268.0L293.3 264.3 292.6 260.7 292.8 257.0 292.6 253.3M377.0 193.1L373.6 195.1 369.4 194.0 365.8 195.0 362.3 196.5 358.6 197.4 354.9 198.1 351.4 199.7 347.9 201.1 344.0 201.1 340.1 201.3 336.8 203.3M377.0 193.1L374.3 195.8 372.5 199.0 371.8 202.9 369.6 205.8 367.7 209.0 365.2 211.7 362.6 214.5 361.2 217.9 359.3 221.1 357.7 224.4 356.2 227.8 354.1 230.8 351.7 233.7M336.8 203.3L335.9 207.2 336.3 211.0 337.1 214.9 337.2 218.7 338.5 222.5 339.2 226.3 339.4 230.1 338.5 234.0M338.5 234.0L342.9 232.8 347.3 233.1 351.7 233.7M338.5 234.0L336.5 235.2M336.5 235.2L333.1 233.4 329.3 233.7 325.7 233.2M327.4 216.9L329.2 213.1 331.2 209.6 333.4 206.1 336.6 203.3M327.4 216.9L327.9 220.8 326.9 224.5 325.8 228.2 324.8 231.8M325.7 233.2L324.8 231.8M347.4 307.5L350.8 310.4 353.0 314.4M347.4 307.5L349.9 303.2 353.5 299.8M353.5 299.8L357.9 302.2M353.0 314.4L358.7 314.5M357.9 302.2L357.9 306.3 359.3 310.4 358.7 314.5M309.9 171.9L309.0 172.5M305.7 147.8L302.5 150.3 298.3 150.8 295.0 153.1M309.0 172.5L304.8 174.1 300.3 174.4 296.0 175.8M295.0 153.1L295.3 156.7 294.2 160.3 295.7 164.0 294.9 167.5 293.4 171.1 294.1 174.7M296.0 175.8L294.1 174.7M260.0 230.7L262.8 226.9 266.4 224.0 269.3 220.4M260.0 230.7L263.5 232.2 266.8 234.1 269.6 236.8 272.6 239.0M277.2 224.0L276.1 227.8 275.9 231.8 273.7 235.3 272.6 239.0M277.2 224.0L274.6 221.5M274.6 221.5L269.3 220.4M248.1 653.6L245.4 656.9 242.6 660.3 239.1 662.9 236.7 666.6M248.1 653.6L250.8 653.9M250.8 653.9L250.9 657.8 253.0 661.1 253.8 664.8M239.4 669.4L236.7 666.6M239.4 669.4L243.5 668.4 247.8 668.9 251.9 667.7M251.9 667.7L253.8 664.8M236.6 644.9L239.1 647.5 242.3 649.3 245.1 651.6 248.1 653.6M231.1 664.7L236.7 666.6M266.5 642.9L263.5 645.4 259.9 646.9 257.0 649.4 253.4 651.1 250.8 653.9M265.7 666.1L261.7 666.1 257.7 666.2 253.8 664.8M240.1 675.2L239.4 669.4M254.4 679.4L254.3 675.3 252.9 671.5 251.9 667.7M220.3 583.5L217.2 579.6M220.3 583.5L224.0 583.5 227.6 582.8 231.2 582.2 234.6 580.6 238.4 581.1 241.8 579.6M217.2 579.6L219.1 576.3 220.2 572.7 221.3 569.0 222.7 565.5 224.5 562.2 226.3 558.9 228.3 555.6M241.8 579.6L244.3 575.1 247.5 571.1M230.3 555.5L233.5 557.9 236.4 560.7 240.3 562.2 243.5 564.6 247.1 566.4M230.3 555.5L228.3 555.6M247.1 566.4L247.5 571.1M220.3 600.5L219.2 596.3 220.7 592.0 220.4 587.8 220.3 583.5M204.6 576.4L208.6 578.1 213.1 578.2 217.2 579.6M243.5 601.9L243.5 598.1 243.0 594.4 243.3 590.7 242.2 587.0 242.8 583.3 241.8 579.6M217.4 550.8L220.6 553.2 224.6 554.1 228.3 555.6M268.9 585.9L265.8 583.8 263.0 581.3 259.7 579.5 257.3 576.5 254.2 574.5 250.6 573.2 247.5 571.1M241.5 532.3L239.5 535.5 239.1 539.3 235.9 541.8 234.8 545.4 234.5 549.3 232.9 552.6 230.3 555.5M251.9 562.2L247.1 566.4M236.4 762.8L236.9 760.6M236.9 760.6L236.2 757.0 233.9 754.2M233.9 754.2L230.7 752.5 227.3 751.8 223.7 751.2 220.3 750.5 217.0 749.0 214.0 747.0 210.3 746.8M210.3 746.8L206.1 747.1 202.2 749.1 197.9 749.3 193.7 749.2M242.8 776.0L242.5 776.7M242.8 776.0L240.3 773.2 240.3 769.1 238.7 765.8 236.4 762.8M242.8 776.0L246.8 775.1 249.8 772.3 253.4 770.6M250.3 757.4L245.9 758.8 241.6 760.5 236.9 760.6M253.1 762.1L253.8 766.3 253.4 770.6M239.2 746.7L236.9 750.6 233.9 754.2M225.9 738.2L222.9 740.1 219.8 742.0 216.3 742.9 213.0 744.4 210.3 746.8M221.6 717.3L219.5 720.2 216.4 722.2 215.0 725.6 212.7 728.3 209.5 730.2 208.4 733.9 206.1 736.6 202.1 737.8 200.7 741.3 198.5 744.0 195.6 746.1 193.7 749.2M242.5 776.7L243.4 780.9 246.2 784.3 247.6 788.3M247.0 794.3L247.6 788.3M267.0 770.7L261.8 770.7 256.7 772.0M267.0 770.7L269.8 774.3 271.0 778.6M256.7 772.0L256.6 776.0 258.4 779.7 259.0 783.5M271.0 778.6L268.1 783.7M268.1 783.7L262.8 785.4M262.8 785.4L259.0 783.5M253.4 770.6L256.7 772.0M247.6 788.3L251.3 786.5 254.8 784.1 259.0 783.5M272.4 790.9L269.4 787.8 268.1 783.7M283.1 779.4L284.1 781.1M283.1 779.4L279.0 779.4 275.0 779.8 271.0 778.6M260.7 798.3L261.8 794.0 263.2 789.9 262.8 785.4M430.4 503.4L430.2 507.6 428.4 511.6 428.1 515.8 427.5 520.0M430.7 503.3L434.0 505.8 437.2 508.3 441.0 509.9 444.5 512.1M427.5 520.0L431.9 521.1 436.5 519.9 441.0 521.0M441.0 521.0L443.1 516.7 444.5 512.1M424.4 522.9L427.5 520.0M425.3 500.5L430.4 503.4M448.8 530.4L446.2 527.2 443.0 524.6 441.0 521.0M456.1 518.3L453.5 513.7 452.1 508.6M452.1 508.6L447.9 509.4 444.5 512.1M451.4 485.1L454.2 489.4 457.5 493.4M451.4 485.1L447.6 486.2 443.9 487.3 440.1 488.4M440.1 488.4L438.1 492.8 437.7 497.7M437.7 497.7L441.7 499.5 446.1 500.0 449.7 503.1 454.1 503.6M457.5 493.4L456.0 497.6 456.0 502.0M454.1 503.6L456.0 502.0M431.7 473.7L431.2 477.4 432.0 481.1M431.7 473.7L435.3 471.8 438.4 469.1M432.0 481.1L434.5 483.8 437.7 485.6 440.1 488.4M451.7 483.2L451.4 485.1M432.0 481.1L428.1 483.0 425.3 486.2 422.4 489.4M430.7 503.3L433.7 499.9 437.7 497.7M452.1 508.6L454.1 503.6M470.6 514.2L469.9 510.5 467.9 507.3M467.9 507.3L463.9 505.7 459.6 504.7 456.0 502.0M473.2 471.7L475.8 468.4 476.1 464.1 478.4 460.6M473.2 471.7L477.7 472.2 482.3 472.0 486.6 473.5M486.6 473.5L488.4 468.6 490.0 463.6M490.0 463.6L487.0 461.3 483.8 459.1M483.8 459.1L478.4 460.6M468.9 474.7L465.0 472.2 460.6 471.0M468.9 474.7L473.2 471.7M464.8 454.6L467.8 457.1 471.2 458.4 474.8 459.5 478.4 460.6M484.2 443.9L480.5 442.9 477.2 440.6 473.1 441.0 469.7 439.2M484.2 443.9L484.5 447.7 483.9 451.5 484.2 455.3 483.8 459.1M584.6 309.0L585.6 313.4 587.7 317.5 588.0 322.1M606.1 319.4L603.1 321.5 600.1 323.5 596.4 324.1M588.0 322.1L592.2 322.9 596.4 324.1M633.0 323.9L629.4 326.0 625.0 326.2 621.4 328.4M633.0 323.9L635.0 327.0 635.9 330.5M635.2 333.6L635.9 330.5M635.2 333.6L631.6 335.1 627.8 335.2M627.8 335.2L625.0 331.5 621.4 328.4M623.5 344.2L625.0 339.4 627.8 335.2M621.4 328.4L617.1 331.0 614.0 334.8M623.4 344.2L620.3 341.0 616.5 338.5 614.0 334.8M633.5 320.8L629.6 316.4M633.5 320.8L638.4 319.5 643.1 317.3M629.6 316.4L632.7 312.3 633.8 307.2M643.1 317.3L641.8 313.8 641.4 309.9 640.4 306.3M633.8 307.2L637.7 305.7M637.7 305.7L640.4 306.3M621.4 328.4L619.9 324.2M627.4 316.1L629.6 316.4M633.0 323.9L633.5 320.8M646.6 327.2L643.0 328.2 639.2 328.4 635.9 330.5M646.6 327.2L648.0 323.4 647.2 319.5M647.2 319.5L643.1 317.3M623.0 302.5L627.0 303.1 630.3 305.4 633.8 307.2M644.2 304.1L647.5 307.1 651.7 308.8 655.3 311.4M644.2 304.1L640.4 306.3M647.2 319.5L651.3 317.8 655.4 316.2M655.3 311.4L655.4 316.2M634.6 296.5L636.0 301.1 637.7 305.7M648.1 297.1L647.1 301.1 644.2 304.1M607.7 320.0L609.0 324.0 608.3 328.1M596.4 324.1L597.1 328.6 599.5 332.5M599.5 332.5L603.8 330.1 608.3 328.1M614.0 334.8L613.4 334.9M608.3 328.1L610.9 331.4 613.4 334.9M599.4 333.1L599.5 332.5M599.4 333.1L602.7 336.9 606.3 340.5M613.4 334.9L610.2 337.2 607.8 340.5M606.3 340.5L607.8 340.5M616.9 348.8L611.5 348.0M607.8 340.5L608.8 344.6 611.5 348.0M617.7 360.1L618.3 359.7M607.1 358.1L608.0 352.5M611.5 348.0L608.0 352.5M606.2 370.6L605.1 375.1M605.1 375.1L600.4 378.8M599.1 361.6L601.3 362.1M599.1 361.6L597.3 365.0 593.9 367.0 592.5 370.8 589.2 372.8M600.4 378.8L597.1 378.5M597.1 378.5L593.2 375.6 589.2 372.8M605.1 375.1L607.4 378.0 610.7 379.7 613.5 382.0M613.5 382.0L611.1 386.2 608.3 390.0M600.4 378.8L600.8 382.8 602.4 386.4 604.0 390.0M608.3 390.0L604.0 390.0M646.9 399.7L644.5 403.1 643.9 407.1M646.9 399.7L643.5 396.1M643.5 396.1L639.4 396.9 635.5 398.4 631.3 398.9M643.9 407.1L639.9 407.5 636.0 408.8M636.0 408.8L633.4 404.5 630.8 400.1M630.8 400.1L631.3 398.9M633.0 416.0L633.8 417.8M633.0 416.0L633.5 411.9 636.0 408.8M633.8 417.8L637.5 417.3 640.9 419.6 644.6 419.3 648.3 419.3M648.3 419.3L648.9 418.6M648.9 418.6L646.2 415.2 646.1 410.7 643.9 407.1M633.0 416.0L628.5 413.3 623.4 411.7M630.8 400.1L628.2 403.0 624.0 403.1 621.5 406.0M623.4 411.7L621.5 406.0M326.2 710.1L329.7 707.5M326.2 710.1L322.1 709.9 318.3 708.2 314.4 707.3M324.3 695.0L325.7 698.7 328.0 701.9 329.8 705.4M324.3 695.0L320.7 697.7 316.8 699.8 313.0 702.1M329.8 705.4L329.7 707.5M313.0 702.1L314.4 707.3M341.9 714.4L338.0 711.8 334.3 708.9 329.7 707.5M324.6 722.3L326.0 718.3 326.8 714.3 326.2 710.1M311.6 713.8L313.6 710.8 314.4 707.3M327.1 686.3L325.7 690.7 324.3 695.0M345.3 693.5L342.4 696.2 338.5 697.5 335.4 699.9 333.2 703.4 329.8 705.4M305.2 696.9L308.8 700.0 313.0 702.1M303.0 717.7L303.5 717.8M283.1 779.4L283.7 774.9 285.1 770.6M301.5 776.2L298.2 774.5 296.4 771.3 294.6 768.1 291.4 766.3M285.1 770.6L288.3 768.5 291.4 766.3M267.0 770.7L270.1 766.5 271.8 761.6M285.1 770.6L282.2 767.7 278.8 765.5 274.9 764.2 271.8 761.6M266.3 758.5L271.8 761.4M304.5 733.4L300.4 731.8 295.9 733.0 291.8 731.4M304.5 733.4L303.8 737.2 304.0 741.1 302.4 744.7M302.4 744.7L298.6 744.4 295.1 742.7 291.3 742.3 287.5 742.4M291.8 731.4L288.8 734.1 287.8 737.9M287.8 737.9L287.5 742.4M290.4 721.0L290.7 724.5 291.3 727.9 291.8 731.4M308.3 730.6L304.5 733.4M304.1 747.0L302.4 744.7M274.7 728.7L278.4 730.3 281.3 733.3 284.0 736.4 287.8 737.9M188.3 456.7L185.3 454.4 183.3 451.0 180.0 449.0M188.3 456.7L185.2 460.6 181.4 463.8M181.4 463.8L177.8 461.8 173.5 461.8 170.2 458.8 166.0 458.5M180.0 449.0L175.5 450.3 171.0 450.8 166.3 450.3M166.3 450.3L166.0 454.4 166.0 458.5M180.7 473.3L175.6 474.2 170.9 476.3M180.7 473.3L181.5 468.6 181.4 463.8M165.2 459.9L166.0 458.5M163.7 446.3L166.3 450.3M182.3 441.2L181.4 445.2 180.0 449.0M190.7 480.4L192.9 483.3 196.4 484.9 198.8 487.7 201.5 490.1 203.7 493.0M190.7 480.4L189.1 483.8 187.4 487.0 185.0 489.8 182.3 492.3 180.3 495.4M182.3 500.1L186.7 501.3 191.2 501.8 195.6 503.2M182.3 500.1L180.3 495.4M195.6 503.2L198.5 499.9 200.7 496.1 203.7 493.0M178.0 494.4L180.3 495.4M180.7 473.3L183.6 476.1 188.0 476.9 190.7 480.1M173.7 518.6L176.0 515.1 178.0 511.5 179.0 507.5 180.9 503.9 182.3 500.1M200.6 514.4L199.9 510.2 196.5 507.3 195.6 503.2M215.3 497.4L210.7 495.7 207.2 492.4M207.2 492.4L203.7 493.0M729.5 278.5L729.1 282.9 728.8 287.4M759.2 275.1L755.6 276.7 752.4 279.1 749.1 281.3 745.8 283.4 742.4 285.4 738.5 286.6 735.6 289.4M735.6 289.4L731.9 289.3 728.8 287.4M712.1 291.3L705.7 290.0M712.1 291.3L714.2 287.2 715.6 282.8M705.7 290.0L702.9 286.3 701.9 281.9M715.4 282.1L709.4 279.1M715.4 282.1L715.6 282.8M709.4 279.1L705.4 279.7 701.9 281.9M708.4 268.5L709.3 272.0 708.4 275.6 709.4 279.1M720.2 274.2L718.2 278.4 715.4 282.1M728.8 287.4L727.9 287.7M727.9 287.7L723.9 285.8 719.7 284.4 715.6 282.8M698.7 281.1L701.9 281.9M689.3 296.3L691.0 291.2M689.3 296.3L688.9 300.8 690.5 305.0M691.0 291.2L695.7 292.8 700.4 294.6M690.5 305.0L694.9 305.0 699.3 304.9 703.6 304.8M700.4 294.6L702.8 298.5 704.2 302.9M703.6 304.8L704.2 302.9M677.0 298.4L681.2 298.7 685.1 296.7 689.3 296.3M677.0 298.4L675.7 294.5 675.4 290.5 675.5 286.4M705.7 290.0L702.7 291.9 700.4 294.6M713.9 296.0L712.1 291.3M713.9 296.0L710.1 297.6 707.3 300.4 704.2 302.9M715.3 345.8L713.9 341.8 710.8 339.0M710.8 339.0L706.8 337.6 703.4 335.1M703.4 335.1L699.8 336.7 696.9 339.3 694.1 342.1M716.8 353.0L713.9 352.7M694.1 342.1L693.6 343.2M713.9 352.7L710.2 351.7 706.7 350.4 703.7 348.1 700.3 346.6 697.0 344.8 693.6 343.2M722.7 329.7L718.7 326.3M710.8 339.0L712.0 335.4 711.7 331.6 713.0 328.1M713.0 328.1L718.7 326.3M733.3 320.9L730.6 317.2M730.6 317.2L726.7 318.0 722.8 318.1 718.8 317.9M718.7 326.3L718.0 322.1 718.8 317.9M681.4 326.6L680.2 322.5 679.3 318.4M681.4 326.6L686.5 328.1M686.5 328.1L689.0 323.9 691.1 319.5M691.1 319.5L687.3 319.3 683.6 319.0 680.0 317.5M680.0 317.5L679.3 318.4M673.5 320.0L679.3 318.4M669.4 327.8L672.9 331.2M673.5 331.2L672.9 331.2M673.5 331.2L677.7 329.4 681.4 326.6M686.9 329.1L686.5 328.1M686.9 329.1L686.0 333.3 683.3 336.6M683.3 336.6L680.5 334.1 676.9 332.8 673.5 331.2M689.5 306.6L684.8 308.3 679.8 308.7M689.5 306.6L691.8 310.2 691.1 314.7 693.1 318.3M679.8 308.7L681.0 313.1 680.0 317.5M693.1 318.3L691.1 319.5M669.0 312.0L666.3 308.6 662.9 306.0 659.7 303.0M669.0 312.0L672.7 309.5 675.8 306.3M674.6 302.6L675.8 306.3M674.6 302.6L670.2 301.7 666.3 299.4M666.3 299.4L662.8 300.4 659.8 302.3M659.8 302.3L659.7 303.0M668.5 313.4L669.0 312.0M655.3 311.4L657.0 307.0 659.7 303.0M659.2 318.6L655.4 316.2M679.8 308.7L675.8 306.3M689.5 306.6L690.5 305.0M677.0 298.4L674.6 302.6M667.2 289.2L666.5 294.3 666.3 299.4M653.8 296.4L656.1 300.1 659.8 302.3M491.5 147.7L491.1 148.8M544.0 301.0L540.4 302.3 537.3 304.7 533.5 305.5M533.5 305.5L532.0 302.2 531.5 298.7 531.5 295.0 530.5 291.7 528.7 288.5 528.2 285.0 526.8 281.7 526.1 278.2 524.8 274.9 525.3 271.1 523.1 268.1 522.1 264.7 521.8 261.1 520.0 258.0 518.8 254.6 518.7 251.0 518.6 247.4 516.6 244.3 515.5 240.9 514.6 237.5 514.4 233.9 512.7 230.7 512.4 227.1 511.4 223.7 509.5 220.6 509.2 217.0 509.4 213.3 507.1 210.3 507.4 206.6 504.9 203.6 504.9 199.9 503.9 196.6 503.5 193.0 501.1 190.0 500.4 186.5 500.1 182.9 500.4 179.2 498.5 176.1 498.4 172.5 496.7 169.2 496.8 165.6 493.9 162.7 494.7 158.8 492.4 155.8 491.4 152.4 491.1 148.8M590.8 340.4L589.2 343.8 588.0 347.3 586.3 350.7M590.8 340.4L594.1 344.1 598.8 345.9M598.9 346.3L596.7 349.6 596.0 353.4 595.4 357.2M586.3 350.7L590.0 356.0M590.0 356.0L595.4 357.2M606.3 340.5L602.9 343.7 598.8 345.9M608.0 352.5L604.6 350.9 601.8 348.5 598.9 346.3M599.1 361.6L595.4 357.2M583.1 361.9L584.5 365.6 585.6 369.3 585.9 373.2M583.1 361.9L586.1 358.4 590.0 356.0M589.2 372.8L585.9 373.2M261.1 387.9L264.9 386.4 268.9 385.6 272.8 384.2 276.9 384.1M261.1 387.9L259.8 386.0M259.8 386.0L261.3 382.7 264.4 380.3 266.0 377.0 267.1 373.5M267.1 373.5L272.1 373.0 276.9 371.9M276.9 384.1L279.2 379.8 279.5 374.9M276.9 371.9L279.5 374.9M260.8 396.8L261.9 392.4 261.1 387.9M282.1 392.2L278.7 388.7 276.9 384.1M249.7 379.1L253.7 380.5 256.7 383.4 259.8 386.0M259.2 366.3L261.8 368.8 263.7 372.0 267.1 373.5M276.4 368.4L276.9 371.9M296.9 382.3L296.4 385.6M290.8 374.1L287.1 375.4 283.2 374.2 279.5 374.9M306.4 396.1L310.2 394.4 313.0 391.1 316.8 389.3M311.1 376.9L314.6 380.1M316.8 389.3L316.3 384.6 314.6 380.1M314.9 409.4L316.5 408.6M331.2 426.5L332.8 423.0 331.8 418.9 333.8 415.5 334.3 411.8M316.5 408.6L320.1 409.1 323.5 410.5 327.3 409.7 330.6 411.5 334.3 411.8M316.8 389.3L321.3 390.5 324.6 393.6M316.5 408.6L317.6 404.3 320.4 401.0 322.3 397.2 324.6 393.6M287.5 459.9L293.9 457.6M287.5 459.9L286.5 464.2 285.8 468.6 284.0 472.7M293.9 457.6L295.7 461.5 299.3 463.8 301.8 467.2M301.8 467.2L299.0 470.4 296.5 473.9 292.9 476.4 290.8 480.2M284.0 472.7L288.0 475.9 290.8 480.2M277.1 451.7L279.9 455.2 284.4 456.6 287.5 459.9M302.6 446.1L299.7 448.5 298.4 451.9 295.9 454.6 293.9 457.6M268.8 473.8L272.6 472.9 276.5 474.0 280.2 472.3 284.0 472.7M313.0 468.8L309.3 467.6 305.6 467.4 301.8 467.2M294.2 488.8L293.3 484.1 290.8 480.2M431.5 417.2L427.2 416.0 422.8 416.3 418.4 417.6 414.1 416.7M431.5 417.2L430.4 421.1 430.8 425.2M430.8 425.2L428.2 429.0 423.9 431.0 421.2 434.7M421.2 434.7L418.2 432.1 414.0 432.1 411.0 429.6M414.1 416.7L413.4 420.9 410.7 424.3M410.7 424.3L411.0 429.6M432.4 415.3L431.5 417.2M432.4 415.3L431.4 411.2 428.8 407.7 427.5 403.7M411.3 408.4L414.7 405.2 418.0 401.9 420.5 398.0M411.3 408.4L411.8 412.9 414.1 416.7M427.5 403.7L424.0 400.8 420.5 398.0M432.4 415.3L436.6 415.3 440.6 414.7 444.6 413.6 448.5 412.2M438.3 430.1L434.4 427.9 430.8 425.2M422.4 442.5L422.7 438.4 421.2 434.7M422.4 442.5L426.1 443.6 429.4 446.0 433.3 446.4M407.1 380.8L403.5 377.3 400.4 373.4M407.1 380.8L405.9 385.8 404.6 390.9M400.4 373.4L397.3 376.5 393.6 378.5 389.4 379.8M389.4 379.8L390.8 384.2 393.9 387.5 396.0 391.4M396.0 391.4L400.3 391.6 404.6 390.9M407.1 380.8L410.7 380.3 414.3 380.6 417.9 379.7M420.5 398.0L421.8 394.4 423.0 390.8M420.5 398.0L416.7 397.4 413.4 395.7 410.1 393.7 406.5 392.7M417.9 379.7L420.3 383.0 420.3 387.5 423.0 390.8M404.6 390.9L406.5 392.7M353.6 394.6L356.3 397.3 357.2 401.1 358.5 404.7 360.7 407.8 363.0 410.7M353.6 394.6L350.8 397.5 347.6 399.8 343.6 401.0 340.7 403.8 337.3 405.9M337.3 405.9L337.2 407.9M337.2 407.9L341.1 408.8 344.5 410.6 347.4 413.5 351.5 413.9 354.7 416.2 357.9 418.4M363.0 410.7L361.6 416.6M361.6 416.6L357.9 418.4M348.8 387.0L344.7 386.4 340.8 388.4 336.6 387.5 332.6 388.7M332.6 388.7L329.2 393.6M329.2 393.6L332.1 396.1 333.8 399.4 336.2 402.2 337.3 405.9M324.6 393.6L329.2 393.6M334.3 411.8L337.2 407.9M351.7 427.8L354.2 425.0 356.0 421.6 357.9 418.4M374.4 436.7L373.8 433.0 372.8 429.4 371.4 425.9 369.8 422.5M369.8 422.5L365.2 420.2 361.6 416.6M403.0 463.3L404.8 459.8 405.8 455.9 409.2 453.3 410.5 449.5M403.0 463.3L404.7 465.0M404.7 465.0L409.1 465.9 413.4 467.3 417.7 468.6M420.4 460.7L420.4 456.6 419.7 452.6 417.7 448.9M420.4 460.7L419.4 464.3 418.9 468.0M418.9 468.0L417.7 468.6M417.7 448.9L414.1 449.5 410.5 449.5M396.4 442.4L399.5 444.9 403.1 446.7 407.2 447.1 410.5 449.5M394.6 460.7L398.9 461.9 403.0 463.3M400.0 478.7L402.1 475.6 403.4 472.2 404.4 468.7 404.7 465.0M412.8 480.8L414.4 476.7 415.4 472.4 417.7 468.6M438.8 455.3L434.9 455.5 431.7 458.1 427.7 458.3 424.2 459.9 420.4 460.7M422.4 442.5L419.4 445.2 417.7 448.9M431.7 473.7L427.3 472.0 423.0 470.1 418.9 468.0M395.3 436.1L399.6 435.2 403.4 433.3 407.5 432.3 411.0 429.6M583.1 361.9L580.1 360.8M585.9 373.2L584.7 374.1M584.7 374.1L581.0 373.3 577.6 371.6 574.8 368.8 571.3 367.5M580.1 360.8L577.2 363.0 573.7 364.5 571.3 367.5M440.2 389.9L439.1 394.2 437.7 398.4M440.2 389.9L445.3 388.8M445.3 388.8L447.5 392.0 447.8 395.8 449.6 399.1 449.6 403.0 451.5 406.3M437.7 398.4L440.8 401.0 444.2 403.1 448.5 403.6 451.5 406.3M427.5 403.7L431.0 402.1 434.0 399.5 437.7 398.4M423.0 390.8L426.6 390.2 428.9 386.9 432.4 386.1M432.4 386.1L436.2 388.3 440.2 389.9M460.1 387.5L459.4 391.3 460.3 395.1 459.3 398.9 460.1 402.7 459.1 406.5M460.1 387.5L456.2 384.7M452.6 407.8L451.5 406.3M456.2 384.7L452.0 386.6 447.4 386.4M447.4 386.4L445.3 388.8M158.2 290.7L161.9 291.6 165.5 292.6 168.6 294.8M158.2 290.7L156.8 286.5 155.7 282.2M168.6 294.8L170.1 290.7 171.8 286.7 172.0 282.3M172.0 282.3L168.6 279.0 166.2 275.0M155.7 282.2L158.2 279.7 161.1 277.6 163.3 274.8M163.3 274.8L166.2 275.0M129.3 282.1L133.1 281.7 136.9 281.7 140.6 281.9 144.4 282.9 148.2 281.9 151.9 282.8 155.7 282.2M146.1 300.2L148.7 297.2 151.9 295.1 154.9 292.7 158.2 290.7M171.4 267.9L169.3 271.8 166.2 275.0M186.4 281.9L182.8 282.7 179.2 282.3 175.6 281.4 172.0 282.3M133.9 245.0L136.3 248.0 138.5 251.2 142.2 252.8 144.9 255.5 147.7 258.1 150.0 261.3 153.3 263.4 154.8 267.2 158.1 269.3 161.4 271.4 163.3 274.8M168.4 303.3L169.1 296.3M168.4 303.3L172.1 305.3 175.9 307.1 179.9 308.6 183.3 311.2M169.1 296.3L173.1 295.2 177.4 295.4 181.6 295.5 185.5 293.7M183.3 311.2L184.0 307.8 183.6 304.2 183.6 300.6 184.7 297.2 185.5 293.7M154.7 313.4L157.8 310.4 161.5 308.2 164.9 305.7 168.4 303.3M168.6 294.8L169.1 296.3M191.2 321.4L188.2 318.3 185.3 315.1 183.3 311.2M188.9 289.8L185.5 293.7M197.6 227.4L195.3 230.9 193.9 234.8 193.6 239.1M197.6 227.4L194.6 225.4 191.6 223.5 188.1 222.8 185.1 221.0 181.6 220.2 178.6 218.2 175.6 216.4 172.1 215.6M193.6 239.1L188.6 238.7 183.6 239.4M183.6 239.4L181.9 236.2 179.4 233.7 176.7 231.3 175.3 227.9 173.3 225.1 169.9 223.2 167.6 220.6 165.1 218.1 163.8 214.6M172.1 215.6L167.9 215.7 163.8 214.6M199.4 246.2L195.9 243.1 193.6 239.1M200.7 226.5L205.3 228.6 209.1 232.0M200.7 226.5L197.6 227.4M209.6 233.5L209.1 232.0M181.0 252.0L181.1 247.7 182.3 243.5 183.6 239.4M148.5 208.0L152.7 208.9 155.8 212.3 160.4 212.0 163.8 214.6M148.5 208.0L145.8 207.6M314.8 349.2L316.6 345.6 320.8 344.1 322.7 340.5M314.8 349.2L312.2 346.4 310.5 342.9 307.6 340.3M307.6 340.3L309.9 337.3 311.9 334.1 315.2 332.2M322.7 340.5L321.1 337.0 321.6 333.1M315.2 332.2L319.7 331.8M321.6 333.1L319.7 331.8M314.1 356.2L315.4 352.8 314.8 349.2M297.6 339.5L302.7 338.9 307.6 340.3M300.4 328.4L304.9 325.5M304.9 325.5L308.4 327.6 312.1 329.5 315.2 332.2M307.5 316.3L305.8 320.8 304.9 325.5M307.5 316.3L311.4 316.8 315.2 318.6 319.2 318.7M319.2 318.7L320.1 323.0 319.5 327.4 319.7 331.8M319.2 318.7L324.4 314.7M324.4 314.7L327.6 316.9 331.5 317.1 335.2 318.2M339.4 327.0L338.2 322.2 335.2 318.2M339.4 327.0L336.1 329.2 332.0 328.6 328.8 330.9 324.8 330.8 321.6 333.1M307.5 316.3L304.8 311.1M297.1 309.7L301.9 309.0M297.1 309.7L294.5 313.5 293.1 318.0 290.3 321.6M304.8 311.1L301.9 309.0M347.4 307.5L343.7 306.6 340.0 307.0M340.0 307.0L339.1 311.1 336.7 314.5 335.2 318.2M353.0 314.4L350.3 316.7 348.9 320.3 346.7 323.2 343.0 324.7 341.3 327.9M339.4 327.0L341.0 328.0M322.1 187.2L322.0 189.8M309.0 172.5L309.8 176.5 308.6 180.4 309.3 184.4 309.3 188.3M309.3 188.3L313.6 188.1 317.7 190.2 322.0 189.8M445.2 155.1L442.2 157.0 439.2 159.0 435.4 159.4 432.2 161.0 429.9 164.0 426.0 164.5 423.9 167.9 420.0 168.3 417.2 170.4 414.5 172.9 411.2 174.3 408.2 176.2 404.7 177.2 401.9 179.4 398.7 181.1 395.4 182.4 392.6 184.8 389.8 187.0 386.3 187.9 382.8 188.9 380.4 191.9 377.0 193.1M336.6 203.3L333.0 202.4 329.9 200.4M322.0 189.8L323.9 193.9 327.9 196.4 329.9 200.4M227.7 297.3L228.2 293.1 226.2 289.2 226.1 285.0M218.6 280.2L220.0 280.2M226.1 285.0L222.6 283.1 220.0 280.2M293.3 268.0L289.0 267.6 284.7 267.4 280.4 268.5M292.6 253.3L289.7 251.2M289.7 251.2L283.6 252.5M283.6 252.5L282.2 256.0 281.1 259.7 279.9 263.3 277.6 266.5M280.4 268.5L277.6 266.5M289.6 321.8L286.1 320.1 284.4 316.4 281.7 313.8 278.5 311.6M287.5 304.6L290.9 306.0 293.9 308.0 297.1 309.7M287.5 304.6L284.0 304.4M284.0 304.4L280.7 307.6 278.5 311.6M269.2 321.3L270.6 315.3M270.6 315.3L274.7 313.9 278.5 311.6M436.1 241.2L432.5 240.9 429.0 240.6 425.5 242.3 421.9 240.8 418.5 241.7 415.0 242.6 411.4 242.0 407.9 243.0 404.4 242.9 400.9 242.2 397.3 242.4 393.8 243.0 390.3 242.7 386.8 242.7 383.3 244.0 379.8 244.9 376.2 243.1 372.8 245.3 369.2 244.6 365.8 245.5 362.2 244.7 358.6 244.3 355.2 245.1M436.1 241.2L437.8 237.8 441.1 236.0 443.4 233.2 446.4 231.1 449.3 228.8 451.4 225.9 452.9 222.3 455.9 220.2 458.6 217.7 460.6 214.7 464.2 213.2 465.9 209.8 468.6 207.4M351.7 233.7L353.1 238.5 353.9 243.4M491.1 148.8L490.4 152.5 488.4 155.7 486.5 158.9 486.7 162.9 484.5 166.1 483.6 169.7 482.8 173.3 480.8 176.5 478.9 179.7 477.7 183.2 475.5 186.3 474.8 190.0 473.0 193.3 472.1 196.9 470.9 200.4 469.1 203.6 468.6 207.4M355.2 245.1L353.9 243.4M336.5 235.2L335.7 238.7 336.1 242.2 337.1 245.7 336.8 249.3M353.9 243.4L350.6 245.0 346.8 244.9 344.0 247.9 340.3 248.3 336.8 249.3M327.4 216.9L323.3 217.0 319.6 219.1 315.5 219.5 311.5 220.4M319.1 203.9L322.6 202.4 326.4 201.9 329.9 200.4M319.1 203.9L315.8 205.7 314.2 209.4 310.9 211.2 308.0 213.4M311.5 220.4L310.5 216.5 308.0 213.4M200.7 226.5L201.8 223.1 204.2 220.3 204.4 216.6M172.1 215.6L175.8 214.3 179.6 213.9 183.2 212.4 187.4 213.1 190.9 211.3 194.9 211.3 198.5 209.7M198.5 209.7L201.1 213.4 204.4 216.6M178.6 81.6L182.3 83.3 185.0 86.5 189.4 87.1 191.8 90.9 195.8 92.2M240.3 68.8L236.9 70.6 234.7 73.8 231.3 75.4 228.7 78.1 225.6 80.1 222.0 81.5 219.7 84.6 216.6 86.7 214.4 89.9 211.4 92.1 207.8 93.6M195.8 92.2L199.8 92.6 203.8 92.9 207.8 93.6M193.0 190.7L196.3 192.5M193.0 190.7L189.2 191.1 186.1 193.2 182.4 193.8 179.3 195.8 175.5 196.4 172.6 199.0 169.4 201.0 165.4 200.8 162.1 202.3 159.0 204.6 155.6 205.9 152.0 206.7 148.5 208.0M198.5 209.7L200.7 206.0 201.2 201.6M196.3 192.5L198.4 197.2 201.2 201.6M292.8 198.3L296.5 198.7 300.2 199.5 303.9 199.8M292.8 198.3L291.8 193.7M291.8 193.7L295.4 190.0 299.4 186.8M303.9 199.8L305.2 198.8M305.2 198.8L305.4 194.1 306.2 189.4M299.4 186.8L303.1 187.4 306.2 189.4M286.8 176.3L290.5 175.9 294.1 174.7M286.8 176.3L285.9 180.2 283.1 183.1M296.0 175.8L297.1 179.5 299.2 182.8 299.4 186.8M283.5 189.7L283.1 183.1M283.5 189.7L288.0 191.0 291.8 193.7M309.3 188.3L306.2 189.4M319.1 203.9L315.8 202.1 312.4 200.6 308.6 200.0 305.2 198.8M467.9 507.3L471.2 505.1 473.4 501.8 475.6 498.6M457.5 493.4L462.1 492.0 466.5 490.5M475.6 498.6L472.7 495.7 468.8 494.0 466.5 490.5M468.9 474.7L471.1 477.9 471.6 481.7M471.6 481.7L468.5 485.8 466.5 490.5M659.3 383.0L655.6 381.5 652.6 378.5 648.5 377.7M659.3 383.0L663.7 380.9M663.7 380.9L661.7 375.0M661.7 375.0L657.2 374.5 652.7 373.4 648.4 371.9M648.5 377.7L648.4 371.9M657.0 390.1L657.5 386.3 659.3 383.0M657.0 390.1L653.9 387.3 649.9 386.0 646.3 384.1M646.3 384.1L648.5 377.7M590.1 338.7L585.0 339.6 579.8 339.3M590.2 338.6L588.4 335.4 588.7 331.6 586.5 328.5 586.8 324.7M579.8 339.3L579.2 334.2 577.0 329.5M577.0 329.5L579.9 327.2 583.8 326.9 586.8 324.7M599.4 333.1L595.9 334.2 593.5 337.2 590.2 338.6M590.8 340.4L590.1 338.7M588.0 322.1L586.8 324.7M563.9 320.4L566.5 325.9M566.5 325.9L568.0 327.0M568.0 327.0L572.4 328.5 577.0 329.5M643.4 387.0L637.9 385.5M643.4 387.0L646.3 384.1M648.4 371.9L644.5 373.1 641.0 375.1 637.3 376.7 633.4 378.1M637.9 385.5L636.4 381.3 633.4 378.1M643.5 396.1L642.9 391.5 643.4 387.0M631.3 398.9L629.7 394.6 627.8 390.5M637.9 385.5L635.0 388.2 631.1 388.7 627.8 390.5M621.5 406.0L619.6 405.2M615.9 395.6L616.7 400.8 619.6 405.2M615.9 395.6L618.6 393.1 622.0 391.3 624.5 388.4M624.5 388.4L627.8 390.5M593.5 477.6L595.4 473.7 597.8 470.1 600.1 466.5 602.5 462.9M575.6 446.9L579.4 446.3 582.3 443.6 585.5 441.6 589.4 441.2 592.9 439.9 596.4 438.5 599.7 436.8M599.7 436.8L601.6 438.8M602.5 462.9L602.3 458.9 601.8 454.9 602.6 450.8 601.4 446.9 601.2 442.8 601.6 438.8M630.6 459.6L626.8 457.4 623.4 454.8 620.8 451.2M620.8 451.2L617.2 453.8 612.9 454.7 609.2 457.0M602.5 462.9L605.7 459.8 609.2 457.0M636.8 449.1L632.8 447.9 628.9 446.5M620.8 451.2L621.7 449.1M628.9 446.5L625.5 448.4 621.7 449.1M294.9 759.5L292.8 756.6 292.0 752.9 290.8 749.5 287.5 747.1 286.6 743.6M294.9 759.5L292.8 761.9M292.8 761.9L289.8 760.1 286.8 758.0 283.2 757.4 280.3 755.2 276.7 754.5M286.6 743.6L283.7 745.7 280.2 746.5M280.2 746.5L277.6 750.2M277.6 750.2L276.7 754.5M301.9 757.6L298.2 757.9 294.9 759.5M287.5 742.4L286.6 743.6M291.4 766.3L292.8 761.9M271.8 761.4L273.5 757.5 276.7 754.5M268.7 734.3L272.0 736.9 275.1 739.8 278.1 742.7 280.2 746.5M260.6 744.4L263.8 746.1 267.5 746.4 270.9 747.6 274.0 749.5 277.6 750.2M190.7 480.1L193.4 476.7 196.9 474.0M207.2 492.4L209.5 488.2 209.5 483.3 211.7 479.2M211.7 479.2L207.7 475.1M196.9 474.0L200.4 475.4 204.0 475.5 207.7 475.1M188.3 456.7L192.1 456.5 196.0 456.3M196.9 474.0L197.7 470.4 197.3 466.8 197.4 463.3 195.7 459.8 196.0 456.3M190.4 437.9L192.7 440.7 195.1 443.4 197.0 446.4 198.9 449.4 201.2 452.2M196.0 456.3L201.2 452.2M212.3 431.2L211.0 435.0 211.8 438.9 210.9 442.7 211.1 446.6 210.2 450.4M201.2 452.2L205.7 451.2 210.2 450.4M229.9 477.3L229.3 477.1M229.9 477.3L231.6 476.5M229.3 477.1L226.2 474.9 224.8 471.4 222.6 468.4 220.3 465.6 218.5 462.4 215.6 460.0 213.3 457.2M231.6 476.5L232.0 472.6 234.4 469.2 234.0 465.1 234.4 461.2 236.0 457.6M236.0 457.6L233.1 455.2 230.5 452.6 227.4 450.6M227.4 450.6L223.5 451.4 219.7 451.8 215.8 452.4 211.9 451.7M211.9 451.7L213.3 457.2M228.2 489.6L228.9 485.5 229.0 481.4 229.9 477.3M211.7 479.2L215.3 479.4 218.6 477.6 222.3 478.2 225.6 476.7 229.3 477.1M250.3 479.0L246.4 479.2 242.7 478.9 239.1 477.2 235.4 476.5 231.6 476.5M207.7 475.1L208.7 471.4 210.6 468.1 211.7 464.6 213.0 461.0 213.3 457.2M245.3 454.9L240.5 455.9 236.0 457.6M235.1 435.6L233.3 439.4 231.4 443.2 228.7 446.6 227.4 450.6M210.2 450.4L211.9 451.7M727.9 287.7L725.4 292.4M714.0 296.1L717.7 294.4 721.4 293.1 725.4 292.4M748.6 308.5L745.3 305.7 741.0 304.9M746.7 297.0L741.3 299.8M741.0 304.9L741.3 299.8M742.1 319.5L742.0 315.0 740.2 310.9 738.8 306.7M741.0 304.9L738.8 306.7M735.6 289.4L737.1 295.3M741.3 299.8L737.1 295.3M666.8 368.9L671.0 368.4M666.8 368.9L663.7 371.5 661.7 375.0M671.0 368.4L672.4 370.4M663.7 380.9L669.2 383.5M672.4 370.4L672.3 375.0 669.6 379.0 669.2 383.5M657.0 390.1L658.8 394.3M658.8 394.3L662.3 393.4 665.5 391.7 669.1 391.2M669.1 391.2L670.0 384.6M670.0 384.6L669.2 383.5M646.6 327.2L649.9 331.0 652.4 335.4M662.6 326.8L659.6 329.9 657.3 333.5M652.4 335.4L657.3 333.5M709.1 318.9L706.0 324.6M709.1 318.9L707.1 314.5 703.6 311.2M703.6 311.2L700.6 313.4 699.1 317.2 695.8 319.1M695.8 319.1L698.4 322.6 701.2 325.9M706.0 324.6L701.5 326.0M713.0 328.1L709.3 326.7 706.0 324.6M718.8 317.9L717.1 315.9M717.1 315.9L713.3 318.0 709.1 318.9M716.6 310.3L717.1 315.9M716.6 310.3L712.3 310.2 708.7 308.0 704.7 307.1M704.7 307.1L703.6 311.2M704.7 307.1L703.6 304.8M693.1 318.3L695.8 319.1M692.6 332.0L686.9 329.1M692.6 332.0L695.2 329.5 698.1 327.6 701.2 325.9M703.4 335.1L702.4 330.5 701.5 326.0M694.1 342.1L694.3 336.9 692.6 332.0M661.4 428.3L660.2 424.2 660.0 420.0M674.4 429.8L672.2 426.1 669.9 422.4 667.2 418.9M667.2 418.9L663.5 418.9 660.0 420.0M647.9 426.8L648.9 423.1 648.3 419.3M648.9 418.6L654.4 416.4M660.0 420.0L654.4 416.4M709.4 407.1L705.7 407.0 702.4 404.8 698.5 405.8 695.1 404.1 691.6 402.7 688.2 401.6 684.3 402.1 680.8 400.9M709.4 407.1L706.7 404.2 703.7 401.6 699.8 400.2 697.9 396.3 694.5 394.2M694.5 394.2L690.3 392.3 685.5 392.7 681.3 390.8M681.3 390.8L677.1 395.5M677.1 395.5L680.8 400.9M669.1 391.2L671.4 393.8M681.3 390.8L680.9 386.4 681.3 382.0M670.0 384.6L673.7 383.6 677.8 383.8 681.3 382.0M677.1 395.5L671.4 393.8M364.5 388.7L367.3 391.1 370.9 391.6M363.0 410.7L365.6 408.0 368.9 406.3 372.1 404.4M370.9 391.6L372.2 395.8 372.7 400.0 372.1 404.4M365.3 377.3L369.3 376.4 373.5 377.9 377.5 377.6 381.5 376.5M381.5 376.5L383.3 378.8M383.3 378.8L382.0 383.5 379.4 387.7M370.9 391.6L375.3 389.9 379.4 387.7M400.4 373.4L400.7 372.2M417.9 379.7L419.8 375.2 421.1 370.6M421.1 370.6L418.3 367.8 415.6 364.7M400.7 372.2L404.8 371.1 407.7 367.7 411.6 366.2 415.6 364.7M431.6 357.4L430.1 361.1 426.4 363.4 424.4 366.8 422.8 370.4M431.6 357.4L434.2 359.7 437.3 361.6 438.7 365.3 441.8 367.2M422.8 370.4L426.6 372.2 430.6 373.5 434.9 373.7M434.9 373.7L440.2 371.2M440.2 371.2L441.9 368.9M441.8 367.2L441.9 368.9M432.4 386.1L434.3 382.2 434.5 377.9 434.9 373.7M421.1 370.6L422.8 370.4M447.4 386.4L445.6 382.6 444.5 378.5 441.3 375.3 440.2 371.2M371.8 309.1L367.4 310.4 363.9 313.4 359.7 315.0M371.8 309.1L374.6 313.2 377.2 317.5M377.2 317.5L375.4 320.8 375.2 324.6M359.7 315.0L361.8 318.9 362.1 323.2 362.7 327.4M375.2 324.6L370.7 326.4 367.0 329.4M367.0 329.4L362.7 327.4M357.9 302.2L361.7 301.3 365.7 301.7 369.4 300.5 373.2 299.3M373.2 299.3L373.1 304.3 371.8 309.1M358.7 314.5L359.7 315.0M386.4 276.5L384.5 279.7 382.9 283.2 380.4 286.1 378.4 289.3 376.9 292.8 375.9 296.6 373.2 299.3M386.4 276.5L385.9 280.0 387.9 283.3 387.3 287.0 387.3 290.5 388.5 293.9 389.9 297.3 389.1 300.9 390.6 304.2 390.8 307.7 391.2 311.2 390.9 314.8M390.9 314.8L386.5 316.5 381.7 316.5 377.2 317.5M358.3 328.9L354.0 328.0 349.8 328.5 345.6 327.1 341.3 327.9M358.3 328.9L362.7 327.4M392.3 397.8L395.9 400.1 398.4 403.5 401.0 406.8M392.3 397.8L389.1 399.3 385.6 400.1M382.6 404.7L385.6 400.1M382.6 404.7L384.3 408.8 385.7 412.9 387.8 416.8M387.8 416.8L390.4 418.4M390.4 418.4L393.9 415.8 397.9 414.1M397.9 414.1L401.7 408.6M401.7 408.6L401.0 406.8M396.0 391.4L394.3 394.7 392.3 397.8M406.5 392.7L405.4 396.3 404.1 399.8 403.3 403.6 401.0 406.8M389.4 379.8L383.3 378.8M379.4 387.7L381.0 392.1 384.5 395.5 385.6 400.1M372.1 404.4L375.6 404.3 379.1 404.0 382.6 404.7M369.8 422.5L373.3 421.2 377.1 420.7 380.8 419.7 384.4 418.8 387.8 416.8M393.1 434.3L392.7 430.3 391.3 426.4 390.0 422.6 390.4 418.4M410.7 424.3L407.0 422.4 404.8 418.5 400.9 416.9 397.9 414.1M411.3 408.4L406.5 408.8 401.7 408.6M456.2 384.7L455.9 380.3 456.3 375.8M441.9 368.9L445.7 369.3 449.4 369.8 453.0 371.2M456.3 375.8L453.0 371.2M469.8 428.3L474.4 425.8 479.4 424.2M484.2 443.9L486.2 443.0M486.2 443.0L487.3 438.8 488.4 434.6 489.7 430.5M479.4 424.2L483.3 425.4 486.7 427.6 489.7 430.5M535.1 461.0L534.1 459.0M515.5 476.0L513.2 472.6M513.2 472.6L512.3 468.5 513.4 464.3 513.6 460.2M513.6 460.2L517.7 460.3 521.8 460.6 525.9 459.3 530.0 459.5 534.1 459.0M549.2 449.6L545.4 450.0 542.0 451.6 538.4 452.7 534.8 453.8M546.1 435.7L542.7 437.0 539.0 436.4 535.5 436.8 532.1 437.9M532.1 437.9L530.9 439.2M530.9 439.2L532.3 442.7 532.5 446.6 534.5 450.0 534.8 453.8M534.8 453.8L534.1 459.0M566.5 325.9L565.5 329.7 563.2 332.9 561.0 336.1 559.3 339.5M568.0 327.0L569.2 331.2 570.6 335.4 570.0 340.0 572.1 344.0M559.3 339.5L563.4 341.5 568.0 342.0 572.1 344.0M579.8 339.3L577.5 343.1 573.7 345.6M572.1 344.0L573.7 345.6M586.3 350.7L582.2 349.8 578.1 348.9 573.8 349.5M573.7 345.6L573.8 349.5M580.1 360.8L578.3 357.0 576.0 353.5 573.4 350.2M573.8 349.5L573.4 350.2M533.5 305.5L533.0 306.5M468.6 207.4L468.8 208.6M468.8 208.6L469.6 212.3 471.8 215.2 474.6 217.7 475.6 221.3 477.4 224.4 478.7 227.7 481.3 230.4 482.0 234.1 483.5 237.3 486.1 240.0 487.0 243.6 489.3 246.4 490.3 250.0 492.4 252.9 493.1 256.6 495.8 259.2 498.3 261.9 499.9 265.1 500.3 269.0 503.2 271.5 503.5 275.4 505.8 278.2 507.7 281.2 509.3 284.5 510.1 288.1 512.4 290.9 514.3 294.0 515.9 297.2 517.3 300.5 519.3 303.5 520.9 306.7M520.9 306.7L524.9 307.1 529.0 306.3 533.0 306.5M542.8 317.1L538.3 319.6M538.3 319.6L536.4 317.9M533.0 306.5L534.6 310.1 536.1 313.8 536.4 317.9M468.8 208.6L469.2 212.3 470.2 215.9 470.4 219.5 470.8 223.1 470.7 226.8 469.7 230.5 470.9 234.1 471.8 237.7 471.6 241.3 471.9 245.0 473.2 248.5 471.7 252.3 472.7 255.9 471.9 259.6 473.0 263.2 474.2 266.7 472.8 270.5 475.1 274.0 474.5 277.7M474.5 277.7L476.4 280.9 477.5 284.4 478.5 287.9 479.6 291.4 479.0 295.4 481.8 298.4 482.1 302.1 483.9 305.3 484.2 309.1M484.2 309.1L488.3 312.0M520.9 306.7L520.0 310.9 518.3 314.9M488.3 312.0L492.2 311.4 495.9 312.4 499.6 312.6 503.3 314.0 506.9 314.9 510.9 313.4 514.5 314.4 518.3 314.9M536.4 317.9L532.3 317.7 528.2 316.9 524.2 319.1 520.1 318.2M518.3 314.9L520.1 318.2M320.3 303.5L317.0 300.9 313.2 299.1 309.8 296.6M320.3 303.5L316.4 305.4 312.4 306.9 308.5 308.8 304.8 311.1M301.9 309.0L302.5 304.3 303.6 299.7M303.6 299.7L309.8 296.6M287.5 304.6L290.4 301.4 292.3 297.5 294.0 293.5 296.9 290.3M303.6 299.7L300.8 297.0 298.5 293.8 296.9 290.3M284.9 286.2L282.7 289.5 281.0 293.1 280.1 297.1M284.9 286.2L288.4 285.0 292.1 285.5 295.7 284.9M284.0 304.4L281.2 301.2 280.1 297.1M296.9 290.3L295.7 284.9M295.1 269.4L296.9 273.6 296.4 278.2 297.6 282.5M284.9 286.2L280.9 282.7M280.9 282.7L280.9 279.2 280.5 275.6 280.4 272.0 280.4 268.5M295.7 284.9L297.6 282.5M303.4 251.5L305.1 246.8 307.0 242.3M308.5 259.0L314.0 260.1M307.0 242.3L311.6 243.1 316.2 243.9 320.6 245.5M320.6 245.5L321.1 246.7M314.0 260.1L316.7 257.2 316.7 252.9 319.5 250.1 321.1 246.7M326.1 291.4L330.6 292.7 334.6 295.0 338.7 297.3M326.1 291.4L325.7 295.8 324.1 299.7 322.0 303.5M322.2 303.7L326.4 304.4 330.8 303.5 334.9 304.8 339.2 305.4M339.2 305.4L339.2 301.3 338.7 297.3M340.0 307.0L339.2 305.4M324.4 314.7L323.8 311.0 322.0 307.6 322.2 303.7M320.3 303.5L322.0 303.5M309.8 296.6L311.2 292.8 312.7 288.9 314.6 285.4M326.1 291.4L325.8 290.7M325.8 290.7L322.4 288.3 318.7 286.4 314.6 285.4M297.6 282.5L301.2 282.6 304.9 282.9 308.6 281.9 312.2 281.9M312.2 281.9L314.6 285.4M301.6 266.6L304.3 269.7 307.9 271.4 310.9 274.0 314.7 275.4M312.2 281.9L314.7 275.4M314.0 260.1L315.2 261.6M315.2 261.6L316.3 265.5 315.5 269.5 316.3 273.4M314.7 275.4L316.3 273.4M325.8 290.7L328.7 287.3 331.4 283.7 333.6 279.8M316.3 273.4L320.0 274.1 323.5 272.4 327.1 272.8M327.1 272.8L331.0 275.7 333.6 279.8M317.5 359.6L324.2 360.5M314.6 380.1L318.7 378.7 322.5 376.4 326.9 375.4M324.2 360.5L323.8 364.4 324.6 368.1 326.2 371.6 326.9 375.4M332.6 388.7L333.2 383.4 332.3 378.2M332.3 378.2L326.9 375.4M349.5 376.5L345.9 373.6 342.0 371.2M332.3 378.2L336.1 376.7 338.8 373.7 342.0 371.2M236.7 270.0L232.0 269.7 227.7 268.1M236.7 270.0L239.5 266.5 239.7 261.8 242.0 258.0M242.0 258.0L238.6 255.3 236.6 251.4M227.7 268.1L225.9 264.3 223.1 261.2M234.9 251.2L236.6 251.4M234.9 251.2L231.2 253.1 227.3 254.9 224.1 257.9M224.1 257.9L223.1 261.2M210.9 264.4L214.8 262.7 219.3 263.2 223.1 261.2M220.0 280.2L222.5 277.6 224.1 274.4 224.8 270.6 227.7 268.1M216.4 246.5L218.5 250.7 221.8 253.9 224.1 257.9M218.4 241.4L221.1 240.4M221.1 240.4L226.9 240.4M226.9 240.4L230.2 243.5 232.6 247.4 234.9 251.2M255.2 236.2L256.8 240.7 260.5 243.9 262.5 248.0M255.2 236.2L255.6 231.7M260.0 230.7L255.6 231.7M272.6 239.0L273.3 240.9M273.3 240.9L272.3 244.8M272.3 244.8L267.4 246.5 262.5 248.0M283.6 252.5L280.8 249.9 277.4 248.5 273.9 247.1M277.0 266.4L277.6 266.5M277.0 266.4L273.9 263.2 271.3 259.5M273.9 247.1L273.4 251.3 272.1 255.3 271.3 259.5M242.1 243.9L239.3 247.6 236.6 251.4M242.1 243.9L248.6 243.8M248.6 243.8L250.3 247.7 252.5 251.1 254.8 254.5M242.0 258.0L246.5 257.5 251.0 258.5M251.0 258.5L254.8 254.5M272.3 244.8L273.9 247.1M271.3 259.5L267.8 258.1 264.1 258.5M262.5 248.0L259.0 253.2M264.1 258.5L262.0 255.4 259.0 253.2M255.2 236.2L251.9 240.0 248.6 243.8M254.8 254.5L259.0 253.2M280.9 282.7L277.0 283.8 272.9 283.2 268.9 283.3M277.0 266.4L273.4 267.6 271.0 270.6 267.5 272.0M268.9 283.3L268.0 279.6 268.4 275.7 267.5 272.0M251.0 258.5L251.7 262.8 252.9 267.1 254.9 271.0M264.1 258.5L263.8 262.4 262.5 266.2 262.5 270.1M254.9 271.0L258.6 270.0 262.5 270.1M267.5 272.0L262.5 270.1M283.8 207.1L280.6 203.6 279.5 198.8 276.8 195.0M283.8 207.1L289.0 207.6M276.8 195.0L279.8 191.9 283.5 189.7M292.8 198.3L290.4 202.5 289.6 207.2M289.0 207.6L289.6 207.2M303.9 199.8L303.9 203.5 303.5 207.2 302.7 210.8M289.6 207.2L293.8 209.2 298.6 208.5 302.7 210.8M308.0 213.4L304.1 212.4M302.7 210.8L304.1 212.4M255.6 231.7L253.4 228.7 249.9 227.4M269.3 220.4L266.5 217.0 264.3 213.2M264.3 213.2L260.4 215.3 256.0 215.6 251.9 217.1 247.5 217.3M249.9 227.4L248.1 222.6 247.5 217.5M242.1 243.9L240.9 239.1 239.6 234.4M249.9 227.4L246.4 229.6 243.4 232.6 239.6 234.4M226.9 240.4L231.0 237.4 233.5 233.0M239.6 234.4L233.5 233.0M221.1 240.4L220.6 236.3 220.8 232.4 222.0 228.5M209.1 232.0L211.6 228.9 214.0 225.8 217.6 224.0M217.6 224.0L222.0 228.5M233.5 233.0L231.6 228.4M222.0 228.5L226.8 229.3 231.6 228.4M247.5 217.5L244.0 220.1 240.2 222.3 235.7 223.0 232.0 225.1M231.6 228.4L232.0 225.1M175.4 131.8L179.4 130.2 183.6 129.4M195.8 92.2L196.0 96.3 194.6 100.1 194.5 104.2 194.1 108.2 192.5 111.9 191.8 115.9M191.8 115.9L190.3 119.6 188.0 122.8 185.6 126.0 183.6 129.4M210.8 202.2L206.1 200.8 201.2 201.6M210.8 202.2L214.0 199.6 216.8 196.6M196.3 192.5L199.8 191.5 203.1 189.8 206.7 189.0 210.2 188.0M216.8 196.6L214.2 194.1 213.0 190.4 210.2 188.0M216.8 196.6L218.9 196.8M218.9 196.8L222.3 193.5 224.6 189.5 226.5 185.3M211.7 182.4L216.3 180.9 221.1 179.9M211.7 182.4L210.2 188.0M226.5 185.3L224.1 182.2 221.1 179.9M251.4 201.7L250.8 205.5 248.6 208.9 247.2 212.5 247.1 216.5M251.4 201.7L247.8 200.1 244.9 197.3M247.1 216.5L242.2 214.6 238.2 211.0M238.2 211.0L238.5 206.8 236.5 203.1M236.5 203.1L240.8 200.3 244.9 197.3M224.4 201.6L222.1 198.7 218.9 196.8M224.4 201.6L228.2 201.6 231.6 200.1M226.5 185.3L227.7 185.3M227.7 185.3L230.1 188.7 233.4 191.0M231.6 200.1L231.6 195.4 233.4 191.0M257.9 191.5L262.4 190.0 267.2 189.6M257.9 191.5L256.8 196.0 255.2 200.4M255.2 200.4L258.3 203.0 261.9 204.6 265.6 205.9M271.5 195.1L268.8 192.7 267.2 189.6M271.5 195.1L270.6 198.9 267.5 201.6 266.4 205.3M265.6 205.9L266.4 205.3M268.0 180.8L266.8 185.1 267.2 189.6M268.0 180.8L265.8 175.5M256.9 190.5L255.2 186.8 255.3 182.9 255.0 179.0M256.9 190.5L257.9 191.5M255.0 179.0L258.3 177.0 262.2 176.5 265.8 175.5M251.4 201.7L255.2 200.4M264.3 213.2L263.9 209.4 265.6 205.9M247.5 217.3L247.1 216.5M276.8 195.0L271.5 195.1M283.1 183.1L279.3 182.8 275.4 182.7 271.6 182.4 268.0 180.8M283.8 207.1L280.5 209.1M280.5 209.1L277.3 207.1 273.3 208.0 270.2 205.3 266.4 205.3M280.5 209.1L278.1 213.0 276.9 217.5 274.6 221.5M295.0 153.1L289.8 153.1 284.6 152.6M286.8 176.3L283.1 173.4 279.5 170.5 276.4 167.1M284.6 152.6L282.4 156.1 281.2 160.2 278.3 163.4 276.4 167.1M267.4 170.2L265.8 175.5M267.4 170.2L268.7 169.0M276.4 167.1L272.6 168.1 268.7 169.0M485.6 503.9L482.1 501.6 479.5 498.2M485.6 503.9L489.3 503.7 492.1 501.1 495.6 500.7 498.8 499.2M479.5 498.2L481.3 494.2 482.7 490.0 483.4 485.7M498.8 499.2L499.6 495.4 500.0 491.6M500.0 491.6L497.2 488.4 494.5 485.0M494.5 485.0L488.7 483.2M488.7 483.2L483.4 485.7M483.9 513.3L484.6 508.6 485.6 503.9M475.6 498.6L479.5 498.2M524.4 537.9L522.9 534.7 519.7 532.5 518.6 528.9 517.2 525.6 514.5 523.1 512.6 520.1 511.0 516.9 509.2 513.8 506.4 511.4 504.9 508.0 503.4 504.8 501.0 502.1 498.8 499.2M471.6 481.7L475.7 482.4 479.1 485.4 483.4 485.7M513.6 487.3L510.3 488.7 506.7 489.1 503.7 491.5 500.0 491.6M501.5 473.8L505.5 473.8 509.3 473.1 513.2 472.6M501.5 473.8L498.4 477.0 497.4 481.6 494.5 485.0M494.1 463.1L497.5 466.1 499.4 470.0 501.5 473.8M494.1 463.1L490.0 463.6M486.6 473.5L487.8 478.3 488.7 483.2M623.4 411.7L620.5 415.9 618.2 420.6M612.5 419.1L618.2 420.6M612.5 419.1L611.9 414.0 612.1 408.9M619.6 405.2L615.9 406.0 612.5 407.9M612.1 408.9L612.5 407.9M615.9 395.6L613.2 394.8M613.2 394.8L610.2 397.1 609.3 401.2 606.0 403.4M612.5 407.9L609.9 404.7 606.0 403.4M598.4 394.4L598.0 395.9M598.4 394.4L594.5 391.7 592.0 387.8M598.0 395.9L593.9 397.6 589.7 399.2 585.2 399.5M585.2 399.5L586.0 395.9 586.6 392.4 585.7 388.8M592.0 387.8L587.8 387.1M585.7 388.8L587.8 387.1M608.3 390.0L613.2 394.8M604.0 390.0L601.5 392.6 598.4 394.4M606.0 403.4L600.5 403.0M600.5 403.0L599.4 399.4 598.0 395.9M597.1 378.5L594.4 381.1 593.2 384.4 592.0 387.8M573.5 387.6L572.4 388.7M573.5 387.6L577.6 387.4 581.6 388.3 585.7 388.8M572.4 388.7L571.0 392.7 570.6 396.8 571.1 401.0 570.4 405.1 570.1 409.3M570.6 410.0L570.1 409.3M570.6 410.0L576.0 409.1M576.0 409.1L578.3 405.2 582.0 402.5 585.2 399.5M584.6 374.4L585.0 378.8 587.8 382.6 587.8 387.1M573.5 387.6L575.3 381.8M575.3 381.8L578.0 378.8 581.6 377.0 584.6 374.4M618.4 380.8L623.4 384.6M618.4 380.8L617.7 376.6 619.1 372.6M623.4 384.6L625.6 381.6 629.2 380.0 631.5 377.1M619.1 372.6L622.5 371.0 626.1 370.8 629.6 369.9M629.6 369.9L629.6 373.7 631.5 377.1M613.5 382.0L618.4 380.8M624.5 388.4L623.4 384.6M616.2 369.3L619.1 372.6M633.4 378.1L631.5 377.1M631.3 364.5L628.5 361.8 625.5 359.3M631.3 364.5L631.6 365.9M631.6 365.9L629.6 369.9M631.6 365.9L634.8 367.3 638.6 367.0 641.6 369.1 645.0 370.2 648.3 371.2M648.3 371.2L648.4 371.9M572.9 435.5L576.5 433.9 580.2 432.3 583.5 429.9 587.7 429.5 591.1 427.3 594.9 426.1M599.7 436.8L599.4 430.0M594.9 426.1L599.4 430.0M609.2 457.0L610.2 453.3 609.7 449.5 611.8 446.0 611.4 442.2M601.6 438.8L608.1 438.5M611.4 442.2L608.1 438.5M621.7 449.1L620.7 444.5 619.9 440.0M611.4 442.2L615.9 441.8 619.9 440.0M599.4 430.0L603.0 428.6 606.5 427.1M606.5 427.1L610.2 429.3 613.3 432.2M608.1 438.5L610.6 435.2 613.3 432.2M622.8 428.9L620.7 432.0M622.8 428.9L626.3 427.6 630.1 427.3M630.1 427.3L635.3 431.2M620.7 432.0L621.1 435.8M621.1 435.8L625.4 438.2 629.8 440.5M635.3 431.2L635.0 438.1M635.0 438.1L629.8 440.5M612.5 419.1L609.1 420.3M618.2 420.6L620.8 424.6 622.8 428.9M609.1 420.3L608.3 423.9 606.5 427.1M613.3 432.2L617.0 433.2 620.7 432.0M633.8 417.8L631.0 422.2 630.1 427.3M644.7 430.2L640.0 430.7 635.3 431.2M619.9 440.0L621.1 435.8M628.9 446.5L629.8 440.5M638.2 442.6L635.0 438.1M726.6 299.9L723.0 302.4 719.7 305.3M726.6 299.9L729.9 301.3M729.9 301.3L731.0 304.9 733.4 307.9M719.5 306.4L723.2 308.2 727.2 309.3 730.9 311.0M719.5 306.4L719.7 305.3M730.9 311.0L733.4 307.9M714.0 296.1L715.9 299.2 717.2 302.6 719.7 305.3M725.4 292.4L727.0 296.0 726.6 299.9M737.1 295.3L733.6 298.4 729.9 301.3M738.8 306.7L733.4 307.9M730.6 317.2L730.9 311.0M716.6 310.3L719.5 306.4M667.6 354.3L667.3 350.5 668.9 347.0 669.3 343.4M667.6 354.3L669.2 355.4M669.2 355.4L671.9 352.8 675.6 351.9 679.0 350.4M679.0 350.4L676.8 347.4 676.2 343.7M676.2 343.7L671.0 342.3M671.0 342.3L669.3 343.4M683.3 336.6L684.3 340.6M684.3 340.6L680.4 342.5 676.2 343.7M672.9 331.2L671.2 334.8 672.2 338.7 671.0 342.3M667.0 342.6L663.5 339.8 661.0 336.0 657.3 333.5M667.0 342.6L669.3 343.4M742.6 387.0L740.9 386.5M713.9 352.7L710.0 354.3 706.0 355.3 701.8 355.9 697.7 356.8M740.9 386.5L737.9 384.6 734.3 383.7 731.2 382.0 727.8 380.7 724.9 378.6 721.9 376.7 719.0 374.6 715.5 373.5 712.6 371.4 709.8 369.2 706.1 368.6 703.4 366.0 700.3 364.3 696.9 363.1M697.7 356.8L696.9 363.1M694.5 394.2L693.1 390.2 690.5 387.0 688.0 383.7 685.5 380.4M740.9 386.5L737.5 385.3 734.0 385.1 730.9 383.1 727.1 383.9 723.8 382.7 720.2 382.4 717.0 380.7 713.8 379.0 710.3 378.8 706.8 378.3M706.8 378.3L703.4 379.7 699.6 378.1 696.3 380.4 692.7 380.4 689.1 380.1 685.5 380.4M672.4 370.4L676.5 371.0 679.5 374.3 683.5 375.3M681.3 382.0L683.9 379.5M683.5 375.3L683.9 379.5M685.5 380.4L683.9 379.5M667.0 342.6L663.1 343.7 659.2 344.6 655.9 347.0M667.6 354.3L662.3 355.5M655.9 347.0L657.8 350.0 660.3 352.6 662.3 355.5M671.4 393.8L670.6 398.9 668.6 403.6M680.8 400.9L676.2 405.8M668.6 403.6L672.5 404.3 676.2 405.8M774.8 491.3L772.2 488.8 769.6 486.2 765.9 485.2 763.6 482.3 760.9 479.8 757.5 478.4 755.4 475.3 752.0 473.8 749.3 471.4 746.3 469.5 744.5 465.9 740.4 465.3 738.0 462.6 735.6 459.8 732.6 457.7 729.4 456.0 727.0 453.2 724.2 451.1 721.5 448.7 718.5 446.6 715.3 444.9 713.2 441.7 709.9 440.1 707.8 437.0 704.3 435.7 702.2 432.5 698.5 431.3 696.3 428.4 694.0 425.6 690.2 424.5 688.1 421.4 684.9 419.6 681.3 418.3 679.4 415.1 676.4 413.0M667.2 418.9L669.1 413.6M669.1 413.6L672.7 413.0 676.4 413.0M676.4 413.0L675.3 409.4 676.2 405.8M372.5 361.7L372.8 358.0 372.0 354.4 372.1 350.7 369.8 347.4 370.2 343.6M372.5 361.7L369.1 362.9 365.4 363.2 361.9 364.2M361.9 364.2L358.3 359.0M358.3 359.0L358.8 355.0 359.0 351.0 360.6 347.2M360.6 347.2L364.8 344.9 369.3 343.2M369.3 343.2L370.2 343.6M360.2 372.2L360.9 368.2 361.9 364.2M381.5 376.5L381.2 372.4 380.8 368.3 380.7 364.2M380.7 364.2L376.6 363.1 372.5 361.7M355.1 358.9L351.7 361.4 348.1 363.5 345.3 366.8 341.5 368.8M355.1 358.9L358.3 359.0M342.0 371.2L341.5 368.8M358.3 328.9L357.3 332.6 355.4 336.1 354.5 339.9 354.1 343.8M354.1 343.8L357.1 346.1 360.6 347.2M367.0 329.4L366.6 333.0 368.2 336.3 368.0 339.9 369.3 343.2M415.6 364.7L415.7 360.5 414.1 356.5 413.8 352.3M417.9 349.7L421.8 350.5 425.7 350.0 429.6 350.2M417.9 349.7L414.3 351.4M429.6 350.2L430.4 353.8 431.6 357.4M414.3 351.4L413.8 352.3M474.5 277.7L473.4 281.2 470.4 283.8 469.4 287.4 467.4 290.5 465.4 293.6 463.1 296.5 460.8 299.5 459.2 302.8 457.8 306.2 456.7 309.8 454.4 312.7 452.4 315.8 450.8 319.2M484.2 309.1L483.9 309.9M483.9 309.9L482.0 313.1 478.8 315.4 477.8 319.2 475.2 322.0 472.2 324.4 470.9 328.1M450.8 319.2L453.0 323.2 454.1 327.5 455.5 331.8M455.5 331.8L459.6 331.8 463.5 330.9 467.0 328.9 470.9 328.1M479.4 424.2L481.8 421.1 483.6 417.6 485.6 414.1M489.7 430.5L495.1 427.2M495.1 427.2L495.2 423.5 498.0 420.6 498.9 417.2 499.1 413.5M485.6 414.1L490.1 414.9 494.5 413.1 499.1 413.5M502.0 435.1L499.9 438.2 497.3 441.0 495.8 444.6M502.0 435.1L506.1 435.5 510.1 435.0 514.0 433.7M514.0 433.7L518.1 438.6M518.1 438.6L517.2 442.3 514.1 444.8 512.9 448.4 511.5 451.8 508.9 454.6M495.8 444.6L498.7 447.9 502.4 450.5 504.6 454.4M504.6 454.4L508.9 454.6M486.2 443.0L491.1 443.4 495.8 444.6M495.1 427.2L498.7 431.0 502.0 435.1M513.6 460.2L511.1 457.5 508.9 454.6M530.9 439.2L526.6 439.4 522.4 438.9 518.1 438.6M494.1 463.1L497.6 460.2 500.6 456.7 504.6 454.4M572.4 388.7L567.7 386.3M570.1 409.3L566.1 408.1 562.6 406.2 558.6 405.1 555.4 402.3 551.7 400.7M551.7 400.7L551.5 395.4M567.7 386.3L563.1 386.0 558.9 388.1 554.3 388.2M551.5 395.4L553.7 392.1 554.3 388.2M335.7 251.4L339.3 254.8 342.5 258.5M335.7 251.4L331.4 252.4M331.4 252.4L329.6 256.9 327.5 261.3M342.5 258.5L343.8 264.4M327.5 261.3L329.2 265.5M329.2 265.5L333.6 266.3 338.0 265.7 342.3 266.0M343.8 264.4L342.3 266.0M355.2 245.1L355.0 249.7M355.0 249.7L351.8 251.9 348.2 253.3 346.2 257.1 342.5 258.5M336.8 249.3L335.7 251.4M320.6 245.5L322.2 241.3 323.6 237.1 325.7 233.2M321.1 246.7L324.6 248.6 327.9 250.6 331.4 252.4M315.2 261.6L319.3 261.9 323.4 260.9 327.5 261.3M355.0 249.7L355.7 253.4 357.3 256.6 359.3 259.7 361.3 262.7 362.5 266.1 364.7 269.0M364.7 269.0L361.0 269.3 357.8 267.2 354.2 266.8 350.7 266.3 347.4 264.7 343.8 264.4M327.1 272.8L327.9 269.1 329.2 265.5M333.6 279.8L338.9 279.0M338.9 279.0L340.9 274.9 340.3 270.1 342.3 266.0M331.4 357.8L335.7 358.8M331.4 357.8L330.4 353.6 330.3 349.3 329.9 345.0M335.7 358.8L338.8 355.3 342.9 353.0M342.9 353.0L343.2 349.4 345.5 346.4 346.2 342.9M329.9 345.0L332.6 342.5 335.4 340.3 339.2 339.3 341.9 336.9M341.9 336.9L343.4 340.4 346.2 342.9M324.2 360.5L327.9 359.4 331.4 357.8M341.5 368.8L339.8 365.3 337.2 362.4 335.7 358.8M322.7 340.5L325.8 343.6 329.9 345.0M355.1 358.9L351.3 356.4 347.3 354.4 342.9 353.0M354.1 343.8L350.2 343.3 346.2 342.9M341.0 328.0L342.1 332.4 341.9 336.9M230.0 298.3L233.2 296.6 236.3 294.8 239.7 293.7 242.4 291.1 246.0 290.2M226.1 285.0L229.4 282.8 233.3 282.0 236.9 280.4M246.0 290.2L242.3 287.5 239.4 284.2 236.9 280.4M236.7 270.0L237.9 272.1M254.9 271.0L253.2 273.4M253.2 273.4L249.4 273.0 245.6 272.9 241.8 271.7 237.9 272.1M236.9 280.4L238.5 276.4 237.9 272.1M268.1 295.9L266.2 298.9 264.3 301.9 262.8 305.1M268.1 295.9L266.6 291.7 265.4 287.5M265.4 287.5L261.5 286.5 257.5 286.2 253.6 285.2M252.0 305.0L251.7 301.1 249.7 297.7 248.0 294.3 247.3 290.4M252.0 305.0L255.6 304.9 259.2 305.9 262.8 305.1M247.3 290.4L249.8 287.0 253.6 285.2M280.1 297.1L276.2 295.6 272.2 295.7 268.1 295.9M270.6 315.3L268.0 311.9 265.0 308.8 262.8 305.1M268.9 283.3L265.4 287.5M253.2 273.4L253.9 277.3 253.8 281.3 253.6 285.2M248.2 309.6L252.0 305.0M246.0 290.2L247.3 290.4M289.0 207.6L288.7 211.9 289.1 216.2 289.6 220.5M304.1 212.4L301.8 215.5 299.7 218.7 297.2 221.6M297.2 221.6L293.3 221.2 289.6 220.5M277.2 224.0L281.0 223.8 284.6 225.2M273.3 240.9L277.4 239.6 281.8 239.3 285.6 236.8 290.0 236.9M284.6 225.2L285.5 229.5 289.2 232.5 290.0 236.9M284.6 225.2L289.6 220.5M289.7 251.2L289.7 247.7 289.5 244.1 290.2 240.6 290.3 237.1M217.9 222.0L220.7 219.8 224.1 218.8 227.1 216.9M217.9 222.0L213.8 219.2 211.3 215.0M211.3 215.0L213.0 211.4M213.0 211.4L216.7 211.4 220.3 210.6 223.5 208.7M223.5 208.7L224.8 212.5 227.6 215.4M227.6 215.4L227.1 216.9M217.6 224.0L217.9 222.0M232.0 225.1L229.9 220.7 227.1 216.9M204.4 216.6L207.6 215.0 211.3 215.0M210.8 202.2L211.6 206.9 213.0 211.4M224.4 201.6L223.8 205.1 223.5 208.7M238.2 211.0L234.4 211.9 231.1 214.0 227.6 215.4M236.5 203.1L231.6 200.1M191.8 115.9L193.3 119.5 196.3 122.2 198.9 125.1 200.7 128.6 202.1 132.3M183.6 129.4L186.8 134.0M186.8 134.0L190.5 136.5 195.2 136.5 199.2 138.4M202.1 132.3L199.2 138.4M264.2 96.5L261.6 99.3 258.5 101.4 254.4 102.0 251.6 104.4 249.0 107.2 246.4 110.0 242.4 110.7 240.4 114.3 236.4 115.0 233.6 117.6M224.5 114.2L222.0 111.3 219.5 108.5 216.5 106.0 215.3 102.2 213.3 98.9 210.1 96.6 207.8 93.6M224.5 114.2L228.5 116.7 233.2 117.6M294.9 101.1L293.5 104.8 291.2 107.8 289.0 110.9 287.5 114.4 283.9 116.7 282.8 120.5 281.7 124.3 278.7 126.9M284.6 152.6L283.3 151.4M283.3 151.4L281.5 147.2 278.4 143.5 277.1 139.1M278.7 126.9L278.5 131.0 276.9 134.9 277.1 139.1M233.6 117.6L239.3 121.7M233.3 117.6L234.5 121.4 235.4 125.2 234.9 129.3 237.0 132.9 236.3 137.0 238.1 140.7M238.1 140.7L242.2 138.2 247.0 137.8M239.3 121.7L241.7 124.5 241.3 128.6 243.7 131.5 245.3 134.6 247.0 137.8M270.7 98.5L268.4 101.4 267.8 105.2 265.0 107.8 264.5 111.6 261.7 114.2 260.8 117.7 258.3 120.5 256.5 123.6 255.8 127.3M239.3 121.7L243.2 123.7 247.8 123.7 251.7 125.8 255.8 127.3M247.6 147.1L249.5 143.6 249.5 139.6M247.6 147.1L243.8 147.1 239.9 147.4 236.1 146.5M236.1 146.5L238.1 140.7M247.0 137.8L249.5 139.6M599.8 404.6L600.7 409.5 601.5 414.5M599.8 404.6L596.8 406.7 593.5 408.1 589.7 408.2 586.9 410.7 583.2 410.9M583.2 410.9L586.2 412.9 589.2 414.8 591.4 417.8 594.7 419.4M594.7 419.4L597.9 416.9 601.4 414.9M612.1 408.9L608.7 410.8 604.9 412.3 601.5 414.5M600.5 403.0L599.8 404.6M576.0 409.1L579.8 409.3 583.2 410.9M569.0 418.6L569.8 414.3 570.6 410.0M594.9 426.1L594.7 419.4M609.1 420.3L604.9 418.2 601.4 414.9M671.0 368.4L672.0 364.9 673.5 361.5M673.5 361.5L678.5 361.3 683.3 359.7M683.5 375.3L684.8 373.2M683.3 359.7L682.8 364.3 683.3 368.8 684.8 373.2M696.9 363.1L693.3 364.7M706.8 378.3L703.6 375.7 699.2 375.2 696.0 372.4 692.6 370.3M693.3 364.7L692.6 370.3M684.8 373.2L688.6 371.5 692.6 370.3M666.8 368.9L663.6 367.1 660.7 364.9 657.7 362.8M673.5 361.5L671.7 358.2 669.2 355.4M662.3 355.5L658.4 359.9M657.7 362.8L658.4 359.9M648.3 371.2L648.7 370.2M657.7 362.8L655.5 366.1 651.6 367.6 648.7 370.2M651.6 336.8L653.6 341.2 653.6 346.1M651.6 336.8L647.3 337.5 643.1 338.4 639.2 340.6M653.6 346.1L650.4 349.0 647.7 352.3M639.2 340.6L637.1 347.2M637.1 347.2L638.8 350.6 641.5 353.2M647.7 352.3L643.2 353.8M641.5 353.2L643.2 353.8M652.4 335.4L651.6 336.8M655.9 347.0L653.6 346.1M635.2 333.6L636.3 337.7 639.2 340.6M658.4 359.9L655.4 356.6 651.0 355.3 647.7 352.3M628.7 347.9L632.9 347.9 637.1 347.2M631.3 364.5L633.8 361.6 636.5 358.9 638.9 355.9 641.5 353.2M648.7 370.2L646.3 366.5 645.6 362.1 643.6 358.3 643.2 353.8M667.3 404.4L666.7 410.7M667.3 404.4L663.8 402.2 659.9 400.9 655.8 400.1M666.7 410.7L661.8 412.4 656.7 412.0M656.7 412.0L656.7 408.0 656.9 404.0 655.7 400.1M668.6 403.6L667.3 404.4M669.1 413.6L666.7 410.7M658.8 394.3L655.8 400.1M654.4 416.4L656.7 412.0M646.9 399.7L651.3 400.2 655.7 400.1M390.9 314.8L395.5 318.8M395.5 318.8L394.8 323.1 394.8 327.6M375.2 324.6L378.9 327.2 382.8 329.7 386.3 332.6M386.3 332.6L390.4 329.8 394.8 327.6M395.5 318.8L402.0 316.2M402.0 316.2L406.0 317.5 409.4 320.2 413.1 322.2 416.3 324.9M416.4 326.4L416.3 324.9M416.4 326.4L413.4 328.8 410.4 331.1 407.4 333.5 404.0 335.4M394.8 327.6L397.1 331.0 401.3 332.3 404.0 335.4M417.9 349.7L418.4 346.0 420.1 342.4 419.8 338.5 419.9 334.7 421.6 331.2M414.3 351.4L411.9 347.9 408.9 344.8 407.2 340.8 404.1 337.8M421.6 331.2L418.8 329.1 416.4 326.4M404.0 335.4L404.1 337.8M395.7 359.6L398.7 356.6M395.7 359.6L390.6 359.8 385.5 359.2M398.7 356.6L397.5 352.6 396.6 348.6 395.1 344.7M385.5 359.2L383.8 355.7 382.8 352.0 383.6 347.9 382.1 344.3M395.1 344.7L391.2 344.6 387.7 342.4 383.7 342.8M382.1 344.3L383.7 342.8M400.7 372.2L399.7 367.8 397.4 363.8 395.7 359.6M413.8 352.3L410.3 354.3 406.4 355.0 402.8 356.6 398.7 356.6M380.7 364.2L385.5 359.2M404.1 337.8L401.0 340.0 398.0 342.3 395.1 344.7M370.2 343.6L374.1 344.4 378.2 343.7 382.1 344.3M386.3 332.6L384.5 335.8 383.7 339.2 383.7 342.8M433.4 317.1L429.6 317.6 425.9 319.0 421.9 319.0 418.4 320.9M433.4 317.1L433.3 313.4 432.0 309.8 433.9 306.1 432.0 302.5 432.5 298.8 432.3 295.2 433.3 291.5 432.6 287.8 432.3 284.2 433.2 280.5 432.9 276.8 432.2 273.2 431.6 269.6 431.0 265.9 432.3 262.2 431.8 258.6 432.1 254.9 430.8 251.3 430.9 247.6M418.4 320.9L419.2 317.1 417.0 313.5 417.3 309.7 418.7 305.9 418.1 302.1 416.5 298.4 416.8 294.6 416.9 290.9M416.9 290.9L417.3 287.1 419.1 283.7 420.2 280.1 421.0 276.4 421.5 272.6 421.8 268.8 423.3 265.3 425.6 262.0 426.2 258.3 426.8 254.5 427.6 250.9M427.6 250.9L430.9 247.6M427.7 331.6L421.6 331.2M427.7 331.6L431.0 328.9 433.9 325.6 437.2 322.9M437.2 322.9L433.4 317.1M416.3 324.9L418.4 320.9M436.1 241.2L434.4 245.1 430.9 247.6M438.9 323.4L442.6 321.4 446.7 320.2 450.8 319.2M438.9 323.4L437.2 322.9M402.0 316.2L402.9 312.4 405.4 309.7 407.2 306.5 409.3 303.4 411.1 300.3 413.7 297.5 415.1 294.1 416.9 290.9M386.4 276.1L390.1 275.0 392.9 272.4 395.7 270.0 399.0 268.3 402.5 266.8 405.0 263.8 408.8 262.9 412.3 261.5 415.2 259.1 418.3 257.1 421.6 255.4 423.8 251.8 427.6 250.9M455.5 331.8L453.6 335.3 452.0 339.0M470.9 328.1L471.0 333.3 470.4 338.5M470.4 338.5L466.8 340.7 462.7 341.9 458.8 343.2M458.8 343.2L454.8 342.0 452.0 339.0M441.8 367.2L444.2 363.5 444.9 359.1 447.6 355.7M453.0 371.2L455.1 367.8 457.0 364.2 461.0 362.2 462.5 358.2M447.6 355.7L451.5 355.7 455.1 357.1 459.0 356.5 462.5 358.2M456.3 375.8L459.9 374.1 463.8 373.1 467.3 371.0 471.4 370.8M471.4 370.8L470.7 367.2 468.7 364.2 466.0 361.5 465.5 357.9M465.5 357.9L464.5 357.6M462.5 358.2L464.5 357.6M483.7 345.8L487.3 347.5 491.1 348.7 494.2 351.2 497.6 353.2M483.7 345.8L477.8 349.3M488.6 367.1L489.9 367.4M488.6 367.1L486.9 363.3 483.6 360.5 482.6 356.3 479.8 353.2 477.6 349.7M489.9 367.4L493.0 365.6 496.4 364.3 498.7 361.3M497.6 353.2L498.9 357.2 498.7 361.3M483.9 309.9L483.5 313.5 483.3 317.0 484.5 320.5 485.3 324.1 484.2 327.7 485.1 331.2 486.3 334.7 484.5 338.4 485.6 341.9M485.6 341.9L483.7 345.8M470.4 338.5L473.6 341.6 474.9 346.0 477.8 349.3M471.4 370.8L472.4 371.6M465.5 357.9L468.1 355.2 471.5 353.7 474.6 351.8 477.6 349.7M472.4 371.6L476.3 370.0 480.5 369.5 484.9 369.3 488.6 367.1M458.8 343.2L460.6 346.7 461.4 350.5 462.1 354.4 464.5 357.6M460.1 387.5L463.3 385.9 467.0 385.9M472.4 371.6L471.7 375.3 472.7 378.8M467.0 385.9L470.6 383.0 472.7 378.8M489.9 367.4L490.5 370.5M472.7 378.8L476.3 381.4 480.7 382.6 483.8 385.8M490.5 370.5L489.3 374.5 487.7 378.4 485.4 381.9 483.8 385.8M501.2 327.5L505.9 327.5 510.5 328.8M501.2 327.5L500.1 331.4 499.9 335.3 500.9 339.3M510.5 328.8L513.2 332.8 514.2 337.7M514.2 337.7L511.4 341.0 509.8 345.0M500.9 339.3L503.2 343.9M503.2 343.9L509.8 345.0M488.3 312.0L491.1 315.0 493.5 318.2 496.2 321.2 498.9 324.2 501.2 327.5M520.1 318.2L519.3 321.8 518.6 325.3M518.6 325.3L514.5 326.9 510.5 328.8M485.6 341.9L489.4 340.8 493.1 340.0 497.0 339.6 500.9 339.3M497.6 353.2L498.9 349.7 501.6 347.2 503.2 343.9M339.7 279.5L343.3 279.1 347.0 279.0 350.6 278.3 354.3 277.7 357.8 276.3 361.5 276.2 365.0 274.9 368.9 276.0 372.4 274.8M339.7 279.5L340.8 283.9 343.3 287.7 345.7 291.5M351.6 292.4L354.6 289.9 357.4 287.1 360.8 285.0 364.2 283.0 366.8 280.0 370.0 277.6 373.0 275.0M351.6 292.4L345.7 291.5M373.0 275.0L372.4 274.8M338.9 279.0L339.7 279.5M364.7 269.0L369.2 271.1 372.4 274.8M338.7 297.3L341.8 293.9 345.7 291.5M353.5 299.8L352.6 296.1 351.6 292.4M386.4 276.1L382.0 274.9 377.4 275.9 373.0 275.0M299.5 225.4L297.6 229.1 296.2 232.9 294.0 236.4M299.5 225.4L303.3 225.4 306.9 226.7 310.5 228.0M310.8 228.6L308.8 232.2 307.9 236.3 306.0 240.0M310.8 228.6L310.5 228.0M306.0 240.0L302.0 238.9 298.0 237.5 294.0 236.4M297.2 221.6L299.5 225.4M290.3 237.1L294.0 236.4M311.5 220.4L310.8 224.2 310.5 228.0M307.0 242.3L306.0 240.0M324.8 231.8L321.4 230.8 317.9 229.8 314.5 228.5 310.8 228.6M211.7 182.4L209.7 179.2 207.1 176.4M221.1 179.9L221.8 176.4 222.2 172.9M222.2 172.9L218.8 171.3 215.0 171.7 211.5 170.9 207.9 170.3M207.1 176.4L207.9 170.3M193.0 190.7L193.2 188.9M193.2 188.9L194.6 185.0 197.8 182.3 199.7 178.8M207.1 176.4L203.3 177.4 199.7 178.8M222.6 172.3L222.2 172.9M222.6 172.3L222.2 168.2 219.1 165.2 218.7 161.1M211.6 160.9L215.2 160.4 218.7 161.1M211.6 160.9L209.1 164.8 207.6 169.3M207.9 170.3L207.6 169.3M208.9 141.9L210.2 146.0 212.6 149.4M208.9 141.9L205.3 142.0 201.7 142.9M207.8 155.1L209.7 151.8 212.6 149.4M207.8 155.1L204.8 154.2M204.8 154.2L204.7 150.1 202.9 146.6 201.7 142.9M223.6 115.7L220.1 117.4 217.2 119.8 214.4 122.5 211.7 125.1 208.5 127.2 206.2 130.5 202.7 132.2M223.6 115.7L221.9 118.9 220.2 122.2 219.7 125.9 218.4 129.4 217.0 132.7 216.3 136.4M202.7 132.2L206.2 134.1 210.4 134.6 213.8 137.0M216.3 136.4L213.8 137.0M224.5 114.2L223.6 115.7M202.1 132.3L202.7 132.2M219.9 142.1L216.3 136.4M219.9 142.1L223.6 143.7 227.6 143.8M227.6 143.8L229.1 140.2 228.6 136.2 230.1 132.6 229.9 128.6 231.0 124.9 232.1 121.2 233.2 117.6M199.2 138.4L199.7 141.2M208.9 141.9L213.8 137.0M199.7 141.2L201.7 142.9M219.9 142.1L216.4 148.1M212.6 149.4L216.4 148.1M256.9 190.5L253.1 190.0 249.4 188.8 245.5 188.9M255.0 179.0L253.0 178.5M253.0 178.5L249.7 181.4 247.5 185.1 245.5 188.9M244.9 197.3L243.9 193.5 243.7 189.7M245.5 188.9L243.7 189.7M233.4 191.0L238.4 189.8 243.4 189.5M234.3 147.8L231.0 147.5M234.3 147.8L236.9 151.3 237.7 155.6 239.5 159.5M231.0 147.5L228.8 150.8 226.0 153.7 223.7 156.9M231.9 163.4L235.6 161.3 239.5 159.5M231.9 163.4L228.0 160.0 223.7 157.2M227.6 143.8L231.0 147.5M236.1 146.5L234.3 147.8M216.4 148.1L218.4 151.4 221.4 153.9 223.7 156.9M230.7 170.1L231.9 163.4M230.7 170.1L226.7 171.2 222.6 172.3M218.7 161.1L223.7 157.2M207.8 155.1L209.4 158.2 211.6 160.9M283.3 151.4L279.8 152.5 276.2 152.0 272.8 153.6 269.2 153.6 265.7 153.6M277.1 139.1L272.8 140.8 268.3 142.3M268.3 142.3L267.4 146.1 266.8 149.9 265.7 153.6M268.7 169.0L268.8 165.0 266.7 161.4 267.1 157.3 265.6 153.6M261.5 130.8L261.3 135.8 262.2 140.8M261.5 130.8L256.8 128.7M256.8 128.7L255.7 132.4 253.8 135.7 251.7 138.8M251.7 138.8L255.4 141.1 259.5 142.5M259.5 142.5L262.2 140.8M278.7 126.9L275.3 127.6 271.8 128.2 268.2 128.4 265.1 130.8 261.5 130.8M268.3 142.3L262.2 140.8M255.8 127.3L256.8 128.7M249.5 139.6L251.7 138.8M252.5 154.6L249.5 151.3 247.6 147.1M252.5 154.6L257.4 152.3M257.4 152.3L259.6 147.6 259.5 142.5M257.4 152.3L261.6 152.5 265.6 153.6M683.9 359.2L686.8 359.4M683.9 359.2L683.5 353.5M686.8 359.4L690.8 357.5 694.6 355.1M683.5 353.5L685.3 350.0 687.3 346.6 690.2 344.0M694.6 355.1L694.7 351.2 693.9 347.4 692.7 343.8M690.2 344.0L692.7 343.8M683.3 359.7L683.9 359.2M693.3 364.7L689.8 362.4 686.8 359.4M679.0 350.4L683.5 353.5M697.7 356.8L694.6 355.1M684.3 340.6L690.2 344.0M693.6 343.2L692.7 343.8M443.8 337.6L449.9 339.7M443.8 337.6L439.4 340.3 434.3 341.3M449.9 339.7L448.2 344.1 448.2 348.9 446.6 353.2M446.6 353.2L442.8 351.7 438.5 351.8 434.9 349.2 430.7 349.3M430.7 349.3L431.8 345.0 434.3 341.3M438.9 323.4L440.5 326.9 442.0 330.3 442.3 334.2 443.8 337.6M452.0 339.0L449.9 339.7M427.7 331.6L429.3 335.2 432.8 337.6 434.3 341.3M447.6 355.7L446.6 353.2M429.6 350.2L430.7 349.3M499.1 413.5L501.4 411.9M512.8 422.6L510.0 419.9 507.8 416.6 504.1 414.8 501.4 411.9M512.8 422.6L512.7 426.4 513.1 430.1 514.0 433.7M498.7 361.3L502.4 361.9 505.7 364.2 509.6 364.3M505.8 378.0L508.4 375.1 509.6 371.4 511.6 368.1M505.8 378.0L500.8 378.0 495.9 376.7M495.9 376.7L492.5 374.2 490.5 370.5M509.6 364.3L511.6 368.1M509.8 345.0L511.8 348.1 514.8 350.0 517.5 352.3M509.6 364.3L511.6 361.3 513.4 358.2 514.6 354.7 517.5 352.3M495.9 376.7L496.5 381.9 495.6 387.1M483.9 386.0L487.9 385.4 491.6 387.6 495.6 387.1M505.8 378.0L505.6 382.8 507.4 387.3M507.4 387.3L503.1 388.9 498.8 390.2M495.6 387.1L498.8 390.2M567.7 386.3L565.6 382.3 563.1 378.5 560.6 374.8M554.3 388.2L554.1 381.2M554.1 381.2L558.1 378.8 560.6 374.8M575.3 381.8L573.5 377.9 569.4 376.0 568.2 371.6 564.8 369.1M571.3 367.5L567.6 367.5M564.8 369.1L567.6 367.5M560.6 374.8L562.6 369.6M564.8 369.1L562.8 369.4M573.4 350.2L572.1 351.1M567.6 367.5L569.0 363.5 569.5 359.2 571.6 355.4 572.1 351.1M563.0 320.6L560.3 323.9 555.9 324.9 552.4 327.3 550.2 331.2 546.2 332.8M559.3 339.5L556.5 341.1M546.2 332.8L550.0 335.2 552.4 339.2 556.5 341.1M199.7 178.8L198.2 174.9 195.1 172.2M207.6 169.3L203.1 167.7 198.4 166.7M198.4 166.7L195.1 172.2M193.2 188.9L192.5 184.7 189.0 181.7 188.1 177.7 186.6 173.8M195.1 172.2L190.7 172.2 186.6 173.8M183.2 172.2L183.7 172.1M183.7 172.1L186.6 173.8M227.7 185.3L229.8 182.0 233.3 180.2M243.4 189.5L241.3 185.1 240.0 180.4M240.0 180.4L233.3 180.2M230.7 170.1L231.4 170.7M233.3 180.2L231.6 175.6 231.4 170.7M248.8 174.6L244.5 173.1M248.8 174.6L251.7 171.5 255.1 168.8 257.0 164.8M244.1 161.1L244.1 164.8 243.2 168.5 243.9 172.2M244.1 161.1L247.3 158.2 251.5 157.2M243.9 172.2L244.5 173.1M251.5 157.2L254.4 160.9 257.0 164.8M253.0 178.5L248.8 174.6M240.0 180.4L243.1 177.3 244.5 173.1M267.4 170.2L264.4 167.4 260.2 167.1 257.0 164.8M239.5 159.5L244.1 161.1M231.4 170.7L235.6 170.4 239.8 171.1 243.9 172.2M252.5 154.6L251.5 157.2M551.7 400.7L547.8 401.3 544.8 403.8M551.5 395.4L548.2 393.6 545.8 391.0 543.3 388.5 540.9 385.8 538.8 382.8 535.7 380.9M535.7 380.9L534.5 384.3 532.8 387.5 532.3 391.2 531.1 394.6M531.1 394.6L534.1 397.6 538.1 398.9 541.2 401.7 544.8 403.8M549.3 423.6L546.4 421.5 543.7 419.2 540.7 417.3 538.4 414.5M544.8 403.8L542.0 406.9 540.8 411.1 538.4 414.5M532.1 437.9L533.3 433.8 532.7 429.5 531.6 425.3 533.6 421.2 532.8 417.0M538.4 414.5L532.8 417.0M512.8 422.6L516.4 421.9 519.4 420.0 522.4 417.9 526.1 417.7 529.1 415.6M532.8 417.0L529.1 415.6M516.8 387.7L520.1 390.2 522.1 394.2 525.7 396.4M516.8 387.7L511.0 388.9M511.0 388.9L509.9 393.0 511.5 397.2 510.6 401.3 510.0 405.4M510.0 405.4L514.2 406.1 518.1 405.3 522.1 404.3M522.1 404.3L523.3 400.1 525.7 396.4M507.4 387.3L511.0 388.9M501.4 411.9L499.4 408.1 498.6 403.6 495.9 400.1M501.4 411.9L503.6 408.9 506.7 406.9 510.0 405.4M495.9 400.1L497.8 395.3 498.8 390.2M529.1 415.6L526.5 411.9 524.7 407.9 522.1 404.3M531.1 394.6L525.7 396.4M535.7 380.9L535.5 379.0M516.8 387.7L518.6 383.9 520.7 380.4 522.6 376.8M535.5 379.0L531.3 377.9 527.0 377.0 522.6 376.8M554.1 381.2L550.1 380.3 546.9 377.6 543.7 375.1 539.6 374.4M535.5 379.0L539.6 374.4M511.6 368.1L515.1 371.1 519.6 372.3M522.6 376.8L519.6 372.3M487.7 397.9L485.4 394.7 485.0 390.7 483.5 387.1M487.7 397.9L484.0 400.8 479.1 401.6 475.7 404.9M483.5 387.1L480.9 390.1 476.9 391.7 474.4 395.0M474.4 395.0L474.4 399.7 473.9 404.4M473.9 404.4L475.7 404.9M483.9 386.0L483.5 387.1M495.9 400.1L492.0 398.1 487.7 397.9M485.6 414.1L481.6 411.8 479.0 407.9 475.7 404.9M467.0 385.9L469.3 389.1 472.1 391.8 474.4 395.0M464.2 408.3L468.9 405.9 473.9 404.4M514.2 337.7L518.2 338.4 522.2 337.6M517.5 352.3L522.8 351.2M522.8 351.2L521.6 346.7 523.1 342.1 522.2 337.6M518.6 325.3L521.6 329.5 525.8 332.5M525.8 332.5L522.2 337.6M538.3 319.6L537.7 323.8 538.2 327.9 538.7 332.0M525.8 332.5L530.1 332.1 534.4 332.1 538.7 332.0M546.2 332.8L542.5 333.1 538.8 332.2M196.8 157.1L194.2 154.5 192.4 151.3 190.1 148.4M196.8 157.1L195.3 160.8M195.3 160.8L191.2 163.0 186.6 163.3M190.1 148.4L187.1 147.8M183.6 159.6L186.6 163.3M183.6 159.6L183.2 155.7 185.4 152.2 185.7 148.5M185.7 148.5L187.1 147.8M204.8 154.2L200.5 154.6 196.8 157.1M199.7 141.2L196.2 143.2 193.9 146.8 190.1 148.4M198.4 166.7L195.3 160.8M183.7 172.1L184.3 167.4 186.6 163.3M186.8 134.0L187.9 138.6 186.8 143.2 187.1 147.8M173.6 158.8L178.6 159.8 183.6 159.6M180.1 147.6L185.7 148.5M562.6 369.6L558.7 368.5 554.7 368.3 551.5 365.2 547.6 364.4 543.6 363.9M539.6 374.4L539.9 370.0 541.6 365.9M543.6 363.9L541.6 365.9M519.6 372.3L522.6 369.9 525.0 367.2 526.3 363.4 529.0 360.9M541.6 365.9L537.4 364.1 532.7 363.6 529.0 360.9M522.8 351.2L524.0 351.5M538.8 332.2L538.7 336.6 538.6 341.0 537.5 345.3M537.5 345.3L533.7 345.9 530.5 347.9 527.6 350.5 524.0 351.5M529.0 360.9L527.8 357.5 524.9 355.0 524.0 351.5M544.5 360.2L542.7 355.9 542.9 351.4M544.5 360.2L548.0 358.6 552.1 358.0 555.8 356.7 559.1 354.4M542.9 351.4L546.0 349.4 549.2 347.8 552.6 346.6 555.8 345.1M555.8 345.1L558.2 348.5 560.1 352.2M560.1 352.2L559.1 354.4M543.6 363.9L544.5 360.2M537.5 345.3L539.9 348.6 542.9 351.4M562.8 369.4L561.8 365.6 560.4 362.0 559.5 358.2 559.1 354.4M556.5 341.1L555.8 345.1M572.1 351.1L568.1 351.4 564.2 352.8 560.1 352.2"/><clipPath id="cd"><path d="M126.7 495.0 140.0 490.0 146.7 480.0 148.3 470.0 146.7 463.3 150.0 458.3 152.7 462.4 152.8 462.1 152.6 460.4 153.6 460.0 154.0 459.2 159.3 457.9 163.0 456.5 163.4 457.7 174.7 463.4 178.9 464.4 191.3 463.4 191.3 453.0 192.7 450.7 189.6 450.7 189.2 450.9 187.8 450.7 187.6 450.7 187.6 450.7 183.0 449.9 179.9 440.6 178.9 430.2 187.7 429.3 187.6 429.3 192.2 431.0 197.5 434.3 197.7 434.3 198.0 434.5 201.9 431.9 203.2 426.7 205.8 424.1 201.9 422.8 200.6 416.3 194.7 416.3 192.8 413.7 179.8 414.4 175.9 416.3 178.5 420.2 176.7 417.5 176.2 418.2 175.7 418.8 171.6 413.6 168.5 408.4 166.7 406.7 160.0 401.7 155.8 400.1 150.0 398.2 150.0 397.9 146.7 396.7 133.3 395.0 120.0 396.7 120.0 396.7 120.0 396.7 115.5 398.9 113.3 400.0 113.3 400.0 113.3 400.0 100.0 401.7 90.0 406.0 76.7 406.0 65.0 406.0 61.7 411.7 56.7 415.0 50.0 418.3 55.0 421.7 58.3 426.7 63.3 435.0 71.7 441.7 86.7 445.0 100.0 446.7 95.0 449.3 81.7 451.7 75.0 451.7 68.3 453.3 71.7 456.7 75.0 461.7 81.7 470.0 90.0 480.0 100.0 490.0 113.3 496.7ZM220.0 460.4 222.3 458.9 220.3 464.8 220.7 470.8 225.2 476.6 217.4 480.0 207.1 474.7 201.9 480.0 199.6 480.0 193.4 483.1 187.2 486.2 185.1 492.4 182.0 496.6 176.8 497.6 172.6 492.4 168.5 486.2 160.2 483.1 157.2 485.3 160.0 496.7 163.3 506.7 160.0 513.3 160.0 526.7 161.7 540.0 165.0 557.0 168.3 570.3 171.7 587.0 175.0 603.7 180.0 617.0 182.1 621.5 191.3 633.8 192.3 629.6 187.2 623.4 193.4 621.3 197.5 619.2 199.6 610.9 196.5 604.7 197.5 600.6 200.0 599.3 200.0 599.2 208.4 590.8 216.9 589.1 218.5 590.7 220.4 590.2 224.0 589.0 225.3 585.8 228.7 579.0 235.4 577.3 235.2 576.8 238.8 575.6 235.4 570.6 236.3 563.8 233.7 557.9 229.5 556.3 225.9 559.9 224.5 559.1 223.9 557.3 223.6 557.1 223.1 554.8 221.4 549.7 221.9 549.6 221.9 549.5 227.8 547.8 229.0 548.3 232.8 547.6 243.2 549.7 244.0 552.8 245.3 552.0 245.3 549.7 256.1 545.9 259.0 544.4 259.5 544.7 260.0 544.5 260.0 540.4 266.2 546.6 270.4 553.9 273.1 551.1 275.9 547.0 279.2 538.5 279.9 537.0 280.3 533.3 280.3 533.3 280.3 533.3 280.8 530.0 282.0 530.0 283.7 526.7 290.3 520.0 294.4 520.0 303.7 520.0 307.9 520.0 311.3 525.1 318.0 525.9 330.0 523.4 330.0 530.0 330.6 530.0 331.0 532.5 332.0 533.3 333.5 543.6 336.8 545.6 339.9 538.3 343.0 530.0 349.2 530.0 347.2 521.5 343.0 513.2 345.1 502.8 344.0 494.5 343.0 486.2 346.1 480.0 349.2 473.8 351.3 467.5 353.4 463.4 354.4 456.1 347.2 457.2 337.7 457.2 333.2 459.4 330.6 463.4 328.1 465.8 325.3 470.0 323.9 470.0 322.3 471.7 320.1 470.0 317.0 470.0 316.5 466.0 314.0 459.2 315.0 448.9 309.8 444.7 297.4 448.9 291.1 455.1 282.8 456.1 272.5 457.2 266.2 464.4 260.0 467.5 260.0 464.4 257.7 461.3 253.6 455.1 250.0 455.7 250.0 455.2 243.7 457.1 242.2 457.6 241.4 457.8 240.8 465.6 240.9 466.3 240.1 465.5 239.8 463.1 240.1 457.8 239.5 453.3 235.6 453.9 227.8 455.2 224.2 457.0 225.9 452.6 225.2 448.7 222.0 443.6 218.7 437.1 213.6 436.4 212.3 442.3 208.4 450.0 204.5 455.2 201.9 460.4 203.2 463.0 211.0 462.4ZM238.0 482.1 237.0 476.2 238.2 476.0 238.4 475.0 242.0 472.8 242.1 473.4 245.8 473.4 253.6 474.8 251.5 482.1 243.2 485.2ZM193.4 587.1 185.1 585.0 182.0 577.7 179.9 565.3 187.2 561.1 199.6 562.2 207.9 568.4 208.9 576.7 199.6 579.8ZM245.5 575.6 240.5 579.0 245.5 584.1 246.6 590.3 247.3 592.3 248.5 592.3 248.9 594.2 259.0 592.5 269.1 590.8 270.0 584.1 272.5 579.0 270.8 574.0 260.0 574.0 257.3 574.0 254.5 572.5 249.4 572.5 248.8 572.4ZM437.2 537.7 437.4 539.0 445.7 534.9 446.1 534.5 438.9 538.0ZM297.3 685.2 289.5 689.1 293.4 696.9 300.4 691.0ZM446.0 513.9 444.1 509.5 442.1 510.8 438.4 512.3 435.8 518.1 431.9 520.6 433.8 525.1 436.4 530.2 437.4 537.3 440.2 536.7 445.4 533.6 450.6 530.2 455.0 525.8 451.9 521.2 448.0 518.1ZM212.3 389.7 217.4 387.8 214.9 383.9 205.8 381.9 196.7 383.2 192.2 391.0 194.1 394.3 197.3 398.2 199.3 403.3 201.9 400.8 207.1 399.5 209.0 394.3ZM218.7 434.5 216.1 429.3 217.4 425.4 222.6 421.5 226.5 417.6 222.6 417.6 218.7 418.9 223.9 416.3 227.8 411.1 231.7 405.9 231.7 400.8 231.7 394.3 229.1 389.7 222.6 386.5 217.4 387.8 218.7 390.4 222.6 394.0 227.6 394.9 226.5 398.8 223.9 401.4 217.4 402.7 212.3 404.6 211.6 409.8 212.0 415.0 214.9 417.0 211.0 420.2 208.4 424.1 203.8 428.0 204.5 429.9 208.4 431.2 213.6 433.2ZM133.3 395.0 146.7 396.7 150.0 393.9 150.0 398.2 157.8 400.8 165.6 402.7 168.2 395.6 175.9 386.5 170.6 382.6 166.7 380.0 160.8 380.0 161.7 378.3 163.3 366.7 166.7 358.3 176.7 356.7 183.3 350.0 186.7 350.0 200.0 348.3 205.0 340.0 213.3 335.0 216.7 330.0 210.0 323.3 203.3 316.7 193.3 320.0 180.0 321.7 170.0 333.3 166.7 325.0 156.7 318.3 138.3 320.0 140.0 330.0 143.3 340.0 146.7 353.3 136.7 351.7 123.3 350.0 110.0 356.7 98.3 356.7 98.3 356.9 98.3 365.0 106.7 370.0 110.0 378.3 116.7 390.0 120.0 396.7 120.0 396.7ZM238.3 348.3 230.0 346.7 216.7 350.0 218.3 356.7 223.3 363.3 233.3 365.0 240.0 360.0ZM197.3 446.1 199.3 441.0 198.0 435.8 192.8 431.9 191.5 431.7 190.2 430.3 189.2 429.9 187.7 429.3 178.9 430.2 179.9 440.6 183.0 449.9 187.6 450.7 187.6 450.7 187.8 450.7 189.2 450.9 189.6 450.7 192.8 450.7ZM152.6 460.4 152.9 462.7 153.3 463.3 153.3 465.7 154.9 478.1 155.6 480.0 175.9 480.0 177.2 470.8 176.6 470.6 178.9 464.4 174.7 463.4 163.4 457.7 163.0 456.5ZM191.3 463.4 185.1 467.5 185.3 468.1 185.0 468.2 186.3 480.0 201.9 480.0 207.1 474.7 217.4 480.0 225.2 476.6 220.7 470.8 220.0 461.1 211.5 462.9 211.5 462.9 211.0 463.0 201.9 464.3 195.4 463.0 195.4 463.0ZM243.2 485.2 251.5 482.1 253.6 474.8 245.8 473.4 242.1 473.4 242.0 472.8 238.4 475.0 238.2 476.0 237.0 476.2 238.0 482.1ZM384.3 394.0 381.0 390.7 373.1 383.5 365.8 383.5 359.6 388.7 362.7 397.0 365.8 401.1 374.1 399.1ZM260.0 378.3 260.0 383.5 269.3 382.5 268.3 376.2ZM296.4 541.3 297.8 550.4 297.8 545.4 297.4 541.4ZM297.4 540.4 298.9 540.0 301.2 537.7 307.9 535.2 314.7 536.0 321.4 539.4 324.1 544.2 324.2 544.1 324.8 545.3 325.9 543.8 327.4 543.5 331.4 545.5 333.7 545.0 332.0 533.3 331.0 532.5 330.6 530.0 330.0 530.0 330.0 523.4 318.0 525.9 311.3 525.1 307.9 520.0 303.7 520.0 294.4 520.0 290.3 520.0 283.7 526.7 282.0 530.0 280.8 530.0 280.3 533.3 280.3 533.3 280.3 533.3 279.9 537.0 282.6 530.1 280.9 538.5 287.7 538.5 296.1 539.4 296.3 540.4ZM208.9 576.7 207.9 568.4 199.6 562.2 187.2 561.1 179.9 565.3 182.0 577.7 185.1 585.0 193.4 587.1 199.6 579.8ZM257.3 563.8 264.1 558.8 267.4 552.0 264.1 547.0 259.0 544.4 250.6 548.7 244.0 552.8 243.2 549.7 232.8 547.6 229.0 548.3 227.8 547.8 221.9 549.5 221.9 549.6 221.4 549.7 223.1 554.8 223.6 557.1 223.9 557.3 224.5 559.1 225.9 559.9 229.5 556.3 233.7 557.9 236.3 563.8 235.4 570.6 238.8 575.6 235.2 576.8 235.4 577.3 240.5 579.0 245.5 575.6 250.6 570.6ZM193.4 621.3 187.2 623.4 192.3 629.6 195.5 642.1 200.6 654.5 203.8 662.8 210.0 656.6 214.1 646.2 213.1 637.9 207.9 631.7 208.6 627.0 209.2 626.7 208.4 622.9 216.9 621.2 217.7 621.3 220.2 619.5 221.3 616.2 222.4 615.1 218.3 608.9 217.9 608.4 215.2 604.3 218.5 600.9 221.9 594.2 219.7 592.0 220.4 590.2 218.5 590.7 216.9 589.1 208.4 590.8 200.0 599.2 200.0 599.3 197.5 600.6 196.5 604.7 199.6 610.9 197.5 619.2ZM259.0 600.9 269.1 599.2 269.1 591.7 260.0 592.4 260.0 592.3 259.5 592.4 259.3 592.5 259.0 592.5 248.1 595.0 247.8 596.3 247.3 596.4 247.5 597.3 245.5 606.0 248.9 604.3ZM315.0 668.0 307.7 667.0 299.4 665.9 291.1 664.9 289.1 668.0 291.1 675.3 297.4 679.4 301.5 684.6 307.7 687.7 314.0 684.6 320.2 681.5 328.5 679.4 331.6 675.3 328.5 669.0 322.3 667.0ZM297.8 550.4 296.1 541.1 287.7 540.2 279.2 541.9 275.9 547.0 275.9 553.7 279.2 557.9 287.7 561.3 296.1 559.6ZM301.4 575.5 301.2 574.0 294.4 573.1 291.9 577.3 284.3 578.2 277.6 576.5 272.5 580.7 272.5 584.9 277.6 585.8 278.4 592.5 283.5 592.5 284.3 587.4 289.4 584.9 292.7 585.8 297.8 589.1 302.9 587.4 301.7 578.0 301.2 575.6ZM277.9 768.9 285.6 768.9 293.4 763.0 295.4 756.0 283.7 757.2 275.9 763.0ZM222.6 394.0 218.7 390.4 217.4 387.8 212.3 389.7 210.3 394.9 211.0 400.8 212.3 404.6 217.4 402.7 223.9 401.4 226.5 398.8 227.6 394.9ZM234.3 396.2 233.0 396.9 231.7 400.8 231.7 405.9 227.8 411.1 230.4 415.0 235.6 411.1 239.4 408.3 234.3 404.5Z" clip-rule="evenodd"/></clipPath></defs>
<use href="#mesh" fill="none" stroke="#fff" stroke-opacity="0.85" stroke-width="1.0" stroke-linejoin="round"/>
<g clip-path="url(#cd)"><use href="#mesh" fill="none" stroke="#fcd9bb" stroke-width="1.05" stroke-linejoin="round"/></g>
<polygon points="46.2,418.4 64.9,402.8 81.5,402.8 98.1,401.8 108.5,399.7 117.8,397.6 119.9,396.6 125.1,400.8 123.0,409.1 119.9,417.4 123.0,421.5 131.3,427.7 133.4,434.0 123.0,435.0 110.6,436.0 106.4,440.2 102.3,442.3 98.1,440.6 87.7,442.7 76.3,441.6 67.0,436.4 60.8,428.1" fill="#9c3600"/><polygon points="140.0,40.0 350.0,40.0 350.0,100.0 337.0,111.0 332.0,121.0 323.7,128.0 320.0,130.0 318.7,139.7 307.0,141.5 305.3,141.0 307.0,131.3 288.7,114.7 282.0,98.0 270.3,104.7 257.0,109.7 246.7,114.7 226.7,121.3 200.0,118.0 177.0,123.0 140.0,123.0" fill="#dfdfdf"/>
</g>
<polygon points="524.1,470.6 527.0,468.5 530.7,466.8 534.9,462.3 538.6,456.0 541.7,448.8 544.9,447.3 546.5,451.9 547.8,460.2 548.6,468.5 548.4,475.1 543.2,476.0 537.0,475.1 532.8,475.7 528.2,474.3 524.5,473.0" fill="#8c8c8c" stroke="#868686" stroke-width="1"/><polygon points="640.1,670.9 643.0,671.4 643.5,678.8 642.5,686.7 640.9,690.6 641.4,698.5 640.4,705.1 638.3,707.7 636.7,715.6 635.1,723.5 633.0,728.2 630.9,726.6 631.4,719.5 630.4,715.6 632.5,710.3 634.1,705.1 633.5,697.2 634.6,690.6 636.7,686.7 637.7,677.5" fill="#ecd8d0" stroke="#8a8a8a" stroke-width="0.9"/><polygon points="627.0,739.2 630.4,738.2 632.5,741.8 631.4,746.6 627.8,747.6 625.7,743.9" fill="#ecd8d0" stroke="#8a8a8a" stroke-width="0.9"/><circle cx="655.9" cy="641.5" r="1.0" fill="#8a8a8a"/><circle cx="661.7" cy="705" r="1.3" fill="#8a8a8a"/><circle cx="623" cy="722" r="1.3" fill="#8a8a8a"/><circle cx="636.2" cy="779.4" r="1.6" fill="#8a8a8a"/><circle cx="644" cy="801" r="1.8" fill="#8a8a8a"/><circle cx="653.2" cy="804.5" r="2.0" fill="#8a8a8a"/><circle cx="650.6" cy="808.8" r="2.0" fill="#8a8a8a"/><circle cx="656.4" cy="795.7" r="1.0" fill="#8a8a8a"/><circle cx="641.5" cy="712" r="1.6" fill="#8a8a8a"/><circle cx="643" cy="706" r="1.4" fill="#8a8a8a"/><circle cx="144" cy="686" r="1.0" fill="#8a8a8a"/><circle cx="163" cy="704" r="0.9" fill="#8a8a8a"/><circle cx="151.5" cy="801" r="0.9" fill="#8a8a8a"/><polygon points="50.0,418.3 55.0,415.0 61.7,412.7 63.3,416.0 57.3,419.3 53.3,422.0" fill="#9a9a9a" stroke="#8a8a8a" stroke-width="0.8"/><polygon points="69.3,452.7 74.0,450.7 77.3,453.3 72.7,456.0" fill="#9a9a9a" stroke="#8a8a8a" stroke-width="0.8"/><polygon points="640.4,705.1 643.5,704.0 644.1,710.3 642.5,716.9 640.9,715.6 641.4,710.3" fill="#999" stroke="#8a8a8a" stroke-width="0.5"/><polygon points="632.5,688.0 635.1,688.8 634.6,692.5 632.5,691.9" fill="#999" stroke="#8a8a8a" stroke-width="0.5"/><polygon points="630.9,722.9 634.6,723.5 634.1,728.2 631.4,727.7" fill="#999" stroke="#8a8a8a" stroke-width="0.5"/><polyline points="177.0,123.0 200.0,118.0 226.7,121.3 246.7,114.7 257.0,109.7 270.3,104.7 282.0,98.0" fill="none" stroke="#fff" stroke-opacity="0.85" stroke-width="0.9"/><polyline points="282.0,98.0 288.7,114.7 307.0,131.3 305.3,141.0" fill="none" stroke="#fff" stroke-opacity="0.85" stroke-width="0.9"/><polyline points="257.0,109.7 262.0,125.0 257.0,139.7 267.0,153.0 272.0,171.3" fill="none" stroke="#fff" stroke-opacity="0.85" stroke-width="0.9"/><polyline points="119.9,396.6 125.1,400.8 123.0,409.1 119.9,417.4 123.0,421.5 131.3,427.7 133.4,434.0 123.0,435.0 110.6,436.0 106.4,440.2 102.3,442.3" fill="none" stroke="#fff0e4" stroke-opacity="0.85" stroke-width="1"/>
<g fill="none" stroke="#868686" stroke-width="1.5" stroke-linejoin="round" stroke-linecap="round">
<g clip-path="url(#c)">
<polyline points="217.4,193.2 226.8,189.7 233.0,182.5 235.1,174.2 239.2,170.0 257.0,164.7 267.0,171.3 283.7,176.3 292.0,178.0 293.7,181.3"/>
<polyline points="226.8,189.7 229.9,197.0 235.1,203.2 238.2,211.5 241.3,215.7 246.5,214.6 251.7,221.9 253.8,230.2"/>
<polyline points="253.8,230.2 256.9,234.3 257.9,240.6 253.8,244.7 247.5,249.9 241.3,252.0 239.2,259.2 233.0,258.2 224.7,259.2 220.6,261.3"/>
<polyline points="186.3,253.0 199.8,254.0 200.8,261.3 205.0,269.6 210.2,267.5 218.5,271.7 221.6,267.5 220.6,261.3"/>
<polyline points="221.6,267.5 220.6,271.7 222.6,280.0 225.7,288.3 229.9,294.5 235.1,299.7 237.2,304.9 236.1,311.1 241.3,309.0 241.3,304.9 247.5,302.8 251.7,304.9 255.8,300.7 257.9,307.0 258.9,315.3 266.2,313.2"/>
<polyline points="274.5,242.6 268.3,248.9 264.1,257.2 263.1,269.6 264.1,280.0 263.1,286.2 268.3,294.5 272.4,300.7 268.3,307.0 266.2,313.2 270.4,321.5 274.5,330.0"/>
<polyline points="263.1,286.2 258.9,286.2 257.5,291.4 262.1,294.5 268.3,294.5"/>
<polyline points="253.8,230.2 260.0,234.3 266.2,240.6 274.5,242.6"/>
<polyline points="274.5,242.6 279.7,234.3 278.7,226.0 282.8,220.8 293.2,217.7 301.5,218.8 310.0,221.9 307.0,216.3"/>
<polyline points="274.5,242.6 279.7,253.0 282.5,263.2 290.8,259.1 301.1,269.4 311.5,277.7 321.9,282.9 331.2,286.0 336.4,278.8"/>
<polyline points="274.5,330.0 277.0,331.7 290.3,335.0 303.7,338.3 308.7,346.7 310.3,355.0 303.7,366.7 297.0,375.0 300.3,380.0"/>
<polyline points="297.0,375.0 290.3,381.7 290.3,396.7 297.0,403.3 303.7,405.0 307.0,396.7 305.3,385.0 300.3,380.0"/>
<polyline points="300.3,380.0 313.7,378.3 327.0,380.0 338.7,376.7 348.7,381.7 357.0,383.3 363.7,381.7 368.7,390.0 375.3,388.3 385.3,395.0 395.3,396.7 397.0,406.7 408.7,411.7 413.7,403.3 410.3,386.7 412.0,380.0 420.0,376.8"/>
<polyline points="413.7,400.0 423.7,396.7 437.0,400.0 450.3,398.3 460.3,396.7 470.3,390.0 483.7,395.0 490.3,400.0 497.0,396.7 505.3,386.7 514.0,380.0"/>
<polyline points="400.0,486.1 397.0,488.3 390.3,496.7 388.7,510.0 395.3,516.7 393.7,520.0 385.3,515.0 378.7,516.7 380.3,530.0 383.7,540.0 380.3,550.0 373.7,557.0"/>
<polyline points="397.0,406.7 390.3,415.0 378.7,418.3 382.0,428.3 373.7,440.0 367.0,448.3 357.0,456.7 353.7,456.7"/>
<polyline points="201.9,469.4 207.8,473.7 215.6,477.6 225.9,478.9 238.9,478.9 242.8,486.7 251.9,482.8 255.6,475.8 263.3,470.4 270.4,471.9 272.7,477.4 280.5,478.1 288.2,476.6 292.9,474.2 297.6,476.6 305.4,476.6 310.0,473.5 316.3,473.5 320.9,475.0 327.2,474.2 333.4,473.5 339.6,475.8 342.7,480.5 345.8,482.0 343.7,486.7 345.3,500.0 342.0,506.7 347.0,516.7 350.3,530.0 343.7,533.3 340.3,545.0"/>
<polyline points="345.8,482.0 347.4,478.9 350.5,471.1 352.8,463.3 355.2,457.1"/>
<polyline points="182.0,621.3 187.2,623.4 193.4,621.3 197.5,619.2 199.6,610.9 196.5,604.7 197.5,600.6 208.4,590.8 216.9,589.1 225.3,585.8 228.7,579.0 235.4,577.3 240.5,579.0 245.5,575.6 250.6,570.6 257.3,563.8 264.1,558.8 270.8,554.6 275.9,547.0 279.2,538.5 282.6,530.1 289.4,525.1 294.4,520.0 303.6,520.5 307.7,524.6 320.2,524.6 328.5,530.0 330.6,530.0 331.6,536.2 331.6,542.5 336.8,545.6 340.9,547.6 347.2,554.9 353.4,561.1 356.5,568.4 363.8,570.5 367.9,569.4"/>
<polyline points="336.8,545.6 339.9,538.3 343.0,530.0"/>
<polyline points="193.4,621.3 192.3,629.6 191.3,633.8 193.4,640.0"/>
<polyline points="270.8,554.6 274.2,562.2 273.3,570.6 270.8,574.0 272.5,580.7 270.0,584.1 269.1,590.8 269.1,599.2 272.5,604.3 272.5,614.4"/>
<polyline points="272.5,615.1 291.1,613.0 314.0,600.6 332.6,592.3 343.0,588.1 353.4,584.0 365.8,574.6 367.9,569.4 373.1,567.4 379.3,565.3 384.5,559.1 388.7,552.8 392.8,550.8 397.0,557.0 401.1,552.8 405.3,548.7 413.6,542.5 420.0,538.3 426.7,543.3 436.7,540.0 443.3,533.3 448.3,531.7"/>
<polyline points="373.7,557.0 371.7,550.0 368.3,560.0 368.3,570.0"/>
<polyline points="272.5,614.4 262.4,617.8 260.7,621.2 264.1,627.9 262.4,636.3 255.6,638.0 255.6,650.0 256.7,650.3 263.3,657.0 260.0,663.7 263.3,668.7 270.0,667.0 273.3,657.0 268.3,655.3 265.0,658.7 273.3,663.7 286.7,667.0 293.3,673.7 298.3,683.7 293.3,690.3 290.0,695.3"/>
<polyline points="290.0,695.3 296.7,693.7 300.0,685.3 313.3,685.3 326.7,680.3 338.3,675.3"/>
<polyline points="290.0,695.3 281.7,692.0 275.0,697.0 273.3,707.0 263.3,712.0 256.7,717.0 246.7,720.3"/>
<polyline points="246.7,720.3 240.0,717.0 233.3,713.7 225.0,710.3 218.3,707.0"/>
<polyline points="246.7,720.3 248.3,730.3 255.0,737.0 253.3,747.0 260.0,753.7 265.0,760.3 263.3,773.7 266.7,787.0 265.0,797.0 266.7,803.7"/>
<polyline points="428.3,319.7 425.2,324.9 430.4,333.2 435.6,338.4 432.5,343.6 425.2,345.7 428.3,351.9 426.2,356.0 434.5,360.2 440.8,366.4 432.5,369.5 426.2,372.6 420.0,376.8"/>
<polyline points="524.8,348.8 521.7,354.0 517.5,360.2 519.6,366.4 523.8,370.6 519.6,374.7 517.5,378.9 515.5,377.8"/>
<polyline points="515.5,377.8 519.6,383.0 520.6,391.3 523.8,394.4 517.5,399.6 513.4,405.8 509.2,412.1 503.0,415.2 496.8,417.3 490.6,420.4 482.3,422.4 477.1,426.6 471.9,428.7 470.8,434.9 470.6,433.2 474.7,436.3 483.0,438.4 486.1,444.6 491.3,448.8 495.5,456.0 499.6,462.3 503.8,466.4 507.9,469.5"/>
<polyline points="486.1,444.6 480.9,447.7 476.8,449.8 473.7,456.0 472.6,462.3 464.3,461.2 458.1,460.2 452.9,458.1 451.9,451.9 445.7,452.9 437.4,454.0 429.1,454.0 422.8,457.1 417.6,462.3 415.6,470.6 412.5,478.9 408.3,485.1 400.0,486.1"/>
<polyline points="400.0,414.5 408.3,412.5 412.5,408.3 413.5,400.0"/>
<polyline points="412.5,400.0 413.5,408.3 420.8,416.6 425.9,422.8 427.0,431.1 433.2,439.4 427.0,447.7 428.0,452.9"/>
<polyline points="621.0,335.2 632.6,333.9 645.6,335.2 658.6,333.9 663.8,330.0 668.9,323.6 674.1,318.4 684.5,315.8 694.9,311.9 705.3,308.0 711.8,308.0 713.0,314.5 710.5,319.7 714.3,322.3 707.9,327.4 701.4,328.7 694.9,335.2 693.6,340.4"/>
<polyline points="694.9,335.2 687.1,337.8 679.3,341.7 671.5,349.5 666.4,356.0 661.2,362.5 656.0,363.8 659.9,367.7 666.4,370.2 676.7,371.5 680.6,374.1"/>
<polyline points="659.9,367.7 659.9,372.8 652.1,374.1 649.5,381.9 646.9,389.7 643.0,396.2 644.3,402.7 641.7,409.2 650.8,410.5"/>
<polyline points="641.7,409.2 637.8,402.7 633.9,401.4 631.3,405.3 627.4,410.5"/>
<polyline points="566.5,371.5 567.8,366.4 571.7,362.5 583.3,361.2 593.7,363.8 601.5,366.4 608.0,361.2 614.5,358.6 622.3,359.9 623.6,366.4 630.0,368.9 635.2,375.4 636.5,379.3 630.0,381.9"/>
<polyline points="624.9,413.0 623.6,420.8 626.1,428.6"/>
<polyline points="524.8,330.1 532.1,329.1 542.4,323.9"/>
<polyline points="564.0,350.0 565.7,341.7"/>
<polyline points="150.0,398.2 157.8,400.8 165.6,402.7 169.5,405.9 172.0,411.1 175.9,416.3 178.5,420.2 182.4,425.4 187.6,429.3 192.8,431.2 198.0,434.5 201.9,431.9 204.5,428.0 208.4,424.1 211.0,420.2 209.7,412.4 207.7,405.9 207.1,399.5 209.0,394.3 211.6,389.7 216.1,387.8 220.0,386.5 222.6,389.1 227.8,391.7 230.4,395.6 231.7,400.8 231.1,405.9 227.8,411.1 225.2,415.0 230.4,415.0 235.6,411.1 240.8,407.2 246.0,405.9 250.0,404.6"/>
<polyline points="198.0,434.5 199.3,441.0 198.0,447.4 194.1,452.6 192.8,457.8 195.4,463.0 201.9,464.3 201.9,469.5"/>
</g>
<polygon points="181.7,56.3 200.0,53.7 216.7,50.3 221.7,52.3 230.0,63.0 248.3,73.0 257.0,84.7 263.7,89.7 270.3,93.0 270.3,96.3 282.0,98.0 290.3,89.7 300.3,85.7 310.3,85.7 312.0,83.0 323.7,85.7 335.3,89.7 337.7,96.3 337.0,111.3 332.0,121.3 323.7,128.0 320.3,129.7 318.7,139.7 307.0,141.3 305.3,144.7 308.7,149.7 307.0,154.7 315.3,159.7 318.7,163.0 317.0,171.3 321.0,179.0 308.7,187.0 305.3,183.0 300.3,179.7 293.7,181.3 295.3,189.7 298.7,194.7 300.3,203.0 303.7,213.0 307.0,216.3 308.7,213.0 313.7,219.7 323.7,225.7 333.7,229.7 342.0,238.0 355.3,245.3 352.0,251.3 345.3,259.7 340.3,269.7 335.3,283.0 345.3,289.7 357.0,300.0 370.3,308.3 390.3,315.0 407.0,321.7 420.3,321.7 427.0,325.0 433.7,320.0 442.0,325.0 447.0,331.7 463.7,338.3 483.7,345.0 500.0,344.8 509.3,347.0 518.7,346.0 525.7,348.3 529.2,340.0 524.5,330.8 523.3,325.0 525.7,318.0 525.7,308.7 535.0,304.5 542.0,307.5 543.2,315.7 542.0,322.7 544.3,327.3 549.0,335.5 556.0,339.0 563.0,340.2 566.5,342.5 575.7,336.7 590.7,336.7 607.3,336.0 620.7,335.0 619.0,328.3 620.7,321.7 614.0,320.0 607.3,316.7 609.0,311.7 620.7,310.0 630.7,308.3 642.3,300.0 649.0,290.0 660.7,287.3 667.3,281.7 674.0,276.7 680.7,270.7 690.7,275.0 699.0,278.3 707.3,271.7 714.0,268.3 719.0,275.0 724.0,277.3 725.7,283.3 722.3,290.0 727.3,296.7 735.7,295.0 744.0,300.0 746.7,306.7 740.7,313.3 735.7,318.3 740.7,330.0 734.0,325.0 724.0,323.3 714.0,325.0 704.0,330.0 695.7,335.0 694.0,343.3 692.3,353.3 687.3,366.7 680.7,373.3 684.0,380.0 679.0,391.7 674.0,403.3 669.0,415.0 657.3,413.3 650.7,413.3 650.7,426.7 647.3,440.0 644.2,448.6 642.8,458.0 640.0,465.0 634.1,463.8 633.0,458.0 629.5,444.0 627.1,430.0 626.0,416.0 621.3,425.3 614.3,433.5 608.5,439.3 603.8,435.8 600.3,427.6 598.0,419.5 600.3,411.3 607.3,407.8 614.3,405.5 622.5,402.0 624.8,397.3 626.0,390.3 630.6,386.8 626.0,383.3 612.0,383.3 598.0,383.3 581.6,382.0 567.6,378.6 566.5,371.6 567.6,360.0 563.0,357.6 557.0,360.0 553.7,355.3 546.7,351.8 539.7,350.6 535.0,347.0 531.5,350.6 526.8,356.5 524.5,360.0 525.7,364.6 530.3,369.3 537.3,374.0 545.5,379.8 539.7,381.4 532.7,379.8 529.2,383.3 523.3,392.6 530.3,399.6 538.5,406.6 538.5,416.0 543.2,430.0 545.5,433.5 543.2,439.3 545.5,451.0 547.8,462.6 547.8,473.0 537.3,475.4 526.8,474.3 523.5,473.0 510.0,469.3 501.2,479.7 496.0,487.4 494.7,496.5 498.6,497.8 492.1,505.6 485.6,512.1 475.3,518.6 464.9,522.5 454.5,527.7 444.1,536.7 436.4,543.2 428.6,552.3 418.2,561.4 407.8,570.5 397.4,580.8 388.4,589.9 385.8,597.7 376.7,602.9 368.9,606.8 361.1,613.3 355.0,619.0 351.7,620.0 343.3,621.7 336.7,628.3 333.3,640.0 336.7,653.3 335.0,666.7 338.3,675.0 338.3,686.7 331.7,700.0 328.3,713.3 328.3,726.7 326.7,740.0 328.3,750.3 321.7,755.3 313.3,762.0 306.7,770.3 310.0,775.3 316.7,778.7 305.0,780.3 295.0,787.0 288.3,793.7 281.7,800.3 273.3,805.3 268.3,803.0 260.0,795.3 251.7,783.7 245.0,770.3 240.0,753.7 235.0,738.7 228.3,723.7 220.0,710.3 211.7,697.0 206.7,683.7 205.0,667.0 199.0,655.3 191.5,642.0 185.5,628.7 180.0,617.0 175.0,603.7 171.7,587.0 168.3,570.3 165.0,557.0 161.7,540.0 160.0,526.7 160.0,513.3 163.3,506.7 160.0,496.7 156.7,483.3 153.3,473.3 153.3,463.3 150.0,458.3 146.7,463.3 148.3,470.0 146.7,480.0 140.0,490.0 126.7,495.0 113.3,496.7 100.0,490.0 90.0,480.0 81.7,470.0 75.0,461.7 71.7,456.7 68.3,453.3 75.0,451.7 81.7,451.7 95.0,449.3 100.0,446.7 86.7,445.0 71.7,441.7 63.3,435.0 58.3,426.7 55.0,421.7 50.0,418.3 56.7,415.0 61.7,411.7 65.0,406.0 76.7,406.0 90.0,406.0 100.0,401.7 113.3,400.0 120.0,396.7 116.7,390.0 110.0,378.3 106.7,370.0 98.3,365.0 98.3,356.7 95.0,345.0 83.3,340.0 81.7,335.0 85.0,326.7 93.3,315.0 101.7,306.7 110.0,310.0 120.0,311.7 133.3,306.7 146.7,300.0 160.0,283.0 173.3,258.0 188.3,251.3 186.7,246.3 191.7,236.3 203.3,223.0 201.7,206.3 210.0,198.0 216.0,188.0 210.0,183.0 203.3,176.3 191.7,171.3 180.0,164.7 176.7,143.0 175.0,128.0 178.3,121.3 186.7,114.7 188.3,109.7 181.7,104.7 184.0,98.0 181.7,93.0 166.7,89.0 163.3,86.3 155.0,84.7 153.3,78.0 156.7,71.3 166.7,63.0" stroke-width="1.7"/>
</g>
</svg>
</body></html>
